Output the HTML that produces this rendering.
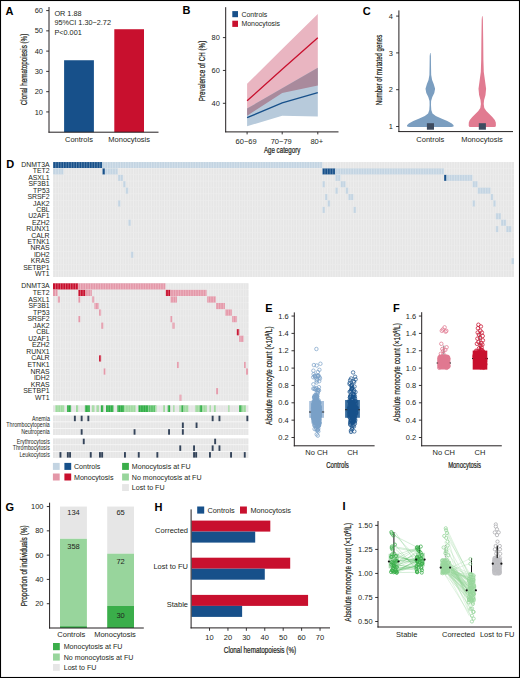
<!DOCTYPE html>
<html><head><meta charset="utf-8"><title>Figure</title>
<style>html,body{margin:0;padding:0;background:#fff;}body{width:520px;height:678px;overflow:hidden;font-family:"Liberation Sans",sans-serif;}svg{display:block;}</style>
</head><body>
<svg width="520" height="678" viewBox="0 0 520 678" font-family='"Liberation Sans", sans-serif'>
<rect x="0" y="0" width="520" height="678" fill="#fff"/>
<text x="5.6" y="14.6" font-size="11" text-anchor="start" fill="#000" font-weight="bold">A</text>
<rect x="64.1" y="60.24" width="29.8" height="71.96" fill="#17508a"/>
<rect x="114.3" y="29.23" width="29.7" height="102.97" fill="#c8102e"/>
<line x1="49" y1="7" x2="49" y2="132.65" stroke="#231f20" stroke-width="1"/>
<line x1="48.5" y1="132.2" x2="158.5" y2="132.2" stroke="#231f20" stroke-width="1"/>
<line x1="46.2" y1="111.93" x2="49" y2="111.93" stroke="#231f20" stroke-width="0.9"/>
<text x="0" y="0" font-size="8" text-anchor="end" fill="#231f20" transform="translate(43 114.53) scale(0.93 1)">10</text>
<line x1="46.2" y1="91.66" x2="49" y2="91.66" stroke="#231f20" stroke-width="0.9"/>
<text x="0" y="0" font-size="8" text-anchor="end" fill="#231f20" transform="translate(43 94.26) scale(0.93 1)">20</text>
<line x1="46.2" y1="71.39" x2="49" y2="71.39" stroke="#231f20" stroke-width="0.9"/>
<text x="0" y="0" font-size="8" text-anchor="end" fill="#231f20" transform="translate(43 73.99) scale(0.93 1)">30</text>
<line x1="46.2" y1="51.12" x2="49" y2="51.12" stroke="#231f20" stroke-width="0.9"/>
<text x="0" y="0" font-size="8" text-anchor="end" fill="#231f20" transform="translate(43 53.72) scale(0.93 1)">40</text>
<line x1="46.2" y1="30.85" x2="49" y2="30.85" stroke="#231f20" stroke-width="0.9"/>
<text x="0" y="0" font-size="8" text-anchor="end" fill="#231f20" transform="translate(43 33.45) scale(0.93 1)">50</text>
<line x1="46.2" y1="10.58" x2="49" y2="10.58" stroke="#231f20" stroke-width="0.9"/>
<text x="0" y="0" font-size="8" text-anchor="end" fill="#231f20" transform="translate(43 13.18) scale(0.93 1)">60</text>
<text x="54.4" y="15.5" font-size="7.3" text-anchor="start" fill="#231f20">OR 1.88</text>
<text x="54.4" y="25.4" font-size="7.3" text-anchor="start" fill="#231f20">95%CI 1.30&#8722;2.72</text>
<text x="54.4" y="35.2" font-size="7.3" text-anchor="start" fill="#231f20">P&lt;0.001</text>
<text x="79" y="141.7" font-size="7.5" text-anchor="middle" fill="#231f20">Controls</text>
<text x="129.2" y="141.7" font-size="7.5" text-anchor="middle" fill="#231f20">Monocytosis</text>
<text x="0" y="0" font-size="8.2" text-anchor="middle" fill="#231f20" stroke="#231f20" stroke-width="0.22" transform="translate(26.8 69.5) rotate(-90) scale(0.7675 1)">Clonal hematopoiesis (%)</text>
<text x="182.6" y="14.4" font-size="11" text-anchor="start" fill="#000" font-weight="bold">B</text>
<polygon points="247.1,83.8 282.2,48.9 317.8,13.9 317.8,85.4 282.2,93.1 247.1,115.7" fill="#e9b5c1"/>
<polygon points="247.1,108.5 282.2,88.3 317.8,67.7 317.8,116.6 282.2,115.7 247.1,126.2" fill="#b7cadb"/>
<polygon points="247.1,108.5 282.2,88.3 317.8,67.7 317.8,85.4 282.2,93.1 247.1,115.7" fill="#a98a9c"/>
<polyline points="247.1,117.7 282.2,102.8 317.8,92.6" fill="none" stroke="#17508a" stroke-width="1.3"/>
<polyline points="247.1,100.8 282.2,69.3 317.8,37.8" fill="none" stroke="#c8102e" stroke-width="1.3"/>
<line x1="225.7" y1="7.2" x2="225.7" y2="132.3" stroke="#231f20" stroke-width="1"/>
<line x1="225.2" y1="131.9" x2="338.5" y2="131.9" stroke="#231f20" stroke-width="1"/>
<line x1="222.9" y1="103.3" x2="225.7" y2="103.3" stroke="#231f20" stroke-width="0.9"/>
<text x="0" y="0" font-size="8" text-anchor="end" fill="#231f20" transform="translate(219.8 105.9) scale(0.93 1)">40</text>
<line x1="222.9" y1="70.45" x2="225.7" y2="70.45" stroke="#231f20" stroke-width="0.9"/>
<text x="0" y="0" font-size="8" text-anchor="end" fill="#231f20" transform="translate(219.8 73.05) scale(0.93 1)">60</text>
<line x1="222.9" y1="37.6" x2="225.7" y2="37.6" stroke="#231f20" stroke-width="0.9"/>
<text x="0" y="0" font-size="8" text-anchor="end" fill="#231f20" transform="translate(219.8 40.2) scale(0.93 1)">80</text>
<line x1="247.1" y1="131.9" x2="247.1" y2="134.4" stroke="#231f20" stroke-width="0.9"/>
<text x="246.1" y="143.6" font-size="7.5" text-anchor="middle" fill="#231f20">60&#8722;69</text>
<line x1="282.2" y1="131.9" x2="282.2" y2="134.4" stroke="#231f20" stroke-width="0.9"/>
<text x="281.2" y="143.6" font-size="7.5" text-anchor="middle" fill="#231f20">70&#8722;79</text>
<line x1="317.8" y1="131.9" x2="317.8" y2="134.4" stroke="#231f20" stroke-width="0.9"/>
<text x="316.8" y="143.6" font-size="7.5" text-anchor="middle" fill="#231f20">80+</text>
<text x="0" y="0" font-size="8.2" text-anchor="middle" fill="#231f20" stroke="#231f20" stroke-width="0.22" transform="translate(282.1 153.1) scale(0.7554 1)">Age category</text>
<text x="0" y="0" font-size="8.2" text-anchor="middle" fill="#231f20" stroke="#231f20" stroke-width="0.22" transform="translate(204.9 70.95) rotate(-90) scale(0.7630 1)">Prevalence of CH (%)</text>
<rect x="232.3" y="11.1" width="5.7" height="6.1" fill="#17508a"/>
<rect x="232.3" y="20.7" width="5.7" height="6.2" fill="#c8102e"/>
<text x="0" y="0" font-size="7.4" fill="#231f20" transform="translate(241.4 16.6) scale(0.94 1)">Controls</text>
<text x="0" y="0" font-size="7.4" fill="#231f20" transform="translate(241.4 26.2) scale(0.94 1)">Monocytosis</text>
<text x="362.7" y="14.5" font-size="11" text-anchor="start" fill="#000" font-weight="bold">C</text>
<polygon points="430.1,53.1 429.7,56 429.6,65 429.4,75 428.5,80 426.9,84 425.5,88.7 426.3,93 428.3,97 429.5,101 429.6,105 429.3,110 428.1,113.5 424.8,116 419.3,118.5 413.3,121 408.8,123.5 407,125.3 407.1,126.6 409.3,127 430.3,127 430.3,127 451.3,127 453.5,126.6 453.6,125.3 451.8,123.5 447.3,121 441.3,118.5 435.8,116 432.5,113.5 431.3,110 431,105 431.1,101 432.3,97 434.3,93 435.1,88.7 433.7,84 432.1,80 431.2,75 431,65 430.9,56 430.5,53.1" fill="#7b9ec0"/>
<polygon points="482,16.2 481.7,20 481.4,40 481.2,60 480.8,72 479.7,80 478.5,88.7 479.1,95 480.5,100 480.9,104 480.3,108 478.3,111 475.3,114 472.3,117 469.8,120 468.8,122.5 468.7,125.5 469.1,126.7 470.3,127 482.3,127 482.3,127 494.3,127 495.5,126.7 495.9,125.5 495.8,122.5 494.8,120 492.3,117 489.3,114 486.3,111 484.3,108 483.7,104 484.1,100 485.5,95 486.1,88.7 484.9,80 483.8,72 483.4,60 483.2,40 482.9,20 482.6,16.2" fill="#e17b91"/>
<rect x="426.9" y="123.2" width="7.1" height="6.5" fill="#3d4b5f"/>
<rect x="478.8" y="123.2" width="7.1" height="6.5" fill="#3d4b5f"/>
<line x1="398.9" y1="10.4" x2="398.9" y2="132" stroke="#231f20" stroke-width="1"/>
<line x1="398.4" y1="131.6" x2="513" y2="131.6" stroke="#231f20" stroke-width="1"/>
<line x1="396.1" y1="126.5" x2="398.9" y2="126.5" stroke="#231f20" stroke-width="0.9"/>
<text x="0" y="0" font-size="8" text-anchor="end" fill="#231f20" transform="translate(393 129.1) scale(0.93 1)">1</text>
<line x1="396.1" y1="89.7" x2="398.9" y2="89.7" stroke="#231f20" stroke-width="0.9"/>
<text x="0" y="0" font-size="8" text-anchor="end" fill="#231f20" transform="translate(393 92.3) scale(0.93 1)">2</text>
<line x1="396.1" y1="52.9" x2="398.9" y2="52.9" stroke="#231f20" stroke-width="0.9"/>
<text x="0" y="0" font-size="8" text-anchor="end" fill="#231f20" transform="translate(393 55.5) scale(0.93 1)">3</text>
<line x1="396.1" y1="16.1" x2="398.9" y2="16.1" stroke="#231f20" stroke-width="0.9"/>
<text x="0" y="0" font-size="8" text-anchor="end" fill="#231f20" transform="translate(393 18.7) scale(0.93 1)">4</text>
<text x="430.3" y="141.7" font-size="7.5" text-anchor="middle" fill="#231f20">Controls</text>
<text x="482" y="141.7" font-size="7.5" text-anchor="middle" fill="#231f20">Monocytosis</text>
<text x="0" y="0" font-size="8.2" text-anchor="middle" fill="#231f20" stroke="#231f20" stroke-width="0.22" transform="translate(382.4 70) rotate(-90) scale(0.7437 1)">Number of mutated genes</text>
<text x="6.2" y="167.6" font-size="11" text-anchor="start" fill="#000" font-weight="bold">D</text>
<rect x="53.2" y="162.05" width="460.7" height="114.93" fill="#efefef"/>
<rect x="53.2" y="162.05" width="460.7" height="5.96" fill="#e6e6e6"/>
<rect x="53.2" y="168.46" width="460.7" height="5.96" fill="#e6e6e6"/>
<rect x="53.2" y="174.87" width="460.7" height="5.96" fill="#e6e6e6"/>
<rect x="53.2" y="181.28" width="460.7" height="5.96" fill="#e6e6e6"/>
<rect x="53.2" y="187.69" width="460.7" height="5.96" fill="#e6e6e6"/>
<rect x="53.2" y="194.1" width="460.7" height="5.96" fill="#e6e6e6"/>
<rect x="53.2" y="200.51" width="460.7" height="5.96" fill="#e6e6e6"/>
<rect x="53.2" y="206.92" width="460.7" height="5.96" fill="#e6e6e6"/>
<rect x="53.2" y="213.33" width="460.7" height="5.96" fill="#e6e6e6"/>
<rect x="53.2" y="219.74" width="460.7" height="5.96" fill="#e6e6e6"/>
<rect x="53.2" y="226.15" width="460.7" height="5.96" fill="#e6e6e6"/>
<rect x="53.2" y="232.56" width="460.7" height="5.96" fill="#e6e6e6"/>
<rect x="53.2" y="238.97" width="460.7" height="5.96" fill="#e6e6e6"/>
<rect x="53.2" y="245.38" width="460.7" height="5.96" fill="#e6e6e6"/>
<rect x="53.2" y="251.79" width="460.7" height="5.96" fill="#e6e6e6"/>
<rect x="53.2" y="258.2" width="460.7" height="5.96" fill="#e6e6e6"/>
<rect x="53.2" y="264.61" width="460.7" height="5.96" fill="#e6e6e6"/>
<rect x="53.2" y="271.02" width="460.7" height="5.96" fill="#e6e6e6"/>
<rect x="53.2" y="162.05" width="49.18" height="5.96" fill="#17508a"/>
<rect x="102.38" y="162.05" width="220" height="5.96" fill="#c3d4e2"/>
<rect x="53.2" y="168.46" width="10.35" height="5.96" fill="#c3d4e2"/>
<rect x="102.38" y="168.46" width="2.59" height="5.96" fill="#17508a"/>
<rect x="104.96" y="168.46" width="12.94" height="5.96" fill="#c3d4e2"/>
<rect x="322.37" y="168.46" width="12.94" height="5.96" fill="#17508a"/>
<rect x="335.31" y="168.46" width="108.7" height="5.96" fill="#c3d4e2"/>
<rect x="117.91" y="174.87" width="5.18" height="5.96" fill="#c3d4e2"/>
<rect x="335.31" y="174.87" width="5.18" height="5.96" fill="#c3d4e2"/>
<rect x="444.02" y="174.87" width="2.59" height="5.96" fill="#17508a"/>
<rect x="446.61" y="174.87" width="25.88" height="5.96" fill="#c3d4e2"/>
<rect x="123.08" y="181.28" width="2.59" height="5.96" fill="#c3d4e2"/>
<rect x="322.37" y="181.28" width="2.59" height="5.96" fill="#c3d4e2"/>
<rect x="340.49" y="181.28" width="5.18" height="5.96" fill="#c3d4e2"/>
<rect x="472.49" y="181.28" width="5.18" height="5.96" fill="#c3d4e2"/>
<rect x="125.67" y="187.69" width="2.59" height="5.96" fill="#c3d4e2"/>
<rect x="335.31" y="187.69" width="2.59" height="5.96" fill="#c3d4e2"/>
<rect x="345.67" y="187.69" width="2.59" height="5.96" fill="#c3d4e2"/>
<rect x="477.67" y="187.69" width="12.94" height="5.96" fill="#c3d4e2"/>
<rect x="324.96" y="194.1" width="2.59" height="5.96" fill="#c3d4e2"/>
<rect x="348.26" y="194.1" width="5.18" height="5.96" fill="#c3d4e2"/>
<rect x="490.61" y="194.1" width="2.59" height="5.96" fill="#c3d4e2"/>
<rect x="117.91" y="200.51" width="2.59" height="5.96" fill="#c3d4e2"/>
<rect x="327.55" y="200.51" width="2.59" height="5.96" fill="#c3d4e2"/>
<rect x="472.49" y="200.51" width="2.59" height="5.96" fill="#c3d4e2"/>
<rect x="493.19" y="200.51" width="2.59" height="5.96" fill="#c3d4e2"/>
<rect x="322.37" y="206.92" width="2.59" height="5.96" fill="#c3d4e2"/>
<rect x="353.43" y="206.92" width="2.59" height="5.96" fill="#c3d4e2"/>
<rect x="495.78" y="213.33" width="5.18" height="5.96" fill="#c3d4e2"/>
<rect x="128.26" y="219.74" width="2.59" height="5.96" fill="#c3d4e2"/>
<rect x="500.96" y="219.74" width="5.18" height="5.96" fill="#c3d4e2"/>
<rect x="495.78" y="226.15" width="2.59" height="5.96" fill="#c3d4e2"/>
<rect x="506.14" y="226.15" width="5.18" height="5.96" fill="#c3d4e2"/>
<rect x="130.85" y="251.79" width="2.59" height="5.96" fill="#c3d4e2"/>
<rect x="511.31" y="258.2" width="2.59" height="5.96" fill="#c3d4e2"/>
<path d="M55.79 162.05v5.96M58.38 162.05v5.96M60.96 162.05v5.96M63.55 162.05v5.96M66.14 162.05v5.96M68.73 162.05v5.96M71.32 162.05v5.96M73.91 162.05v5.96M76.49 162.05v5.96M79.08 162.05v5.96M81.67 162.05v5.96M84.26 162.05v5.96M86.85 162.05v5.96M89.43 162.05v5.96M92.02 162.05v5.96M94.61 162.05v5.96M97.2 162.05v5.96M99.79 162.05v5.96M102.38 162.05v5.96M104.96 162.05v5.96M107.55 162.05v5.96M110.14 162.05v5.96M112.73 162.05v5.96M115.32 162.05v5.96M117.91 162.05v5.96M120.49 162.05v5.96M123.08 162.05v5.96M125.67 162.05v5.96M128.26 162.05v5.96M130.85 162.05v5.96M133.43 162.05v5.96M136.02 162.05v5.96M138.61 162.05v5.96M141.2 162.05v5.96M143.79 162.05v5.96M146.38 162.05v5.96M148.96 162.05v5.96M151.55 162.05v5.96M154.14 162.05v5.96M156.73 162.05v5.96M159.32 162.05v5.96M161.9 162.05v5.96M164.49 162.05v5.96M167.08 162.05v5.96M169.67 162.05v5.96M172.26 162.05v5.96M174.85 162.05v5.96M177.43 162.05v5.96M180.02 162.05v5.96M182.61 162.05v5.96M185.2 162.05v5.96M187.79 162.05v5.96M190.37 162.05v5.96M192.96 162.05v5.96M195.55 162.05v5.96M198.14 162.05v5.96M200.73 162.05v5.96M203.32 162.05v5.96M205.9 162.05v5.96M208.49 162.05v5.96M211.08 162.05v5.96M213.67 162.05v5.96M216.26 162.05v5.96M218.84 162.05v5.96M221.43 162.05v5.96M224.02 162.05v5.96M226.61 162.05v5.96M229.2 162.05v5.96M231.79 162.05v5.96M234.37 162.05v5.96M236.96 162.05v5.96M239.55 162.05v5.96M242.14 162.05v5.96M244.73 162.05v5.96M247.32 162.05v5.96M249.9 162.05v5.96M252.49 162.05v5.96M255.08 162.05v5.96M257.67 162.05v5.96M260.26 162.05v5.96M262.84 162.05v5.96M265.43 162.05v5.96M268.02 162.05v5.96M270.61 162.05v5.96M273.2 162.05v5.96M275.79 162.05v5.96M278.37 162.05v5.96M280.96 162.05v5.96M283.55 162.05v5.96M286.14 162.05v5.96M288.73 162.05v5.96M291.31 162.05v5.96M293.9 162.05v5.96M296.49 162.05v5.96M299.08 162.05v5.96M301.67 162.05v5.96M304.26 162.05v5.96M306.84 162.05v5.96M309.43 162.05v5.96M312.02 162.05v5.96M314.61 162.05v5.96M317.2 162.05v5.96M319.78 162.05v5.96M322.37 162.05v5.96M324.96 162.05v5.96M327.55 162.05v5.96M330.14 162.05v5.96M332.73 162.05v5.96M335.31 162.05v5.96M337.9 162.05v5.96M340.49 162.05v5.96M343.08 162.05v5.96M345.67 162.05v5.96M348.26 162.05v5.96M350.84 162.05v5.96M353.43 162.05v5.96M356.02 162.05v5.96M358.61 162.05v5.96M361.2 162.05v5.96M363.78 162.05v5.96M366.37 162.05v5.96M368.96 162.05v5.96M371.55 162.05v5.96M374.14 162.05v5.96M376.73 162.05v5.96M379.31 162.05v5.96M381.9 162.05v5.96M384.49 162.05v5.96M387.08 162.05v5.96M389.67 162.05v5.96M392.25 162.05v5.96M394.84 162.05v5.96M397.43 162.05v5.96M400.02 162.05v5.96M402.61 162.05v5.96M405.2 162.05v5.96M407.78 162.05v5.96M410.37 162.05v5.96M412.96 162.05v5.96M415.55 162.05v5.96M418.14 162.05v5.96M420.72 162.05v5.96M423.31 162.05v5.96M425.9 162.05v5.96M428.49 162.05v5.96M431.08 162.05v5.96M433.67 162.05v5.96M436.25 162.05v5.96M438.84 162.05v5.96M441.43 162.05v5.96M444.02 162.05v5.96M446.61 162.05v5.96M449.19 162.05v5.96M451.78 162.05v5.96M454.37 162.05v5.96M456.96 162.05v5.96M459.55 162.05v5.96M462.14 162.05v5.96M464.72 162.05v5.96M467.31 162.05v5.96M469.9 162.05v5.96M472.49 162.05v5.96M475.08 162.05v5.96M477.67 162.05v5.96M480.25 162.05v5.96M482.84 162.05v5.96M485.43 162.05v5.96M488.02 162.05v5.96M490.61 162.05v5.96M493.19 162.05v5.96M495.78 162.05v5.96M498.37 162.05v5.96M500.96 162.05v5.96M503.55 162.05v5.96M506.14 162.05v5.96M508.72 162.05v5.96M511.31 162.05v5.96M55.79 168.46v5.96M58.38 168.46v5.96M60.96 168.46v5.96M63.55 168.46v5.96M66.14 168.46v5.96M68.73 168.46v5.96M71.32 168.46v5.96M73.91 168.46v5.96M76.49 168.46v5.96M79.08 168.46v5.96M81.67 168.46v5.96M84.26 168.46v5.96M86.85 168.46v5.96M89.43 168.46v5.96M92.02 168.46v5.96M94.61 168.46v5.96M97.2 168.46v5.96M99.79 168.46v5.96M102.38 168.46v5.96M104.96 168.46v5.96M107.55 168.46v5.96M110.14 168.46v5.96M112.73 168.46v5.96M115.32 168.46v5.96M117.91 168.46v5.96M120.49 168.46v5.96M123.08 168.46v5.96M125.67 168.46v5.96M128.26 168.46v5.96M130.85 168.46v5.96M133.43 168.46v5.96M136.02 168.46v5.96M138.61 168.46v5.96M141.2 168.46v5.96M143.79 168.46v5.96M146.38 168.46v5.96M148.96 168.46v5.96M151.55 168.46v5.96M154.14 168.46v5.96M156.73 168.46v5.96M159.32 168.46v5.96M161.9 168.46v5.96M164.49 168.46v5.96M167.08 168.46v5.96M169.67 168.46v5.96M172.26 168.46v5.96M174.85 168.46v5.96M177.43 168.46v5.96M180.02 168.46v5.96M182.61 168.46v5.96M185.2 168.46v5.96M187.79 168.46v5.96M190.37 168.46v5.96M192.96 168.46v5.96M195.55 168.46v5.96M198.14 168.46v5.96M200.73 168.46v5.96M203.32 168.46v5.96M205.9 168.46v5.96M208.49 168.46v5.96M211.08 168.46v5.96M213.67 168.46v5.96M216.26 168.46v5.96M218.84 168.46v5.96M221.43 168.46v5.96M224.02 168.46v5.96M226.61 168.46v5.96M229.2 168.46v5.96M231.79 168.46v5.96M234.37 168.46v5.96M236.96 168.46v5.96M239.55 168.46v5.96M242.14 168.46v5.96M244.73 168.46v5.96M247.32 168.46v5.96M249.9 168.46v5.96M252.49 168.46v5.96M255.08 168.46v5.96M257.67 168.46v5.96M260.26 168.46v5.96M262.84 168.46v5.96M265.43 168.46v5.96M268.02 168.46v5.96M270.61 168.46v5.96M273.2 168.46v5.96M275.79 168.46v5.96M278.37 168.46v5.96M280.96 168.46v5.96M283.55 168.46v5.96M286.14 168.46v5.96M288.73 168.46v5.96M291.31 168.46v5.96M293.9 168.46v5.96M296.49 168.46v5.96M299.08 168.46v5.96M301.67 168.46v5.96M304.26 168.46v5.96M306.84 168.46v5.96M309.43 168.46v5.96M312.02 168.46v5.96M314.61 168.46v5.96M317.2 168.46v5.96M319.78 168.46v5.96M322.37 168.46v5.96M324.96 168.46v5.96M327.55 168.46v5.96M330.14 168.46v5.96M332.73 168.46v5.96M335.31 168.46v5.96M337.9 168.46v5.96M340.49 168.46v5.96M343.08 168.46v5.96M345.67 168.46v5.96M348.26 168.46v5.96M350.84 168.46v5.96M353.43 168.46v5.96M356.02 168.46v5.96M358.61 168.46v5.96M361.2 168.46v5.96M363.78 168.46v5.96M366.37 168.46v5.96M368.96 168.46v5.96M371.55 168.46v5.96M374.14 168.46v5.96M376.73 168.46v5.96M379.31 168.46v5.96M381.9 168.46v5.96M384.49 168.46v5.96M387.08 168.46v5.96M389.67 168.46v5.96M392.25 168.46v5.96M394.84 168.46v5.96M397.43 168.46v5.96M400.02 168.46v5.96M402.61 168.46v5.96M405.2 168.46v5.96M407.78 168.46v5.96M410.37 168.46v5.96M412.96 168.46v5.96M415.55 168.46v5.96M418.14 168.46v5.96M420.72 168.46v5.96M423.31 168.46v5.96M425.9 168.46v5.96M428.49 168.46v5.96M431.08 168.46v5.96M433.67 168.46v5.96M436.25 168.46v5.96M438.84 168.46v5.96M441.43 168.46v5.96M444.02 168.46v5.96M446.61 168.46v5.96M449.19 168.46v5.96M451.78 168.46v5.96M454.37 168.46v5.96M456.96 168.46v5.96M459.55 168.46v5.96M462.14 168.46v5.96M464.72 168.46v5.96M467.31 168.46v5.96M469.9 168.46v5.96M472.49 168.46v5.96M475.08 168.46v5.96M477.67 168.46v5.96M480.25 168.46v5.96M482.84 168.46v5.96M485.43 168.46v5.96M488.02 168.46v5.96M490.61 168.46v5.96M493.19 168.46v5.96M495.78 168.46v5.96M498.37 168.46v5.96M500.96 168.46v5.96M503.55 168.46v5.96M506.14 168.46v5.96M508.72 168.46v5.96M511.31 168.46v5.96M55.79 174.87v5.96M58.38 174.87v5.96M60.96 174.87v5.96M63.55 174.87v5.96M66.14 174.87v5.96M68.73 174.87v5.96M71.32 174.87v5.96M73.91 174.87v5.96M76.49 174.87v5.96M79.08 174.87v5.96M81.67 174.87v5.96M84.26 174.87v5.96M86.85 174.87v5.96M89.43 174.87v5.96M92.02 174.87v5.96M94.61 174.87v5.96M97.2 174.87v5.96M99.79 174.87v5.96M102.38 174.87v5.96M104.96 174.87v5.96M107.55 174.87v5.96M110.14 174.87v5.96M112.73 174.87v5.96M115.32 174.87v5.96M117.91 174.87v5.96M120.49 174.87v5.96M123.08 174.87v5.96M125.67 174.87v5.96M128.26 174.87v5.96M130.85 174.87v5.96M133.43 174.87v5.96M136.02 174.87v5.96M138.61 174.87v5.96M141.2 174.87v5.96M143.79 174.87v5.96M146.38 174.87v5.96M148.96 174.87v5.96M151.55 174.87v5.96M154.14 174.87v5.96M156.73 174.87v5.96M159.32 174.87v5.96M161.9 174.87v5.96M164.49 174.87v5.96M167.08 174.87v5.96M169.67 174.87v5.96M172.26 174.87v5.96M174.85 174.87v5.96M177.43 174.87v5.96M180.02 174.87v5.96M182.61 174.87v5.96M185.2 174.87v5.96M187.79 174.87v5.96M190.37 174.87v5.96M192.96 174.87v5.96M195.55 174.87v5.96M198.14 174.87v5.96M200.73 174.87v5.96M203.32 174.87v5.96M205.9 174.87v5.96M208.49 174.87v5.96M211.08 174.87v5.96M213.67 174.87v5.96M216.26 174.87v5.96M218.84 174.87v5.96M221.43 174.87v5.96M224.02 174.87v5.96M226.61 174.87v5.96M229.2 174.87v5.96M231.79 174.87v5.96M234.37 174.87v5.96M236.96 174.87v5.96M239.55 174.87v5.96M242.14 174.87v5.96M244.73 174.87v5.96M247.32 174.87v5.96M249.9 174.87v5.96M252.49 174.87v5.96M255.08 174.87v5.96M257.67 174.87v5.96M260.26 174.87v5.96M262.84 174.87v5.96M265.43 174.87v5.96M268.02 174.87v5.96M270.61 174.87v5.96M273.2 174.87v5.96M275.79 174.87v5.96M278.37 174.87v5.96M280.96 174.87v5.96M283.55 174.87v5.96M286.14 174.87v5.96M288.73 174.87v5.96M291.31 174.87v5.96M293.9 174.87v5.96M296.49 174.87v5.96M299.08 174.87v5.96M301.67 174.87v5.96M304.26 174.87v5.96M306.84 174.87v5.96M309.43 174.87v5.96M312.02 174.87v5.96M314.61 174.87v5.96M317.2 174.87v5.96M319.78 174.87v5.96M322.37 174.87v5.96M324.96 174.87v5.96M327.55 174.87v5.96M330.14 174.87v5.96M332.73 174.87v5.96M335.31 174.87v5.96M337.9 174.87v5.96M340.49 174.87v5.96M343.08 174.87v5.96M345.67 174.87v5.96M348.26 174.87v5.96M350.84 174.87v5.96M353.43 174.87v5.96M356.02 174.87v5.96M358.61 174.87v5.96M361.2 174.87v5.96M363.78 174.87v5.96M366.37 174.87v5.96M368.96 174.87v5.96M371.55 174.87v5.96M374.14 174.87v5.96M376.73 174.87v5.96M379.31 174.87v5.96M381.9 174.87v5.96M384.49 174.87v5.96M387.08 174.87v5.96M389.67 174.87v5.96M392.25 174.87v5.96M394.84 174.87v5.96M397.43 174.87v5.96M400.02 174.87v5.96M402.61 174.87v5.96M405.2 174.87v5.96M407.78 174.87v5.96M410.37 174.87v5.96M412.96 174.87v5.96M415.55 174.87v5.96M418.14 174.87v5.96M420.72 174.87v5.96M423.31 174.87v5.96M425.9 174.87v5.96M428.49 174.87v5.96M431.08 174.87v5.96M433.67 174.87v5.96M436.25 174.87v5.96M438.84 174.87v5.96M441.43 174.87v5.96M444.02 174.87v5.96M446.61 174.87v5.96M449.19 174.87v5.96M451.78 174.87v5.96M454.37 174.87v5.96M456.96 174.87v5.96M459.55 174.87v5.96M462.14 174.87v5.96M464.72 174.87v5.96M467.31 174.87v5.96M469.9 174.87v5.96M472.49 174.87v5.96M475.08 174.87v5.96M477.67 174.87v5.96M480.25 174.87v5.96M482.84 174.87v5.96M485.43 174.87v5.96M488.02 174.87v5.96M490.61 174.87v5.96M493.19 174.87v5.96M495.78 174.87v5.96M498.37 174.87v5.96M500.96 174.87v5.96M503.55 174.87v5.96M506.14 174.87v5.96M508.72 174.87v5.96M511.31 174.87v5.96M55.79 181.28v5.96M58.38 181.28v5.96M60.96 181.28v5.96M63.55 181.28v5.96M66.14 181.28v5.96M68.73 181.28v5.96M71.32 181.28v5.96M73.91 181.28v5.96M76.49 181.28v5.96M79.08 181.28v5.96M81.67 181.28v5.96M84.26 181.28v5.96M86.85 181.28v5.96M89.43 181.28v5.96M92.02 181.28v5.96M94.61 181.28v5.96M97.2 181.28v5.96M99.79 181.28v5.96M102.38 181.28v5.96M104.96 181.28v5.96M107.55 181.28v5.96M110.14 181.28v5.96M112.73 181.28v5.96M115.32 181.28v5.96M117.91 181.28v5.96M120.49 181.28v5.96M123.08 181.28v5.96M125.67 181.28v5.96M128.26 181.28v5.96M130.85 181.28v5.96M133.43 181.28v5.96M136.02 181.28v5.96M138.61 181.28v5.96M141.2 181.28v5.96M143.79 181.28v5.96M146.38 181.28v5.96M148.96 181.28v5.96M151.55 181.28v5.96M154.14 181.28v5.96M156.73 181.28v5.96M159.32 181.28v5.96M161.9 181.28v5.96M164.49 181.28v5.96M167.08 181.28v5.96M169.67 181.28v5.96M172.26 181.28v5.96M174.85 181.28v5.96M177.43 181.28v5.96M180.02 181.28v5.96M182.61 181.28v5.96M185.2 181.28v5.96M187.79 181.28v5.96M190.37 181.28v5.96M192.96 181.28v5.96M195.55 181.28v5.96M198.14 181.28v5.96M200.73 181.28v5.96M203.32 181.28v5.96M205.9 181.28v5.96M208.49 181.28v5.96M211.08 181.28v5.96M213.67 181.28v5.96M216.26 181.28v5.96M218.84 181.28v5.96M221.43 181.28v5.96M224.02 181.28v5.96M226.61 181.28v5.96M229.2 181.28v5.96M231.79 181.28v5.96M234.37 181.28v5.96M236.96 181.28v5.96M239.55 181.28v5.96M242.14 181.28v5.96M244.73 181.28v5.96M247.32 181.28v5.96M249.9 181.28v5.96M252.49 181.28v5.96M255.08 181.28v5.96M257.67 181.28v5.96M260.26 181.28v5.96M262.84 181.28v5.96M265.43 181.28v5.96M268.02 181.28v5.96M270.61 181.28v5.96M273.2 181.28v5.96M275.79 181.28v5.96M278.37 181.28v5.96M280.96 181.28v5.96M283.55 181.28v5.96M286.14 181.28v5.96M288.73 181.28v5.96M291.31 181.28v5.96M293.9 181.28v5.96M296.49 181.28v5.96M299.08 181.28v5.96M301.67 181.28v5.96M304.26 181.28v5.96M306.84 181.28v5.96M309.43 181.28v5.96M312.02 181.28v5.96M314.61 181.28v5.96M317.2 181.28v5.96M319.78 181.28v5.96M322.37 181.28v5.96M324.96 181.28v5.96M327.55 181.28v5.96M330.14 181.28v5.96M332.73 181.28v5.96M335.31 181.28v5.96M337.9 181.28v5.96M340.49 181.28v5.96M343.08 181.28v5.96M345.67 181.28v5.96M348.26 181.28v5.96M350.84 181.28v5.96M353.43 181.28v5.96M356.02 181.28v5.96M358.61 181.28v5.96M361.2 181.28v5.96M363.78 181.28v5.96M366.37 181.28v5.96M368.96 181.28v5.96M371.55 181.28v5.96M374.14 181.28v5.96M376.73 181.28v5.96M379.31 181.28v5.96M381.9 181.28v5.96M384.49 181.28v5.96M387.08 181.28v5.96M389.67 181.28v5.96M392.25 181.28v5.96M394.84 181.28v5.96M397.43 181.28v5.96M400.02 181.28v5.96M402.61 181.28v5.96M405.2 181.28v5.96M407.78 181.28v5.96M410.37 181.28v5.96M412.96 181.28v5.96M415.55 181.28v5.96M418.14 181.28v5.96M420.72 181.28v5.96M423.31 181.28v5.96M425.9 181.28v5.96M428.49 181.28v5.96M431.08 181.28v5.96M433.67 181.28v5.96M436.25 181.28v5.96M438.84 181.28v5.96M441.43 181.28v5.96M444.02 181.28v5.96M446.61 181.28v5.96M449.19 181.28v5.96M451.78 181.28v5.96M454.37 181.28v5.96M456.96 181.28v5.96M459.55 181.28v5.96M462.14 181.28v5.96M464.72 181.28v5.96M467.31 181.28v5.96M469.9 181.28v5.96M472.49 181.28v5.96M475.08 181.28v5.96M477.67 181.28v5.96M480.25 181.28v5.96M482.84 181.28v5.96M485.43 181.28v5.96M488.02 181.28v5.96M490.61 181.28v5.96M493.19 181.28v5.96M495.78 181.28v5.96M498.37 181.28v5.96M500.96 181.28v5.96M503.55 181.28v5.96M506.14 181.28v5.96M508.72 181.28v5.96M511.31 181.28v5.96M55.79 187.69v5.96M58.38 187.69v5.96M60.96 187.69v5.96M63.55 187.69v5.96M66.14 187.69v5.96M68.73 187.69v5.96M71.32 187.69v5.96M73.91 187.69v5.96M76.49 187.69v5.96M79.08 187.69v5.96M81.67 187.69v5.96M84.26 187.69v5.96M86.85 187.69v5.96M89.43 187.69v5.96M92.02 187.69v5.96M94.61 187.69v5.96M97.2 187.69v5.96M99.79 187.69v5.96M102.38 187.69v5.96M104.96 187.69v5.96M107.55 187.69v5.96M110.14 187.69v5.96M112.73 187.69v5.96M115.32 187.69v5.96M117.91 187.69v5.96M120.49 187.69v5.96M123.08 187.69v5.96M125.67 187.69v5.96M128.26 187.69v5.96M130.85 187.69v5.96M133.43 187.69v5.96M136.02 187.69v5.96M138.61 187.69v5.96M141.2 187.69v5.96M143.79 187.69v5.96M146.38 187.69v5.96M148.96 187.69v5.96M151.55 187.69v5.96M154.14 187.69v5.96M156.73 187.69v5.96M159.32 187.69v5.96M161.9 187.69v5.96M164.49 187.69v5.96M167.08 187.69v5.96M169.67 187.69v5.96M172.26 187.69v5.96M174.85 187.69v5.96M177.43 187.69v5.96M180.02 187.69v5.96M182.61 187.69v5.96M185.2 187.69v5.96M187.79 187.69v5.96M190.37 187.69v5.96M192.96 187.69v5.96M195.55 187.69v5.96M198.14 187.69v5.96M200.73 187.69v5.96M203.32 187.69v5.96M205.9 187.69v5.96M208.49 187.69v5.96M211.08 187.69v5.96M213.67 187.69v5.96M216.26 187.69v5.96M218.84 187.69v5.96M221.43 187.69v5.96M224.02 187.69v5.96M226.61 187.69v5.96M229.2 187.69v5.96M231.79 187.69v5.96M234.37 187.69v5.96M236.96 187.69v5.96M239.55 187.69v5.96M242.14 187.69v5.96M244.73 187.69v5.96M247.32 187.69v5.96M249.9 187.69v5.96M252.49 187.69v5.96M255.08 187.69v5.96M257.67 187.69v5.96M260.26 187.69v5.96M262.84 187.69v5.96M265.43 187.69v5.96M268.02 187.69v5.96M270.61 187.69v5.96M273.2 187.69v5.96M275.79 187.69v5.96M278.37 187.69v5.96M280.96 187.69v5.96M283.55 187.69v5.96M286.14 187.69v5.96M288.73 187.69v5.96M291.31 187.69v5.96M293.9 187.69v5.96M296.49 187.69v5.96M299.08 187.69v5.96M301.67 187.69v5.96M304.26 187.69v5.96M306.84 187.69v5.96M309.43 187.69v5.96M312.02 187.69v5.96M314.61 187.69v5.96M317.2 187.69v5.96M319.78 187.69v5.96M322.37 187.69v5.96M324.96 187.69v5.96M327.55 187.69v5.96M330.14 187.69v5.96M332.73 187.69v5.96M335.31 187.69v5.96M337.9 187.69v5.96M340.49 187.69v5.96M343.08 187.69v5.96M345.67 187.69v5.96M348.26 187.69v5.96M350.84 187.69v5.96M353.43 187.69v5.96M356.02 187.69v5.96M358.61 187.69v5.96M361.2 187.69v5.96M363.78 187.69v5.96M366.37 187.69v5.96M368.96 187.69v5.96M371.55 187.69v5.96M374.14 187.69v5.96M376.73 187.69v5.96M379.31 187.69v5.96M381.9 187.69v5.96M384.49 187.69v5.96M387.08 187.69v5.96M389.67 187.69v5.96M392.25 187.69v5.96M394.84 187.69v5.96M397.43 187.69v5.96M400.02 187.69v5.96M402.61 187.69v5.96M405.2 187.69v5.96M407.78 187.69v5.96M410.37 187.69v5.96M412.96 187.69v5.96M415.55 187.69v5.96M418.14 187.69v5.96M420.72 187.69v5.96M423.31 187.69v5.96M425.9 187.69v5.96M428.49 187.69v5.96M431.08 187.69v5.96M433.67 187.69v5.96M436.25 187.69v5.96M438.84 187.69v5.96M441.43 187.69v5.96M444.02 187.69v5.96M446.61 187.69v5.96M449.19 187.69v5.96M451.78 187.69v5.96M454.37 187.69v5.96M456.96 187.69v5.96M459.55 187.69v5.96M462.14 187.69v5.96M464.72 187.69v5.96M467.31 187.69v5.96M469.9 187.69v5.96M472.49 187.69v5.96M475.08 187.69v5.96M477.67 187.69v5.96M480.25 187.69v5.96M482.84 187.69v5.96M485.43 187.69v5.96M488.02 187.69v5.96M490.61 187.69v5.96M493.19 187.69v5.96M495.78 187.69v5.96M498.37 187.69v5.96M500.96 187.69v5.96M503.55 187.69v5.96M506.14 187.69v5.96M508.72 187.69v5.96M511.31 187.69v5.96M55.79 194.1v5.96M58.38 194.1v5.96M60.96 194.1v5.96M63.55 194.1v5.96M66.14 194.1v5.96M68.73 194.1v5.96M71.32 194.1v5.96M73.91 194.1v5.96M76.49 194.1v5.96M79.08 194.1v5.96M81.67 194.1v5.96M84.26 194.1v5.96M86.85 194.1v5.96M89.43 194.1v5.96M92.02 194.1v5.96M94.61 194.1v5.96M97.2 194.1v5.96M99.79 194.1v5.96M102.38 194.1v5.96M104.96 194.1v5.96M107.55 194.1v5.96M110.14 194.1v5.96M112.73 194.1v5.96M115.32 194.1v5.96M117.91 194.1v5.96M120.49 194.1v5.96M123.08 194.1v5.96M125.67 194.1v5.96M128.26 194.1v5.96M130.85 194.1v5.96M133.43 194.1v5.96M136.02 194.1v5.96M138.61 194.1v5.96M141.2 194.1v5.96M143.79 194.1v5.96M146.38 194.1v5.96M148.96 194.1v5.96M151.55 194.1v5.96M154.14 194.1v5.96M156.73 194.1v5.96M159.32 194.1v5.96M161.9 194.1v5.96M164.49 194.1v5.96M167.08 194.1v5.96M169.67 194.1v5.96M172.26 194.1v5.96M174.85 194.1v5.96M177.43 194.1v5.96M180.02 194.1v5.96M182.61 194.1v5.96M185.2 194.1v5.96M187.79 194.1v5.96M190.37 194.1v5.96M192.96 194.1v5.96M195.55 194.1v5.96M198.14 194.1v5.96M200.73 194.1v5.96M203.32 194.1v5.96M205.9 194.1v5.96M208.49 194.1v5.96M211.08 194.1v5.96M213.67 194.1v5.96M216.26 194.1v5.96M218.84 194.1v5.96M221.43 194.1v5.96M224.02 194.1v5.96M226.61 194.1v5.96M229.2 194.1v5.96M231.79 194.1v5.96M234.37 194.1v5.96M236.96 194.1v5.96M239.55 194.1v5.96M242.14 194.1v5.96M244.73 194.1v5.96M247.32 194.1v5.96M249.9 194.1v5.96M252.49 194.1v5.96M255.08 194.1v5.96M257.67 194.1v5.96M260.26 194.1v5.96M262.84 194.1v5.96M265.43 194.1v5.96M268.02 194.1v5.96M270.61 194.1v5.96M273.2 194.1v5.96M275.79 194.1v5.96M278.37 194.1v5.96M280.96 194.1v5.96M283.55 194.1v5.96M286.14 194.1v5.96M288.73 194.1v5.96M291.31 194.1v5.96M293.9 194.1v5.96M296.49 194.1v5.96M299.08 194.1v5.96M301.67 194.1v5.96M304.26 194.1v5.96M306.84 194.1v5.96M309.43 194.1v5.96M312.02 194.1v5.96M314.61 194.1v5.96M317.2 194.1v5.96M319.78 194.1v5.96M322.37 194.1v5.96M324.96 194.1v5.96M327.55 194.1v5.96M330.14 194.1v5.96M332.73 194.1v5.96M335.31 194.1v5.96M337.9 194.1v5.96M340.49 194.1v5.96M343.08 194.1v5.96M345.67 194.1v5.96M348.26 194.1v5.96M350.84 194.1v5.96M353.43 194.1v5.96M356.02 194.1v5.96M358.61 194.1v5.96M361.2 194.1v5.96M363.78 194.1v5.96M366.37 194.1v5.96M368.96 194.1v5.96M371.55 194.1v5.96M374.14 194.1v5.96M376.73 194.1v5.96M379.31 194.1v5.96M381.9 194.1v5.96M384.49 194.1v5.96M387.08 194.1v5.96M389.67 194.1v5.96M392.25 194.1v5.96M394.84 194.1v5.96M397.43 194.1v5.96M400.02 194.1v5.96M402.61 194.1v5.96M405.2 194.1v5.96M407.78 194.1v5.96M410.37 194.1v5.96M412.96 194.1v5.96M415.55 194.1v5.96M418.14 194.1v5.96M420.72 194.1v5.96M423.31 194.1v5.96M425.9 194.1v5.96M428.49 194.1v5.96M431.08 194.1v5.96M433.67 194.1v5.96M436.25 194.1v5.96M438.84 194.1v5.96M441.43 194.1v5.96M444.02 194.1v5.96M446.61 194.1v5.96M449.19 194.1v5.96M451.78 194.1v5.96M454.37 194.1v5.96M456.96 194.1v5.96M459.55 194.1v5.96M462.14 194.1v5.96M464.72 194.1v5.96M467.31 194.1v5.96M469.9 194.1v5.96M472.49 194.1v5.96M475.08 194.1v5.96M477.67 194.1v5.96M480.25 194.1v5.96M482.84 194.1v5.96M485.43 194.1v5.96M488.02 194.1v5.96M490.61 194.1v5.96M493.19 194.1v5.96M495.78 194.1v5.96M498.37 194.1v5.96M500.96 194.1v5.96M503.55 194.1v5.96M506.14 194.1v5.96M508.72 194.1v5.96M511.31 194.1v5.96M55.79 200.51v5.96M58.38 200.51v5.96M60.96 200.51v5.96M63.55 200.51v5.96M66.14 200.51v5.96M68.73 200.51v5.96M71.32 200.51v5.96M73.91 200.51v5.96M76.49 200.51v5.96M79.08 200.51v5.96M81.67 200.51v5.96M84.26 200.51v5.96M86.85 200.51v5.96M89.43 200.51v5.96M92.02 200.51v5.96M94.61 200.51v5.96M97.2 200.51v5.96M99.79 200.51v5.96M102.38 200.51v5.96M104.96 200.51v5.96M107.55 200.51v5.96M110.14 200.51v5.96M112.73 200.51v5.96M115.32 200.51v5.96M117.91 200.51v5.96M120.49 200.51v5.96M123.08 200.51v5.96M125.67 200.51v5.96M128.26 200.51v5.96M130.85 200.51v5.96M133.43 200.51v5.96M136.02 200.51v5.96M138.61 200.51v5.96M141.2 200.51v5.96M143.79 200.51v5.96M146.38 200.51v5.96M148.96 200.51v5.96M151.55 200.51v5.96M154.14 200.51v5.96M156.73 200.51v5.96M159.32 200.51v5.96M161.9 200.51v5.96M164.49 200.51v5.96M167.08 200.51v5.96M169.67 200.51v5.96M172.26 200.51v5.96M174.85 200.51v5.96M177.43 200.51v5.96M180.02 200.51v5.96M182.61 200.51v5.96M185.2 200.51v5.96M187.79 200.51v5.96M190.37 200.51v5.96M192.96 200.51v5.96M195.55 200.51v5.96M198.14 200.51v5.96M200.73 200.51v5.96M203.32 200.51v5.96M205.9 200.51v5.96M208.49 200.51v5.96M211.08 200.51v5.96M213.67 200.51v5.96M216.26 200.51v5.96M218.84 200.51v5.96M221.43 200.51v5.96M224.02 200.51v5.96M226.61 200.51v5.96M229.2 200.51v5.96M231.79 200.51v5.96M234.37 200.51v5.96M236.96 200.51v5.96M239.55 200.51v5.96M242.14 200.51v5.96M244.73 200.51v5.96M247.32 200.51v5.96M249.9 200.51v5.96M252.49 200.51v5.96M255.08 200.51v5.96M257.67 200.51v5.96M260.26 200.51v5.96M262.84 200.51v5.96M265.43 200.51v5.96M268.02 200.51v5.96M270.61 200.51v5.96M273.2 200.51v5.96M275.79 200.51v5.96M278.37 200.51v5.96M280.96 200.51v5.96M283.55 200.51v5.96M286.14 200.51v5.96M288.73 200.51v5.96M291.31 200.51v5.96M293.9 200.51v5.96M296.49 200.51v5.96M299.08 200.51v5.96M301.67 200.51v5.96M304.26 200.51v5.96M306.84 200.51v5.96M309.43 200.51v5.96M312.02 200.51v5.96M314.61 200.51v5.96M317.2 200.51v5.96M319.78 200.51v5.96M322.37 200.51v5.96M324.96 200.51v5.96M327.55 200.51v5.96M330.14 200.51v5.96M332.73 200.51v5.96M335.31 200.51v5.96M337.9 200.51v5.96M340.49 200.51v5.96M343.08 200.51v5.96M345.67 200.51v5.96M348.26 200.51v5.96M350.84 200.51v5.96M353.43 200.51v5.96M356.02 200.51v5.96M358.61 200.51v5.96M361.2 200.51v5.96M363.78 200.51v5.96M366.37 200.51v5.96M368.96 200.51v5.96M371.55 200.51v5.96M374.14 200.51v5.96M376.73 200.51v5.96M379.31 200.51v5.96M381.9 200.51v5.96M384.49 200.51v5.96M387.08 200.51v5.96M389.67 200.51v5.96M392.25 200.51v5.96M394.84 200.51v5.96M397.43 200.51v5.96M400.02 200.51v5.96M402.61 200.51v5.96M405.2 200.51v5.96M407.78 200.51v5.96M410.37 200.51v5.96M412.96 200.51v5.96M415.55 200.51v5.96M418.14 200.51v5.96M420.72 200.51v5.96M423.31 200.51v5.96M425.9 200.51v5.96M428.49 200.51v5.96M431.08 200.51v5.96M433.67 200.51v5.96M436.25 200.51v5.96M438.84 200.51v5.96M441.43 200.51v5.96M444.02 200.51v5.96M446.61 200.51v5.96M449.19 200.51v5.96M451.78 200.51v5.96M454.37 200.51v5.96M456.96 200.51v5.96M459.55 200.51v5.96M462.14 200.51v5.96M464.72 200.51v5.96M467.31 200.51v5.96M469.9 200.51v5.96M472.49 200.51v5.96M475.08 200.51v5.96M477.67 200.51v5.96M480.25 200.51v5.96M482.84 200.51v5.96M485.43 200.51v5.96M488.02 200.51v5.96M490.61 200.51v5.96M493.19 200.51v5.96M495.78 200.51v5.96M498.37 200.51v5.96M500.96 200.51v5.96M503.55 200.51v5.96M506.14 200.51v5.96M508.72 200.51v5.96M511.31 200.51v5.96M55.79 206.92v5.96M58.38 206.92v5.96M60.96 206.92v5.96M63.55 206.92v5.96M66.14 206.92v5.96M68.73 206.92v5.96M71.32 206.92v5.96M73.91 206.92v5.96M76.49 206.92v5.96M79.08 206.92v5.96M81.67 206.92v5.96M84.26 206.92v5.96M86.85 206.92v5.96M89.43 206.92v5.96M92.02 206.92v5.96M94.61 206.92v5.96M97.2 206.92v5.96M99.79 206.92v5.96M102.38 206.92v5.96M104.96 206.92v5.96M107.55 206.92v5.96M110.14 206.92v5.96M112.73 206.92v5.96M115.32 206.92v5.96M117.91 206.92v5.96M120.49 206.92v5.96M123.08 206.92v5.96M125.67 206.92v5.96M128.26 206.92v5.96M130.85 206.92v5.96M133.43 206.92v5.96M136.02 206.92v5.96M138.61 206.92v5.96M141.2 206.92v5.96M143.79 206.92v5.96M146.38 206.92v5.96M148.96 206.92v5.96M151.55 206.92v5.96M154.14 206.92v5.96M156.73 206.92v5.96M159.32 206.92v5.96M161.9 206.92v5.96M164.49 206.92v5.96M167.08 206.92v5.96M169.67 206.92v5.96M172.26 206.92v5.96M174.85 206.92v5.96M177.43 206.92v5.96M180.02 206.92v5.96M182.61 206.92v5.96M185.2 206.92v5.96M187.79 206.92v5.96M190.37 206.92v5.96M192.96 206.92v5.96M195.55 206.92v5.96M198.14 206.92v5.96M200.73 206.92v5.96M203.32 206.92v5.96M205.9 206.92v5.96M208.49 206.92v5.96M211.08 206.92v5.96M213.67 206.92v5.96M216.26 206.92v5.96M218.84 206.92v5.96M221.43 206.92v5.96M224.02 206.92v5.96M226.61 206.92v5.96M229.2 206.92v5.96M231.79 206.92v5.96M234.37 206.92v5.96M236.96 206.92v5.96M239.55 206.92v5.96M242.14 206.92v5.96M244.73 206.92v5.96M247.32 206.92v5.96M249.9 206.92v5.96M252.49 206.92v5.96M255.08 206.92v5.96M257.67 206.92v5.96M260.26 206.92v5.96M262.84 206.92v5.96M265.43 206.92v5.96M268.02 206.92v5.96M270.61 206.92v5.96M273.2 206.92v5.96M275.79 206.92v5.96M278.37 206.92v5.96M280.96 206.92v5.96M283.55 206.92v5.96M286.14 206.92v5.96M288.73 206.92v5.96M291.31 206.92v5.96M293.9 206.92v5.96M296.49 206.92v5.96M299.08 206.92v5.96M301.67 206.92v5.96M304.26 206.92v5.96M306.84 206.92v5.96M309.43 206.92v5.96M312.02 206.92v5.96M314.61 206.92v5.96M317.2 206.92v5.96M319.78 206.92v5.96M322.37 206.92v5.96M324.96 206.92v5.96M327.55 206.92v5.96M330.14 206.92v5.96M332.73 206.92v5.96M335.31 206.92v5.96M337.9 206.92v5.96M340.49 206.92v5.96M343.08 206.92v5.96M345.67 206.92v5.96M348.26 206.92v5.96M350.84 206.92v5.96M353.43 206.92v5.96M356.02 206.92v5.96M358.61 206.92v5.96M361.2 206.92v5.96M363.78 206.92v5.96M366.37 206.92v5.96M368.96 206.92v5.96M371.55 206.92v5.96M374.14 206.92v5.96M376.73 206.92v5.96M379.31 206.92v5.96M381.9 206.92v5.96M384.49 206.92v5.96M387.08 206.92v5.96M389.67 206.92v5.96M392.25 206.92v5.96M394.84 206.92v5.96M397.43 206.92v5.96M400.02 206.92v5.96M402.61 206.92v5.96M405.2 206.92v5.96M407.78 206.92v5.96M410.37 206.92v5.96M412.96 206.92v5.96M415.55 206.92v5.96M418.14 206.92v5.96M420.72 206.92v5.96M423.31 206.92v5.96M425.9 206.92v5.96M428.49 206.92v5.96M431.08 206.92v5.96M433.67 206.92v5.96M436.25 206.92v5.96M438.84 206.92v5.96M441.43 206.92v5.96M444.02 206.92v5.96M446.61 206.92v5.96M449.19 206.92v5.96M451.78 206.92v5.96M454.37 206.92v5.96M456.96 206.92v5.96M459.55 206.92v5.96M462.14 206.92v5.96M464.72 206.92v5.96M467.31 206.92v5.96M469.9 206.92v5.96M472.49 206.92v5.96M475.08 206.92v5.96M477.67 206.92v5.96M480.25 206.92v5.96M482.84 206.92v5.96M485.43 206.92v5.96M488.02 206.92v5.96M490.61 206.92v5.96M493.19 206.92v5.96M495.78 206.92v5.96M498.37 206.92v5.96M500.96 206.92v5.96M503.55 206.92v5.96M506.14 206.92v5.96M508.72 206.92v5.96M511.31 206.92v5.96M55.79 213.33v5.96M58.38 213.33v5.96M60.96 213.33v5.96M63.55 213.33v5.96M66.14 213.33v5.96M68.73 213.33v5.96M71.32 213.33v5.96M73.91 213.33v5.96M76.49 213.33v5.96M79.08 213.33v5.96M81.67 213.33v5.96M84.26 213.33v5.96M86.85 213.33v5.96M89.43 213.33v5.96M92.02 213.33v5.96M94.61 213.33v5.96M97.2 213.33v5.96M99.79 213.33v5.96M102.38 213.33v5.96M104.96 213.33v5.96M107.55 213.33v5.96M110.14 213.33v5.96M112.73 213.33v5.96M115.32 213.33v5.96M117.91 213.33v5.96M120.49 213.33v5.96M123.08 213.33v5.96M125.67 213.33v5.96M128.26 213.33v5.96M130.85 213.33v5.96M133.43 213.33v5.96M136.02 213.33v5.96M138.61 213.33v5.96M141.2 213.33v5.96M143.79 213.33v5.96M146.38 213.33v5.96M148.96 213.33v5.96M151.55 213.33v5.96M154.14 213.33v5.96M156.73 213.33v5.96M159.32 213.33v5.96M161.9 213.33v5.96M164.49 213.33v5.96M167.08 213.33v5.96M169.67 213.33v5.96M172.26 213.33v5.96M174.85 213.33v5.96M177.43 213.33v5.96M180.02 213.33v5.96M182.61 213.33v5.96M185.2 213.33v5.96M187.79 213.33v5.96M190.37 213.33v5.96M192.96 213.33v5.96M195.55 213.33v5.96M198.14 213.33v5.96M200.73 213.33v5.96M203.32 213.33v5.96M205.9 213.33v5.96M208.49 213.33v5.96M211.08 213.33v5.96M213.67 213.33v5.96M216.26 213.33v5.96M218.84 213.33v5.96M221.43 213.33v5.96M224.02 213.33v5.96M226.61 213.33v5.96M229.2 213.33v5.96M231.79 213.33v5.96M234.37 213.33v5.96M236.96 213.33v5.96M239.55 213.33v5.96M242.14 213.33v5.96M244.73 213.33v5.96M247.32 213.33v5.96M249.9 213.33v5.96M252.49 213.33v5.96M255.08 213.33v5.96M257.67 213.33v5.96M260.26 213.33v5.96M262.84 213.33v5.96M265.43 213.33v5.96M268.02 213.33v5.96M270.61 213.33v5.96M273.2 213.33v5.96M275.79 213.33v5.96M278.37 213.33v5.96M280.96 213.33v5.96M283.55 213.33v5.96M286.14 213.33v5.96M288.73 213.33v5.96M291.31 213.33v5.96M293.9 213.33v5.96M296.49 213.33v5.96M299.08 213.33v5.96M301.67 213.33v5.96M304.26 213.33v5.96M306.84 213.33v5.96M309.43 213.33v5.96M312.02 213.33v5.96M314.61 213.33v5.96M317.2 213.33v5.96M319.78 213.33v5.96M322.37 213.33v5.96M324.96 213.33v5.96M327.55 213.33v5.96M330.14 213.33v5.96M332.73 213.33v5.96M335.31 213.33v5.96M337.9 213.33v5.96M340.49 213.33v5.96M343.08 213.33v5.96M345.67 213.33v5.96M348.26 213.33v5.96M350.84 213.33v5.96M353.43 213.33v5.96M356.02 213.33v5.96M358.61 213.33v5.96M361.2 213.33v5.96M363.78 213.33v5.96M366.37 213.33v5.96M368.96 213.33v5.96M371.55 213.33v5.96M374.14 213.33v5.96M376.73 213.33v5.96M379.31 213.33v5.96M381.9 213.33v5.96M384.49 213.33v5.96M387.08 213.33v5.96M389.67 213.33v5.96M392.25 213.33v5.96M394.84 213.33v5.96M397.43 213.33v5.96M400.02 213.33v5.96M402.61 213.33v5.96M405.2 213.33v5.96M407.78 213.33v5.96M410.37 213.33v5.96M412.96 213.33v5.96M415.55 213.33v5.96M418.14 213.33v5.96M420.72 213.33v5.96M423.31 213.33v5.96M425.9 213.33v5.96M428.49 213.33v5.96M431.08 213.33v5.96M433.67 213.33v5.96M436.25 213.33v5.96M438.84 213.33v5.96M441.43 213.33v5.96M444.02 213.33v5.96M446.61 213.33v5.96M449.19 213.33v5.96M451.78 213.33v5.96M454.37 213.33v5.96M456.96 213.33v5.96M459.55 213.33v5.96M462.14 213.33v5.96M464.72 213.33v5.96M467.31 213.33v5.96M469.9 213.33v5.96M472.49 213.33v5.96M475.08 213.33v5.96M477.67 213.33v5.96M480.25 213.33v5.96M482.84 213.33v5.96M485.43 213.33v5.96M488.02 213.33v5.96M490.61 213.33v5.96M493.19 213.33v5.96M495.78 213.33v5.96M498.37 213.33v5.96M500.96 213.33v5.96M503.55 213.33v5.96M506.14 213.33v5.96M508.72 213.33v5.96M511.31 213.33v5.96M55.79 219.74v5.96M58.38 219.74v5.96M60.96 219.74v5.96M63.55 219.74v5.96M66.14 219.74v5.96M68.73 219.74v5.96M71.32 219.74v5.96M73.91 219.74v5.96M76.49 219.74v5.96M79.08 219.74v5.96M81.67 219.74v5.96M84.26 219.74v5.96M86.85 219.74v5.96M89.43 219.74v5.96M92.02 219.74v5.96M94.61 219.74v5.96M97.2 219.74v5.96M99.79 219.74v5.96M102.38 219.74v5.96M104.96 219.74v5.96M107.55 219.74v5.96M110.14 219.74v5.96M112.73 219.74v5.96M115.32 219.74v5.96M117.91 219.74v5.96M120.49 219.74v5.96M123.08 219.74v5.96M125.67 219.74v5.96M128.26 219.74v5.96M130.85 219.74v5.96M133.43 219.74v5.96M136.02 219.74v5.96M138.61 219.74v5.96M141.2 219.74v5.96M143.79 219.74v5.96M146.38 219.74v5.96M148.96 219.74v5.96M151.55 219.74v5.96M154.14 219.74v5.96M156.73 219.74v5.96M159.32 219.74v5.96M161.9 219.74v5.96M164.49 219.74v5.96M167.08 219.74v5.96M169.67 219.74v5.96M172.26 219.74v5.96M174.85 219.74v5.96M177.43 219.74v5.96M180.02 219.74v5.96M182.61 219.74v5.96M185.2 219.74v5.96M187.79 219.74v5.96M190.37 219.74v5.96M192.96 219.74v5.96M195.55 219.74v5.96M198.14 219.74v5.96M200.73 219.74v5.96M203.32 219.74v5.96M205.9 219.74v5.96M208.49 219.74v5.96M211.08 219.74v5.96M213.67 219.74v5.96M216.26 219.74v5.96M218.84 219.74v5.96M221.43 219.74v5.96M224.02 219.74v5.96M226.61 219.74v5.96M229.2 219.74v5.96M231.79 219.74v5.96M234.37 219.74v5.96M236.96 219.74v5.96M239.55 219.74v5.96M242.14 219.74v5.96M244.73 219.74v5.96M247.32 219.74v5.96M249.9 219.74v5.96M252.49 219.74v5.96M255.08 219.74v5.96M257.67 219.74v5.96M260.26 219.74v5.96M262.84 219.74v5.96M265.43 219.74v5.96M268.02 219.74v5.96M270.61 219.74v5.96M273.2 219.74v5.96M275.79 219.74v5.96M278.37 219.74v5.96M280.96 219.74v5.96M283.55 219.74v5.96M286.14 219.74v5.96M288.73 219.74v5.96M291.31 219.74v5.96M293.9 219.74v5.96M296.49 219.74v5.96M299.08 219.74v5.96M301.67 219.74v5.96M304.26 219.74v5.96M306.84 219.74v5.96M309.43 219.74v5.96M312.02 219.74v5.96M314.61 219.74v5.96M317.2 219.74v5.96M319.78 219.74v5.96M322.37 219.74v5.96M324.96 219.74v5.96M327.55 219.74v5.96M330.14 219.74v5.96M332.73 219.74v5.96M335.31 219.74v5.96M337.9 219.74v5.96M340.49 219.74v5.96M343.08 219.74v5.96M345.67 219.74v5.96M348.26 219.74v5.96M350.84 219.74v5.96M353.43 219.74v5.96M356.02 219.74v5.96M358.61 219.74v5.96M361.2 219.74v5.96M363.78 219.74v5.96M366.37 219.74v5.96M368.96 219.74v5.96M371.55 219.74v5.96M374.14 219.74v5.96M376.73 219.74v5.96M379.31 219.74v5.96M381.9 219.74v5.96M384.49 219.74v5.96M387.08 219.74v5.96M389.67 219.74v5.96M392.25 219.74v5.96M394.84 219.74v5.96M397.43 219.74v5.96M400.02 219.74v5.96M402.61 219.74v5.96M405.2 219.74v5.96M407.78 219.74v5.96M410.37 219.74v5.96M412.96 219.74v5.96M415.55 219.74v5.96M418.14 219.74v5.96M420.72 219.74v5.96M423.31 219.74v5.96M425.9 219.74v5.96M428.49 219.74v5.96M431.08 219.74v5.96M433.67 219.74v5.96M436.25 219.74v5.96M438.84 219.74v5.96M441.43 219.74v5.96M444.02 219.74v5.96M446.61 219.74v5.96M449.19 219.74v5.96M451.78 219.74v5.96M454.37 219.74v5.96M456.96 219.74v5.96M459.55 219.74v5.96M462.14 219.74v5.96M464.72 219.74v5.96M467.31 219.74v5.96M469.9 219.74v5.96M472.49 219.74v5.96M475.08 219.74v5.96M477.67 219.74v5.96M480.25 219.74v5.96M482.84 219.74v5.96M485.43 219.74v5.96M488.02 219.74v5.96M490.61 219.74v5.96M493.19 219.74v5.96M495.78 219.74v5.96M498.37 219.74v5.96M500.96 219.74v5.96M503.55 219.74v5.96M506.14 219.74v5.96M508.72 219.74v5.96M511.31 219.74v5.96M55.79 226.15v5.96M58.38 226.15v5.96M60.96 226.15v5.96M63.55 226.15v5.96M66.14 226.15v5.96M68.73 226.15v5.96M71.32 226.15v5.96M73.91 226.15v5.96M76.49 226.15v5.96M79.08 226.15v5.96M81.67 226.15v5.96M84.26 226.15v5.96M86.85 226.15v5.96M89.43 226.15v5.96M92.02 226.15v5.96M94.61 226.15v5.96M97.2 226.15v5.96M99.79 226.15v5.96M102.38 226.15v5.96M104.96 226.15v5.96M107.55 226.15v5.96M110.14 226.15v5.96M112.73 226.15v5.96M115.32 226.15v5.96M117.91 226.15v5.96M120.49 226.15v5.96M123.08 226.15v5.96M125.67 226.15v5.96M128.26 226.15v5.96M130.85 226.15v5.96M133.43 226.15v5.96M136.02 226.15v5.96M138.61 226.15v5.96M141.2 226.15v5.96M143.79 226.15v5.96M146.38 226.15v5.96M148.96 226.15v5.96M151.55 226.15v5.96M154.14 226.15v5.96M156.73 226.15v5.96M159.32 226.15v5.96M161.9 226.15v5.96M164.49 226.15v5.96M167.08 226.15v5.96M169.67 226.15v5.96M172.26 226.15v5.96M174.85 226.15v5.96M177.43 226.15v5.96M180.02 226.15v5.96M182.61 226.15v5.96M185.2 226.15v5.96M187.79 226.15v5.96M190.37 226.15v5.96M192.96 226.15v5.96M195.55 226.15v5.96M198.14 226.15v5.96M200.73 226.15v5.96M203.32 226.15v5.96M205.9 226.15v5.96M208.49 226.15v5.96M211.08 226.15v5.96M213.67 226.15v5.96M216.26 226.15v5.96M218.84 226.15v5.96M221.43 226.15v5.96M224.02 226.15v5.96M226.61 226.15v5.96M229.2 226.15v5.96M231.79 226.15v5.96M234.37 226.15v5.96M236.96 226.15v5.96M239.55 226.15v5.96M242.14 226.15v5.96M244.73 226.15v5.96M247.32 226.15v5.96M249.9 226.15v5.96M252.49 226.15v5.96M255.08 226.15v5.96M257.67 226.15v5.96M260.26 226.15v5.96M262.84 226.15v5.96M265.43 226.15v5.96M268.02 226.15v5.96M270.61 226.15v5.96M273.2 226.15v5.96M275.79 226.15v5.96M278.37 226.15v5.96M280.96 226.15v5.96M283.55 226.15v5.96M286.14 226.15v5.96M288.73 226.15v5.96M291.31 226.15v5.96M293.9 226.15v5.96M296.49 226.15v5.96M299.08 226.15v5.96M301.67 226.15v5.96M304.26 226.15v5.96M306.84 226.15v5.96M309.43 226.15v5.96M312.02 226.15v5.96M314.61 226.15v5.96M317.2 226.15v5.96M319.78 226.15v5.96M322.37 226.15v5.96M324.96 226.15v5.96M327.55 226.15v5.96M330.14 226.15v5.96M332.73 226.15v5.96M335.31 226.15v5.96M337.9 226.15v5.96M340.49 226.15v5.96M343.08 226.15v5.96M345.67 226.15v5.96M348.26 226.15v5.96M350.84 226.15v5.96M353.43 226.15v5.96M356.02 226.15v5.96M358.61 226.15v5.96M361.2 226.15v5.96M363.78 226.15v5.96M366.37 226.15v5.96M368.96 226.15v5.96M371.55 226.15v5.96M374.14 226.15v5.96M376.73 226.15v5.96M379.31 226.15v5.96M381.9 226.15v5.96M384.49 226.15v5.96M387.08 226.15v5.96M389.67 226.15v5.96M392.25 226.15v5.96M394.84 226.15v5.96M397.43 226.15v5.96M400.02 226.15v5.96M402.61 226.15v5.96M405.2 226.15v5.96M407.78 226.15v5.96M410.37 226.15v5.96M412.96 226.15v5.96M415.55 226.15v5.96M418.14 226.15v5.96M420.72 226.15v5.96M423.31 226.15v5.96M425.9 226.15v5.96M428.49 226.15v5.96M431.08 226.15v5.96M433.67 226.15v5.96M436.25 226.15v5.96M438.84 226.15v5.96M441.43 226.15v5.96M444.02 226.15v5.96M446.61 226.15v5.96M449.19 226.15v5.96M451.78 226.15v5.96M454.37 226.15v5.96M456.96 226.15v5.96M459.55 226.15v5.96M462.14 226.15v5.96M464.72 226.15v5.96M467.31 226.15v5.96M469.9 226.15v5.96M472.49 226.15v5.96M475.08 226.15v5.96M477.67 226.15v5.96M480.25 226.15v5.96M482.84 226.15v5.96M485.43 226.15v5.96M488.02 226.15v5.96M490.61 226.15v5.96M493.19 226.15v5.96M495.78 226.15v5.96M498.37 226.15v5.96M500.96 226.15v5.96M503.55 226.15v5.96M506.14 226.15v5.96M508.72 226.15v5.96M511.31 226.15v5.96M55.79 232.56v5.96M58.38 232.56v5.96M60.96 232.56v5.96M63.55 232.56v5.96M66.14 232.56v5.96M68.73 232.56v5.96M71.32 232.56v5.96M73.91 232.56v5.96M76.49 232.56v5.96M79.08 232.56v5.96M81.67 232.56v5.96M84.26 232.56v5.96M86.85 232.56v5.96M89.43 232.56v5.96M92.02 232.56v5.96M94.61 232.56v5.96M97.2 232.56v5.96M99.79 232.56v5.96M102.38 232.56v5.96M104.96 232.56v5.96M107.55 232.56v5.96M110.14 232.56v5.96M112.73 232.56v5.96M115.32 232.56v5.96M117.91 232.56v5.96M120.49 232.56v5.96M123.08 232.56v5.96M125.67 232.56v5.96M128.26 232.56v5.96M130.85 232.56v5.96M133.43 232.56v5.96M136.02 232.56v5.96M138.61 232.56v5.96M141.2 232.56v5.96M143.79 232.56v5.96M146.38 232.56v5.96M148.96 232.56v5.96M151.55 232.56v5.96M154.14 232.56v5.96M156.73 232.56v5.96M159.32 232.56v5.96M161.9 232.56v5.96M164.49 232.56v5.96M167.08 232.56v5.96M169.67 232.56v5.96M172.26 232.56v5.96M174.85 232.56v5.96M177.43 232.56v5.96M180.02 232.56v5.96M182.61 232.56v5.96M185.2 232.56v5.96M187.79 232.56v5.96M190.37 232.56v5.96M192.96 232.56v5.96M195.55 232.56v5.96M198.14 232.56v5.96M200.73 232.56v5.96M203.32 232.56v5.96M205.9 232.56v5.96M208.49 232.56v5.96M211.08 232.56v5.96M213.67 232.56v5.96M216.26 232.56v5.96M218.84 232.56v5.96M221.43 232.56v5.96M224.02 232.56v5.96M226.61 232.56v5.96M229.2 232.56v5.96M231.79 232.56v5.96M234.37 232.56v5.96M236.96 232.56v5.96M239.55 232.56v5.96M242.14 232.56v5.96M244.73 232.56v5.96M247.32 232.56v5.96M249.9 232.56v5.96M252.49 232.56v5.96M255.08 232.56v5.96M257.67 232.56v5.96M260.26 232.56v5.96M262.84 232.56v5.96M265.43 232.56v5.96M268.02 232.56v5.96M270.61 232.56v5.96M273.2 232.56v5.96M275.79 232.56v5.96M278.37 232.56v5.96M280.96 232.56v5.96M283.55 232.56v5.96M286.14 232.56v5.96M288.73 232.56v5.96M291.31 232.56v5.96M293.9 232.56v5.96M296.49 232.56v5.96M299.08 232.56v5.96M301.67 232.56v5.96M304.26 232.56v5.96M306.84 232.56v5.96M309.43 232.56v5.96M312.02 232.56v5.96M314.61 232.56v5.96M317.2 232.56v5.96M319.78 232.56v5.96M322.37 232.56v5.96M324.96 232.56v5.96M327.55 232.56v5.96M330.14 232.56v5.96M332.73 232.56v5.96M335.31 232.56v5.96M337.9 232.56v5.96M340.49 232.56v5.96M343.08 232.56v5.96M345.67 232.56v5.96M348.26 232.56v5.96M350.84 232.56v5.96M353.43 232.56v5.96M356.02 232.56v5.96M358.61 232.56v5.96M361.2 232.56v5.96M363.78 232.56v5.96M366.37 232.56v5.96M368.96 232.56v5.96M371.55 232.56v5.96M374.14 232.56v5.96M376.73 232.56v5.96M379.31 232.56v5.96M381.9 232.56v5.96M384.49 232.56v5.96M387.08 232.56v5.96M389.67 232.56v5.96M392.25 232.56v5.96M394.84 232.56v5.96M397.43 232.56v5.96M400.02 232.56v5.96M402.61 232.56v5.96M405.2 232.56v5.96M407.78 232.56v5.96M410.37 232.56v5.96M412.96 232.56v5.96M415.55 232.56v5.96M418.14 232.56v5.96M420.72 232.56v5.96M423.31 232.56v5.96M425.9 232.56v5.96M428.49 232.56v5.96M431.08 232.56v5.96M433.67 232.56v5.96M436.25 232.56v5.96M438.84 232.56v5.96M441.43 232.56v5.96M444.02 232.56v5.96M446.61 232.56v5.96M449.19 232.56v5.96M451.78 232.56v5.96M454.37 232.56v5.96M456.96 232.56v5.96M459.55 232.56v5.96M462.14 232.56v5.96M464.72 232.56v5.96M467.31 232.56v5.96M469.9 232.56v5.96M472.49 232.56v5.96M475.08 232.56v5.96M477.67 232.56v5.96M480.25 232.56v5.96M482.84 232.56v5.96M485.43 232.56v5.96M488.02 232.56v5.96M490.61 232.56v5.96M493.19 232.56v5.96M495.78 232.56v5.96M498.37 232.56v5.96M500.96 232.56v5.96M503.55 232.56v5.96M506.14 232.56v5.96M508.72 232.56v5.96M511.31 232.56v5.96M55.79 238.97v5.96M58.38 238.97v5.96M60.96 238.97v5.96M63.55 238.97v5.96M66.14 238.97v5.96M68.73 238.97v5.96M71.32 238.97v5.96M73.91 238.97v5.96M76.49 238.97v5.96M79.08 238.97v5.96M81.67 238.97v5.96M84.26 238.97v5.96M86.85 238.97v5.96M89.43 238.97v5.96M92.02 238.97v5.96M94.61 238.97v5.96M97.2 238.97v5.96M99.79 238.97v5.96M102.38 238.97v5.96M104.96 238.97v5.96M107.55 238.97v5.96M110.14 238.97v5.96M112.73 238.97v5.96M115.32 238.97v5.96M117.91 238.97v5.96M120.49 238.97v5.96M123.08 238.97v5.96M125.67 238.97v5.96M128.26 238.97v5.96M130.85 238.97v5.96M133.43 238.97v5.96M136.02 238.97v5.96M138.61 238.97v5.96M141.2 238.97v5.96M143.79 238.97v5.96M146.38 238.97v5.96M148.96 238.97v5.96M151.55 238.97v5.96M154.14 238.97v5.96M156.73 238.97v5.96M159.32 238.97v5.96M161.9 238.97v5.96M164.49 238.97v5.96M167.08 238.97v5.96M169.67 238.97v5.96M172.26 238.97v5.96M174.85 238.97v5.96M177.43 238.97v5.96M180.02 238.97v5.96M182.61 238.97v5.96M185.2 238.97v5.96M187.79 238.97v5.96M190.37 238.97v5.96M192.96 238.97v5.96M195.55 238.97v5.96M198.14 238.97v5.96M200.73 238.97v5.96M203.32 238.97v5.96M205.9 238.97v5.96M208.49 238.97v5.96M211.08 238.97v5.96M213.67 238.97v5.96M216.26 238.97v5.96M218.84 238.97v5.96M221.43 238.97v5.96M224.02 238.97v5.96M226.61 238.97v5.96M229.2 238.97v5.96M231.79 238.97v5.96M234.37 238.97v5.96M236.96 238.97v5.96M239.55 238.97v5.96M242.14 238.97v5.96M244.73 238.97v5.96M247.32 238.97v5.96M249.9 238.97v5.96M252.49 238.97v5.96M255.08 238.97v5.96M257.67 238.97v5.96M260.26 238.97v5.96M262.84 238.97v5.96M265.43 238.97v5.96M268.02 238.97v5.96M270.61 238.97v5.96M273.2 238.97v5.96M275.79 238.97v5.96M278.37 238.97v5.96M280.96 238.97v5.96M283.55 238.97v5.96M286.14 238.97v5.96M288.73 238.97v5.96M291.31 238.97v5.96M293.9 238.97v5.96M296.49 238.97v5.96M299.08 238.97v5.96M301.67 238.97v5.96M304.26 238.97v5.96M306.84 238.97v5.96M309.43 238.97v5.96M312.02 238.97v5.96M314.61 238.97v5.96M317.2 238.97v5.96M319.78 238.97v5.96M322.37 238.97v5.96M324.96 238.97v5.96M327.55 238.97v5.96M330.14 238.97v5.96M332.73 238.97v5.96M335.31 238.97v5.96M337.9 238.97v5.96M340.49 238.97v5.96M343.08 238.97v5.96M345.67 238.97v5.96M348.26 238.97v5.96M350.84 238.97v5.96M353.43 238.97v5.96M356.02 238.97v5.96M358.61 238.97v5.96M361.2 238.97v5.96M363.78 238.97v5.96M366.37 238.97v5.96M368.96 238.97v5.96M371.55 238.97v5.96M374.14 238.97v5.96M376.73 238.97v5.96M379.31 238.97v5.96M381.9 238.97v5.96M384.49 238.97v5.96M387.08 238.97v5.96M389.67 238.97v5.96M392.25 238.97v5.96M394.84 238.97v5.96M397.43 238.97v5.96M400.02 238.97v5.96M402.61 238.97v5.96M405.2 238.97v5.96M407.78 238.97v5.96M410.37 238.97v5.96M412.96 238.97v5.96M415.55 238.97v5.96M418.14 238.97v5.96M420.72 238.97v5.96M423.31 238.97v5.96M425.9 238.97v5.96M428.49 238.97v5.96M431.08 238.97v5.96M433.67 238.97v5.96M436.25 238.97v5.96M438.84 238.97v5.96M441.43 238.97v5.96M444.02 238.97v5.96M446.61 238.97v5.96M449.19 238.97v5.96M451.78 238.97v5.96M454.37 238.97v5.96M456.96 238.97v5.96M459.55 238.97v5.96M462.14 238.97v5.96M464.72 238.97v5.96M467.31 238.97v5.96M469.9 238.97v5.96M472.49 238.97v5.96M475.08 238.97v5.96M477.67 238.97v5.96M480.25 238.97v5.96M482.84 238.97v5.96M485.43 238.97v5.96M488.02 238.97v5.96M490.61 238.97v5.96M493.19 238.97v5.96M495.78 238.97v5.96M498.37 238.97v5.96M500.96 238.97v5.96M503.55 238.97v5.96M506.14 238.97v5.96M508.72 238.97v5.96M511.31 238.97v5.96M55.79 245.38v5.96M58.38 245.38v5.96M60.96 245.38v5.96M63.55 245.38v5.96M66.14 245.38v5.96M68.73 245.38v5.96M71.32 245.38v5.96M73.91 245.38v5.96M76.49 245.38v5.96M79.08 245.38v5.96M81.67 245.38v5.96M84.26 245.38v5.96M86.85 245.38v5.96M89.43 245.38v5.96M92.02 245.38v5.96M94.61 245.38v5.96M97.2 245.38v5.96M99.79 245.38v5.96M102.38 245.38v5.96M104.96 245.38v5.96M107.55 245.38v5.96M110.14 245.38v5.96M112.73 245.38v5.96M115.32 245.38v5.96M117.91 245.38v5.96M120.49 245.38v5.96M123.08 245.38v5.96M125.67 245.38v5.96M128.26 245.38v5.96M130.85 245.38v5.96M133.43 245.38v5.96M136.02 245.38v5.96M138.61 245.38v5.96M141.2 245.38v5.96M143.79 245.38v5.96M146.38 245.38v5.96M148.96 245.38v5.96M151.55 245.38v5.96M154.14 245.38v5.96M156.73 245.38v5.96M159.32 245.38v5.96M161.9 245.38v5.96M164.49 245.38v5.96M167.08 245.38v5.96M169.67 245.38v5.96M172.26 245.38v5.96M174.85 245.38v5.96M177.43 245.38v5.96M180.02 245.38v5.96M182.61 245.38v5.96M185.2 245.38v5.96M187.79 245.38v5.96M190.37 245.38v5.96M192.96 245.38v5.96M195.55 245.38v5.96M198.14 245.38v5.96M200.73 245.38v5.96M203.32 245.38v5.96M205.9 245.38v5.96M208.49 245.38v5.96M211.08 245.38v5.96M213.67 245.38v5.96M216.26 245.38v5.96M218.84 245.38v5.96M221.43 245.38v5.96M224.02 245.38v5.96M226.61 245.38v5.96M229.2 245.38v5.96M231.79 245.38v5.96M234.37 245.38v5.96M236.96 245.38v5.96M239.55 245.38v5.96M242.14 245.38v5.96M244.73 245.38v5.96M247.32 245.38v5.96M249.9 245.38v5.96M252.49 245.38v5.96M255.08 245.38v5.96M257.67 245.38v5.96M260.26 245.38v5.96M262.84 245.38v5.96M265.43 245.38v5.96M268.02 245.38v5.96M270.61 245.38v5.96M273.2 245.38v5.96M275.79 245.38v5.96M278.37 245.38v5.96M280.96 245.38v5.96M283.55 245.38v5.96M286.14 245.38v5.96M288.73 245.38v5.96M291.31 245.38v5.96M293.9 245.38v5.96M296.49 245.38v5.96M299.08 245.38v5.96M301.67 245.38v5.96M304.26 245.38v5.96M306.84 245.38v5.96M309.43 245.38v5.96M312.02 245.38v5.96M314.61 245.38v5.96M317.2 245.38v5.96M319.78 245.38v5.96M322.37 245.38v5.96M324.96 245.38v5.96M327.55 245.38v5.96M330.14 245.38v5.96M332.73 245.38v5.96M335.31 245.38v5.96M337.9 245.38v5.96M340.49 245.38v5.96M343.08 245.38v5.96M345.67 245.38v5.96M348.26 245.38v5.96M350.84 245.38v5.96M353.43 245.38v5.96M356.02 245.38v5.96M358.61 245.38v5.96M361.2 245.38v5.96M363.78 245.38v5.96M366.37 245.38v5.96M368.96 245.38v5.96M371.55 245.38v5.96M374.14 245.38v5.96M376.73 245.38v5.96M379.31 245.38v5.96M381.9 245.38v5.96M384.49 245.38v5.96M387.08 245.38v5.96M389.67 245.38v5.96M392.25 245.38v5.96M394.84 245.38v5.96M397.43 245.38v5.96M400.02 245.38v5.96M402.61 245.38v5.96M405.2 245.38v5.96M407.78 245.38v5.96M410.37 245.38v5.96M412.96 245.38v5.96M415.55 245.38v5.96M418.14 245.38v5.96M420.72 245.38v5.96M423.31 245.38v5.96M425.9 245.38v5.96M428.49 245.38v5.96M431.08 245.38v5.96M433.67 245.38v5.96M436.25 245.38v5.96M438.84 245.38v5.96M441.43 245.38v5.96M444.02 245.38v5.96M446.61 245.38v5.96M449.19 245.38v5.96M451.78 245.38v5.96M454.37 245.38v5.96M456.96 245.38v5.96M459.55 245.38v5.96M462.14 245.38v5.96M464.72 245.38v5.96M467.31 245.38v5.96M469.9 245.38v5.96M472.49 245.38v5.96M475.08 245.38v5.96M477.67 245.38v5.96M480.25 245.38v5.96M482.84 245.38v5.96M485.43 245.38v5.96M488.02 245.38v5.96M490.61 245.38v5.96M493.19 245.38v5.96M495.78 245.38v5.96M498.37 245.38v5.96M500.96 245.38v5.96M503.55 245.38v5.96M506.14 245.38v5.96M508.72 245.38v5.96M511.31 245.38v5.96M55.79 251.79v5.96M58.38 251.79v5.96M60.96 251.79v5.96M63.55 251.79v5.96M66.14 251.79v5.96M68.73 251.79v5.96M71.32 251.79v5.96M73.91 251.79v5.96M76.49 251.79v5.96M79.08 251.79v5.96M81.67 251.79v5.96M84.26 251.79v5.96M86.85 251.79v5.96M89.43 251.79v5.96M92.02 251.79v5.96M94.61 251.79v5.96M97.2 251.79v5.96M99.79 251.79v5.96M102.38 251.79v5.96M104.96 251.79v5.96M107.55 251.79v5.96M110.14 251.79v5.96M112.73 251.79v5.96M115.32 251.79v5.96M117.91 251.79v5.96M120.49 251.79v5.96M123.08 251.79v5.96M125.67 251.79v5.96M128.26 251.79v5.96M130.85 251.79v5.96M133.43 251.79v5.96M136.02 251.79v5.96M138.61 251.79v5.96M141.2 251.79v5.96M143.79 251.79v5.96M146.38 251.79v5.96M148.96 251.79v5.96M151.55 251.79v5.96M154.14 251.79v5.96M156.73 251.79v5.96M159.32 251.79v5.96M161.9 251.79v5.96M164.49 251.79v5.96M167.08 251.79v5.96M169.67 251.79v5.96M172.26 251.79v5.96M174.85 251.79v5.96M177.43 251.79v5.96M180.02 251.79v5.96M182.61 251.79v5.96M185.2 251.79v5.96M187.79 251.79v5.96M190.37 251.79v5.96M192.96 251.79v5.96M195.55 251.79v5.96M198.14 251.79v5.96M200.73 251.79v5.96M203.32 251.79v5.96M205.9 251.79v5.96M208.49 251.79v5.96M211.08 251.79v5.96M213.67 251.79v5.96M216.26 251.79v5.96M218.84 251.79v5.96M221.43 251.79v5.96M224.02 251.79v5.96M226.61 251.79v5.96M229.2 251.79v5.96M231.79 251.79v5.96M234.37 251.79v5.96M236.96 251.79v5.96M239.55 251.79v5.96M242.14 251.79v5.96M244.73 251.79v5.96M247.32 251.79v5.96M249.9 251.79v5.96M252.49 251.79v5.96M255.08 251.79v5.96M257.67 251.79v5.96M260.26 251.79v5.96M262.84 251.79v5.96M265.43 251.79v5.96M268.02 251.79v5.96M270.61 251.79v5.96M273.2 251.79v5.96M275.79 251.79v5.96M278.37 251.79v5.96M280.96 251.79v5.96M283.55 251.79v5.96M286.14 251.79v5.96M288.73 251.79v5.96M291.31 251.79v5.96M293.9 251.79v5.96M296.49 251.79v5.96M299.08 251.79v5.96M301.67 251.79v5.96M304.26 251.79v5.96M306.84 251.79v5.96M309.43 251.79v5.96M312.02 251.79v5.96M314.61 251.79v5.96M317.2 251.79v5.96M319.78 251.79v5.96M322.37 251.79v5.96M324.96 251.79v5.96M327.55 251.79v5.96M330.14 251.79v5.96M332.73 251.79v5.96M335.31 251.79v5.96M337.9 251.79v5.96M340.49 251.79v5.96M343.08 251.79v5.96M345.67 251.79v5.96M348.26 251.79v5.96M350.84 251.79v5.96M353.43 251.79v5.96M356.02 251.79v5.96M358.61 251.79v5.96M361.2 251.79v5.96M363.78 251.79v5.96M366.37 251.79v5.96M368.96 251.79v5.96M371.55 251.79v5.96M374.14 251.79v5.96M376.73 251.79v5.96M379.31 251.79v5.96M381.9 251.79v5.96M384.49 251.79v5.96M387.08 251.79v5.96M389.67 251.79v5.96M392.25 251.79v5.96M394.84 251.79v5.96M397.43 251.79v5.96M400.02 251.79v5.96M402.61 251.79v5.96M405.2 251.79v5.96M407.78 251.79v5.96M410.37 251.79v5.96M412.96 251.79v5.96M415.55 251.79v5.96M418.14 251.79v5.96M420.72 251.79v5.96M423.31 251.79v5.96M425.9 251.79v5.96M428.49 251.79v5.96M431.08 251.79v5.96M433.67 251.79v5.96M436.25 251.79v5.96M438.84 251.79v5.96M441.43 251.79v5.96M444.02 251.79v5.96M446.61 251.79v5.96M449.19 251.79v5.96M451.78 251.79v5.96M454.37 251.79v5.96M456.96 251.79v5.96M459.55 251.79v5.96M462.14 251.79v5.96M464.72 251.79v5.96M467.31 251.79v5.96M469.9 251.79v5.96M472.49 251.79v5.96M475.08 251.79v5.96M477.67 251.79v5.96M480.25 251.79v5.96M482.84 251.79v5.96M485.43 251.79v5.96M488.02 251.79v5.96M490.61 251.79v5.96M493.19 251.79v5.96M495.78 251.79v5.96M498.37 251.79v5.96M500.96 251.79v5.96M503.55 251.79v5.96M506.14 251.79v5.96M508.72 251.79v5.96M511.31 251.79v5.96M55.79 258.2v5.96M58.38 258.2v5.96M60.96 258.2v5.96M63.55 258.2v5.96M66.14 258.2v5.96M68.73 258.2v5.96M71.32 258.2v5.96M73.91 258.2v5.96M76.49 258.2v5.96M79.08 258.2v5.96M81.67 258.2v5.96M84.26 258.2v5.96M86.85 258.2v5.96M89.43 258.2v5.96M92.02 258.2v5.96M94.61 258.2v5.96M97.2 258.2v5.96M99.79 258.2v5.96M102.38 258.2v5.96M104.96 258.2v5.96M107.55 258.2v5.96M110.14 258.2v5.96M112.73 258.2v5.96M115.32 258.2v5.96M117.91 258.2v5.96M120.49 258.2v5.96M123.08 258.2v5.96M125.67 258.2v5.96M128.26 258.2v5.96M130.85 258.2v5.96M133.43 258.2v5.96M136.02 258.2v5.96M138.61 258.2v5.96M141.2 258.2v5.96M143.79 258.2v5.96M146.38 258.2v5.96M148.96 258.2v5.96M151.55 258.2v5.96M154.14 258.2v5.96M156.73 258.2v5.96M159.32 258.2v5.96M161.9 258.2v5.96M164.49 258.2v5.96M167.08 258.2v5.96M169.67 258.2v5.96M172.26 258.2v5.96M174.85 258.2v5.96M177.43 258.2v5.96M180.02 258.2v5.96M182.61 258.2v5.96M185.2 258.2v5.96M187.79 258.2v5.96M190.37 258.2v5.96M192.96 258.2v5.96M195.55 258.2v5.96M198.14 258.2v5.96M200.73 258.2v5.96M203.32 258.2v5.96M205.9 258.2v5.96M208.49 258.2v5.96M211.08 258.2v5.96M213.67 258.2v5.96M216.26 258.2v5.96M218.84 258.2v5.96M221.43 258.2v5.96M224.02 258.2v5.96M226.61 258.2v5.96M229.2 258.2v5.96M231.79 258.2v5.96M234.37 258.2v5.96M236.96 258.2v5.96M239.55 258.2v5.96M242.14 258.2v5.96M244.73 258.2v5.96M247.32 258.2v5.96M249.9 258.2v5.96M252.49 258.2v5.96M255.08 258.2v5.96M257.67 258.2v5.96M260.26 258.2v5.96M262.84 258.2v5.96M265.43 258.2v5.96M268.02 258.2v5.96M270.61 258.2v5.96M273.2 258.2v5.96M275.79 258.2v5.96M278.37 258.2v5.96M280.96 258.2v5.96M283.55 258.2v5.96M286.14 258.2v5.96M288.73 258.2v5.96M291.31 258.2v5.96M293.9 258.2v5.96M296.49 258.2v5.96M299.08 258.2v5.96M301.67 258.2v5.96M304.26 258.2v5.96M306.84 258.2v5.96M309.43 258.2v5.96M312.02 258.2v5.96M314.61 258.2v5.96M317.2 258.2v5.96M319.78 258.2v5.96M322.37 258.2v5.96M324.96 258.2v5.96M327.55 258.2v5.96M330.14 258.2v5.96M332.73 258.2v5.96M335.31 258.2v5.96M337.9 258.2v5.96M340.49 258.2v5.96M343.08 258.2v5.96M345.67 258.2v5.96M348.26 258.2v5.96M350.84 258.2v5.96M353.43 258.2v5.96M356.02 258.2v5.96M358.61 258.2v5.96M361.2 258.2v5.96M363.78 258.2v5.96M366.37 258.2v5.96M368.96 258.2v5.96M371.55 258.2v5.96M374.14 258.2v5.96M376.73 258.2v5.96M379.31 258.2v5.96M381.9 258.2v5.96M384.49 258.2v5.96M387.08 258.2v5.96M389.67 258.2v5.96M392.25 258.2v5.96M394.84 258.2v5.96M397.43 258.2v5.96M400.02 258.2v5.96M402.61 258.2v5.96M405.2 258.2v5.96M407.78 258.2v5.96M410.37 258.2v5.96M412.96 258.2v5.96M415.55 258.2v5.96M418.14 258.2v5.96M420.72 258.2v5.96M423.31 258.2v5.96M425.9 258.2v5.96M428.49 258.2v5.96M431.08 258.2v5.96M433.67 258.2v5.96M436.25 258.2v5.96M438.84 258.2v5.96M441.43 258.2v5.96M444.02 258.2v5.96M446.61 258.2v5.96M449.19 258.2v5.96M451.78 258.2v5.96M454.37 258.2v5.96M456.96 258.2v5.96M459.55 258.2v5.96M462.14 258.2v5.96M464.72 258.2v5.96M467.31 258.2v5.96M469.9 258.2v5.96M472.49 258.2v5.96M475.08 258.2v5.96M477.67 258.2v5.96M480.25 258.2v5.96M482.84 258.2v5.96M485.43 258.2v5.96M488.02 258.2v5.96M490.61 258.2v5.96M493.19 258.2v5.96M495.78 258.2v5.96M498.37 258.2v5.96M500.96 258.2v5.96M503.55 258.2v5.96M506.14 258.2v5.96M508.72 258.2v5.96M511.31 258.2v5.96M55.79 264.61v5.96M58.38 264.61v5.96M60.96 264.61v5.96M63.55 264.61v5.96M66.14 264.61v5.96M68.73 264.61v5.96M71.32 264.61v5.96M73.91 264.61v5.96M76.49 264.61v5.96M79.08 264.61v5.96M81.67 264.61v5.96M84.26 264.61v5.96M86.85 264.61v5.96M89.43 264.61v5.96M92.02 264.61v5.96M94.61 264.61v5.96M97.2 264.61v5.96M99.79 264.61v5.96M102.38 264.61v5.96M104.96 264.61v5.96M107.55 264.61v5.96M110.14 264.61v5.96M112.73 264.61v5.96M115.32 264.61v5.96M117.91 264.61v5.96M120.49 264.61v5.96M123.08 264.61v5.96M125.67 264.61v5.96M128.26 264.61v5.96M130.85 264.61v5.96M133.43 264.61v5.96M136.02 264.61v5.96M138.61 264.61v5.96M141.2 264.61v5.96M143.79 264.61v5.96M146.38 264.61v5.96M148.96 264.61v5.96M151.55 264.61v5.96M154.14 264.61v5.96M156.73 264.61v5.96M159.32 264.61v5.96M161.9 264.61v5.96M164.49 264.61v5.96M167.08 264.61v5.96M169.67 264.61v5.96M172.26 264.61v5.96M174.85 264.61v5.96M177.43 264.61v5.96M180.02 264.61v5.96M182.61 264.61v5.96M185.2 264.61v5.96M187.79 264.61v5.96M190.37 264.61v5.96M192.96 264.61v5.96M195.55 264.61v5.96M198.14 264.61v5.96M200.73 264.61v5.96M203.32 264.61v5.96M205.9 264.61v5.96M208.49 264.61v5.96M211.08 264.61v5.96M213.67 264.61v5.96M216.26 264.61v5.96M218.84 264.61v5.96M221.43 264.61v5.96M224.02 264.61v5.96M226.61 264.61v5.96M229.2 264.61v5.96M231.79 264.61v5.96M234.37 264.61v5.96M236.96 264.61v5.96M239.55 264.61v5.96M242.14 264.61v5.96M244.73 264.61v5.96M247.32 264.61v5.96M249.9 264.61v5.96M252.49 264.61v5.96M255.08 264.61v5.96M257.67 264.61v5.96M260.26 264.61v5.96M262.84 264.61v5.96M265.43 264.61v5.96M268.02 264.61v5.96M270.61 264.61v5.96M273.2 264.61v5.96M275.79 264.61v5.96M278.37 264.61v5.96M280.96 264.61v5.96M283.55 264.61v5.96M286.14 264.61v5.96M288.73 264.61v5.96M291.31 264.61v5.96M293.9 264.61v5.96M296.49 264.61v5.96M299.08 264.61v5.96M301.67 264.61v5.96M304.26 264.61v5.96M306.84 264.61v5.96M309.43 264.61v5.96M312.02 264.61v5.96M314.61 264.61v5.96M317.2 264.61v5.96M319.78 264.61v5.96M322.37 264.61v5.96M324.96 264.61v5.96M327.55 264.61v5.96M330.14 264.61v5.96M332.73 264.61v5.96M335.31 264.61v5.96M337.9 264.61v5.96M340.49 264.61v5.96M343.08 264.61v5.96M345.67 264.61v5.96M348.26 264.61v5.96M350.84 264.61v5.96M353.43 264.61v5.96M356.02 264.61v5.96M358.61 264.61v5.96M361.2 264.61v5.96M363.78 264.61v5.96M366.37 264.61v5.96M368.96 264.61v5.96M371.55 264.61v5.96M374.14 264.61v5.96M376.73 264.61v5.96M379.31 264.61v5.96M381.9 264.61v5.96M384.49 264.61v5.96M387.08 264.61v5.96M389.67 264.61v5.96M392.25 264.61v5.96M394.84 264.61v5.96M397.43 264.61v5.96M400.02 264.61v5.96M402.61 264.61v5.96M405.2 264.61v5.96M407.78 264.61v5.96M410.37 264.61v5.96M412.96 264.61v5.96M415.55 264.61v5.96M418.14 264.61v5.96M420.72 264.61v5.96M423.31 264.61v5.96M425.9 264.61v5.96M428.49 264.61v5.96M431.08 264.61v5.96M433.67 264.61v5.96M436.25 264.61v5.96M438.84 264.61v5.96M441.43 264.61v5.96M444.02 264.61v5.96M446.61 264.61v5.96M449.19 264.61v5.96M451.78 264.61v5.96M454.37 264.61v5.96M456.96 264.61v5.96M459.55 264.61v5.96M462.14 264.61v5.96M464.72 264.61v5.96M467.31 264.61v5.96M469.9 264.61v5.96M472.49 264.61v5.96M475.08 264.61v5.96M477.67 264.61v5.96M480.25 264.61v5.96M482.84 264.61v5.96M485.43 264.61v5.96M488.02 264.61v5.96M490.61 264.61v5.96M493.19 264.61v5.96M495.78 264.61v5.96M498.37 264.61v5.96M500.96 264.61v5.96M503.55 264.61v5.96M506.14 264.61v5.96M508.72 264.61v5.96M511.31 264.61v5.96M55.79 271.02v5.96M58.38 271.02v5.96M60.96 271.02v5.96M63.55 271.02v5.96M66.14 271.02v5.96M68.73 271.02v5.96M71.32 271.02v5.96M73.91 271.02v5.96M76.49 271.02v5.96M79.08 271.02v5.96M81.67 271.02v5.96M84.26 271.02v5.96M86.85 271.02v5.96M89.43 271.02v5.96M92.02 271.02v5.96M94.61 271.02v5.96M97.2 271.02v5.96M99.79 271.02v5.96M102.38 271.02v5.96M104.96 271.02v5.96M107.55 271.02v5.96M110.14 271.02v5.96M112.73 271.02v5.96M115.32 271.02v5.96M117.91 271.02v5.96M120.49 271.02v5.96M123.08 271.02v5.96M125.67 271.02v5.96M128.26 271.02v5.96M130.85 271.02v5.96M133.43 271.02v5.96M136.02 271.02v5.96M138.61 271.02v5.96M141.2 271.02v5.96M143.79 271.02v5.96M146.38 271.02v5.96M148.96 271.02v5.96M151.55 271.02v5.96M154.14 271.02v5.96M156.73 271.02v5.96M159.32 271.02v5.96M161.9 271.02v5.96M164.49 271.02v5.96M167.08 271.02v5.96M169.67 271.02v5.96M172.26 271.02v5.96M174.85 271.02v5.96M177.43 271.02v5.96M180.02 271.02v5.96M182.61 271.02v5.96M185.2 271.02v5.96M187.79 271.02v5.96M190.37 271.02v5.96M192.96 271.02v5.96M195.55 271.02v5.96M198.14 271.02v5.96M200.73 271.02v5.96M203.32 271.02v5.96M205.9 271.02v5.96M208.49 271.02v5.96M211.08 271.02v5.96M213.67 271.02v5.96M216.26 271.02v5.96M218.84 271.02v5.96M221.43 271.02v5.96M224.02 271.02v5.96M226.61 271.02v5.96M229.2 271.02v5.96M231.79 271.02v5.96M234.37 271.02v5.96M236.96 271.02v5.96M239.55 271.02v5.96M242.14 271.02v5.96M244.73 271.02v5.96M247.32 271.02v5.96M249.9 271.02v5.96M252.49 271.02v5.96M255.08 271.02v5.96M257.67 271.02v5.96M260.26 271.02v5.96M262.84 271.02v5.96M265.43 271.02v5.96M268.02 271.02v5.96M270.61 271.02v5.96M273.2 271.02v5.96M275.79 271.02v5.96M278.37 271.02v5.96M280.96 271.02v5.96M283.55 271.02v5.96M286.14 271.02v5.96M288.73 271.02v5.96M291.31 271.02v5.96M293.9 271.02v5.96M296.49 271.02v5.96M299.08 271.02v5.96M301.67 271.02v5.96M304.26 271.02v5.96M306.84 271.02v5.96M309.43 271.02v5.96M312.02 271.02v5.96M314.61 271.02v5.96M317.2 271.02v5.96M319.78 271.02v5.96M322.37 271.02v5.96M324.96 271.02v5.96M327.55 271.02v5.96M330.14 271.02v5.96M332.73 271.02v5.96M335.31 271.02v5.96M337.9 271.02v5.96M340.49 271.02v5.96M343.08 271.02v5.96M345.67 271.02v5.96M348.26 271.02v5.96M350.84 271.02v5.96M353.43 271.02v5.96M356.02 271.02v5.96M358.61 271.02v5.96M361.2 271.02v5.96M363.78 271.02v5.96M366.37 271.02v5.96M368.96 271.02v5.96M371.55 271.02v5.96M374.14 271.02v5.96M376.73 271.02v5.96M379.31 271.02v5.96M381.9 271.02v5.96M384.49 271.02v5.96M387.08 271.02v5.96M389.67 271.02v5.96M392.25 271.02v5.96M394.84 271.02v5.96M397.43 271.02v5.96M400.02 271.02v5.96M402.61 271.02v5.96M405.2 271.02v5.96M407.78 271.02v5.96M410.37 271.02v5.96M412.96 271.02v5.96M415.55 271.02v5.96M418.14 271.02v5.96M420.72 271.02v5.96M423.31 271.02v5.96M425.9 271.02v5.96M428.49 271.02v5.96M431.08 271.02v5.96M433.67 271.02v5.96M436.25 271.02v5.96M438.84 271.02v5.96M441.43 271.02v5.96M444.02 271.02v5.96M446.61 271.02v5.96M449.19 271.02v5.96M451.78 271.02v5.96M454.37 271.02v5.96M456.96 271.02v5.96M459.55 271.02v5.96M462.14 271.02v5.96M464.72 271.02v5.96M467.31 271.02v5.96M469.9 271.02v5.96M472.49 271.02v5.96M475.08 271.02v5.96M477.67 271.02v5.96M480.25 271.02v5.96M482.84 271.02v5.96M485.43 271.02v5.96M488.02 271.02v5.96M490.61 271.02v5.96M493.19 271.02v5.96M495.78 271.02v5.96M498.37 271.02v5.96M500.96 271.02v5.96M503.55 271.02v5.96M506.14 271.02v5.96M508.72 271.02v5.96M511.31 271.02v5.96" stroke="#ffffff" stroke-opacity="0.55" stroke-width="0.55" fill="none"/>
<text x="49.6" y="167.05" font-size="6.9" text-anchor="end" fill="#231f20">DNMT3A</text>
<text x="49.6" y="173.46" font-size="6.9" text-anchor="end" fill="#231f20">TET2</text>
<text x="49.6" y="179.87" font-size="6.9" text-anchor="end" fill="#231f20">ASXL1</text>
<text x="49.6" y="186.28" font-size="6.9" text-anchor="end" fill="#231f20">SF3B1</text>
<text x="49.6" y="192.69" font-size="6.9" text-anchor="end" fill="#231f20">TP53</text>
<text x="49.6" y="199.1" font-size="6.9" text-anchor="end" fill="#231f20">SRSF2</text>
<text x="49.6" y="205.51" font-size="6.9" text-anchor="end" fill="#231f20">JAK2</text>
<text x="49.6" y="211.92" font-size="6.9" text-anchor="end" fill="#231f20">CBL</text>
<text x="49.6" y="218.33" font-size="6.9" text-anchor="end" fill="#231f20">U2AF1</text>
<text x="49.6" y="224.74" font-size="6.9" text-anchor="end" fill="#231f20">EZH2</text>
<text x="49.6" y="231.15" font-size="6.9" text-anchor="end" fill="#231f20">RUNX1</text>
<text x="49.6" y="237.56" font-size="6.9" text-anchor="end" fill="#231f20">CALR</text>
<text x="49.6" y="243.97" font-size="6.9" text-anchor="end" fill="#231f20">ETNK1</text>
<text x="49.6" y="250.38" font-size="6.9" text-anchor="end" fill="#231f20">NRAS</text>
<text x="49.6" y="256.79" font-size="6.9" text-anchor="end" fill="#231f20">IDH2</text>
<text x="49.6" y="263.2" font-size="6.9" text-anchor="end" fill="#231f20">KRAS</text>
<text x="49.6" y="269.61" font-size="6.9" text-anchor="end" fill="#231f20">SETBP1</text>
<text x="49.6" y="276.02" font-size="6.9" text-anchor="end" fill="#231f20">WT1</text>
<rect x="53" y="283.3" width="195.4" height="117.52" fill="#efefef"/>
<rect x="53" y="283.3" width="195.4" height="6.17" fill="#e6e6e6"/>
<rect x="53" y="289.85" width="195.4" height="6.17" fill="#e6e6e6"/>
<rect x="53" y="296.4" width="195.4" height="6.17" fill="#e6e6e6"/>
<rect x="53" y="302.95" width="195.4" height="6.17" fill="#e6e6e6"/>
<rect x="53" y="309.5" width="195.4" height="6.17" fill="#e6e6e6"/>
<rect x="53" y="316.05" width="195.4" height="6.17" fill="#e6e6e6"/>
<rect x="53" y="322.6" width="195.4" height="6.17" fill="#e6e6e6"/>
<rect x="53" y="329.15" width="195.4" height="6.17" fill="#e6e6e6"/>
<rect x="53" y="335.7" width="195.4" height="6.17" fill="#e6e6e6"/>
<rect x="53" y="342.25" width="195.4" height="6.17" fill="#e6e6e6"/>
<rect x="53" y="348.8" width="195.4" height="6.17" fill="#e6e6e6"/>
<rect x="53" y="355.35" width="195.4" height="6.17" fill="#e6e6e6"/>
<rect x="53" y="361.9" width="195.4" height="6.17" fill="#e6e6e6"/>
<rect x="53" y="368.45" width="195.4" height="6.17" fill="#e6e6e6"/>
<rect x="53" y="375" width="195.4" height="6.17" fill="#e6e6e6"/>
<rect x="53" y="381.55" width="195.4" height="6.17" fill="#e6e6e6"/>
<rect x="53" y="388.1" width="195.4" height="6.17" fill="#e6e6e6"/>
<rect x="53" y="394.65" width="195.4" height="6.17" fill="#e6e6e6"/>
<rect x="53" y="283.3" width="25" height="6.17" fill="#c8102e"/>
<rect x="78" y="283.3" width="87.5" height="6.17" fill="#e497a8"/>
<rect x="53" y="289.85" width="4.6" height="6.17" fill="#e497a8"/>
<rect x="78.3" y="289.85" width="7.3" height="6.17" fill="#c8102e"/>
<rect x="85.6" y="289.85" width="6.2" height="6.17" fill="#e497a8"/>
<rect x="165.8" y="289.85" width="4.7" height="6.17" fill="#c8102e"/>
<rect x="170.5" y="289.85" width="36.1" height="6.17" fill="#e497a8"/>
<rect x="57.8" y="296.4" width="2" height="6.17" fill="#e497a8"/>
<rect x="78.3" y="296.4" width="2" height="6.17" fill="#e497a8"/>
<rect x="92.2" y="296.4" width="2" height="6.17" fill="#e497a8"/>
<rect x="170.5" y="296.4" width="6.5" height="6.17" fill="#e497a8"/>
<rect x="207.2" y="296.4" width="8.6" height="6.17" fill="#e497a8"/>
<rect x="94.5" y="302.95" width="4.2" height="6.17" fill="#e497a8"/>
<rect x="216.1" y="302.95" width="8.8" height="6.17" fill="#e497a8"/>
<rect x="99.1" y="309.5" width="2" height="6.17" fill="#e497a8"/>
<rect x="225.3" y="309.5" width="6.6" height="6.17" fill="#e497a8"/>
<rect x="78.3" y="316.05" width="2" height="6.17" fill="#e497a8"/>
<rect x="170.3" y="316.05" width="1.9" height="6.17" fill="#e497a8"/>
<rect x="232.2" y="316.05" width="4.6" height="6.17" fill="#e497a8"/>
<rect x="101.3" y="322.6" width="2" height="6.17" fill="#e497a8"/>
<rect x="172.4" y="322.6" width="2.2" height="6.17" fill="#e497a8"/>
<rect x="236.8" y="329.15" width="2.4" height="6.17" fill="#c8102e"/>
<rect x="239.2" y="335.7" width="4.4" height="6.17" fill="#e497a8"/>
<rect x="99.1" y="355.35" width="2" height="6.17" fill="#c8102e"/>
<rect x="177" y="361.9" width="1.9" height="6.17" fill="#e497a8"/>
<rect x="244.1" y="361.9" width="1.7" height="6.17" fill="#e497a8"/>
<rect x="103.6" y="368.45" width="1.9" height="6.17" fill="#e497a8"/>
<rect x="246" y="368.45" width="1.9" height="6.17" fill="#e497a8"/>
<rect x="216.1" y="388.1" width="2" height="6.17" fill="#e497a8"/>
<rect x="179.5" y="394.65" width="2" height="6.17" fill="#e497a8"/>
<path d="M55.51 283.3v6.17M58.01 283.3v6.17M60.52 283.3v6.17M63.02 283.3v6.17M65.53 283.3v6.17M68.03 283.3v6.17M70.54 283.3v6.17M73.04 283.3v6.17M75.55 283.3v6.17M78.05 283.3v6.17M80.56 283.3v6.17M83.06 283.3v6.17M85.57 283.3v6.17M88.07 283.3v6.17M90.58 283.3v6.17M93.08 283.3v6.17M95.59 283.3v6.17M98.09 283.3v6.17M100.6 283.3v6.17M103.1 283.3v6.17M105.61 283.3v6.17M108.11 283.3v6.17M110.62 283.3v6.17M113.12 283.3v6.17M115.63 283.3v6.17M118.13 283.3v6.17M120.64 283.3v6.17M123.14 283.3v6.17M125.65 283.3v6.17M128.15 283.3v6.17M130.66 283.3v6.17M133.16 283.3v6.17M135.67 283.3v6.17M138.17 283.3v6.17M140.68 283.3v6.17M143.18 283.3v6.17M145.69 283.3v6.17M148.19 283.3v6.17M150.7 283.3v6.17M153.21 283.3v6.17M155.71 283.3v6.17M158.22 283.3v6.17M160.72 283.3v6.17M163.23 283.3v6.17M165.73 283.3v6.17M168.24 283.3v6.17M170.74 283.3v6.17M173.25 283.3v6.17M175.75 283.3v6.17M178.26 283.3v6.17M180.76 283.3v6.17M183.27 283.3v6.17M185.77 283.3v6.17M188.28 283.3v6.17M190.78 283.3v6.17M193.29 283.3v6.17M195.79 283.3v6.17M198.3 283.3v6.17M200.8 283.3v6.17M203.31 283.3v6.17M205.81 283.3v6.17M208.32 283.3v6.17M210.82 283.3v6.17M213.33 283.3v6.17M215.83 283.3v6.17M218.34 283.3v6.17M220.84 283.3v6.17M223.35 283.3v6.17M225.85 283.3v6.17M228.36 283.3v6.17M230.86 283.3v6.17M233.37 283.3v6.17M235.87 283.3v6.17M238.38 283.3v6.17M240.88 283.3v6.17M243.39 283.3v6.17M245.89 283.3v6.17M55.51 289.85v6.17M58.01 289.85v6.17M60.52 289.85v6.17M63.02 289.85v6.17M65.53 289.85v6.17M68.03 289.85v6.17M70.54 289.85v6.17M73.04 289.85v6.17M75.55 289.85v6.17M78.05 289.85v6.17M80.56 289.85v6.17M83.06 289.85v6.17M85.57 289.85v6.17M88.07 289.85v6.17M90.58 289.85v6.17M93.08 289.85v6.17M95.59 289.85v6.17M98.09 289.85v6.17M100.6 289.85v6.17M103.1 289.85v6.17M105.61 289.85v6.17M108.11 289.85v6.17M110.62 289.85v6.17M113.12 289.85v6.17M115.63 289.85v6.17M118.13 289.85v6.17M120.64 289.85v6.17M123.14 289.85v6.17M125.65 289.85v6.17M128.15 289.85v6.17M130.66 289.85v6.17M133.16 289.85v6.17M135.67 289.85v6.17M138.17 289.85v6.17M140.68 289.85v6.17M143.18 289.85v6.17M145.69 289.85v6.17M148.19 289.85v6.17M150.7 289.85v6.17M153.21 289.85v6.17M155.71 289.85v6.17M158.22 289.85v6.17M160.72 289.85v6.17M163.23 289.85v6.17M165.73 289.85v6.17M168.24 289.85v6.17M170.74 289.85v6.17M173.25 289.85v6.17M175.75 289.85v6.17M178.26 289.85v6.17M180.76 289.85v6.17M183.27 289.85v6.17M185.77 289.85v6.17M188.28 289.85v6.17M190.78 289.85v6.17M193.29 289.85v6.17M195.79 289.85v6.17M198.3 289.85v6.17M200.8 289.85v6.17M203.31 289.85v6.17M205.81 289.85v6.17M208.32 289.85v6.17M210.82 289.85v6.17M213.33 289.85v6.17M215.83 289.85v6.17M218.34 289.85v6.17M220.84 289.85v6.17M223.35 289.85v6.17M225.85 289.85v6.17M228.36 289.85v6.17M230.86 289.85v6.17M233.37 289.85v6.17M235.87 289.85v6.17M238.38 289.85v6.17M240.88 289.85v6.17M243.39 289.85v6.17M245.89 289.85v6.17M55.51 296.4v6.17M58.01 296.4v6.17M60.52 296.4v6.17M63.02 296.4v6.17M65.53 296.4v6.17M68.03 296.4v6.17M70.54 296.4v6.17M73.04 296.4v6.17M75.55 296.4v6.17M78.05 296.4v6.17M80.56 296.4v6.17M83.06 296.4v6.17M85.57 296.4v6.17M88.07 296.4v6.17M90.58 296.4v6.17M93.08 296.4v6.17M95.59 296.4v6.17M98.09 296.4v6.17M100.6 296.4v6.17M103.1 296.4v6.17M105.61 296.4v6.17M108.11 296.4v6.17M110.62 296.4v6.17M113.12 296.4v6.17M115.63 296.4v6.17M118.13 296.4v6.17M120.64 296.4v6.17M123.14 296.4v6.17M125.65 296.4v6.17M128.15 296.4v6.17M130.66 296.4v6.17M133.16 296.4v6.17M135.67 296.4v6.17M138.17 296.4v6.17M140.68 296.4v6.17M143.18 296.4v6.17M145.69 296.4v6.17M148.19 296.4v6.17M150.7 296.4v6.17M153.21 296.4v6.17M155.71 296.4v6.17M158.22 296.4v6.17M160.72 296.4v6.17M163.23 296.4v6.17M165.73 296.4v6.17M168.24 296.4v6.17M170.74 296.4v6.17M173.25 296.4v6.17M175.75 296.4v6.17M178.26 296.4v6.17M180.76 296.4v6.17M183.27 296.4v6.17M185.77 296.4v6.17M188.28 296.4v6.17M190.78 296.4v6.17M193.29 296.4v6.17M195.79 296.4v6.17M198.3 296.4v6.17M200.8 296.4v6.17M203.31 296.4v6.17M205.81 296.4v6.17M208.32 296.4v6.17M210.82 296.4v6.17M213.33 296.4v6.17M215.83 296.4v6.17M218.34 296.4v6.17M220.84 296.4v6.17M223.35 296.4v6.17M225.85 296.4v6.17M228.36 296.4v6.17M230.86 296.4v6.17M233.37 296.4v6.17M235.87 296.4v6.17M238.38 296.4v6.17M240.88 296.4v6.17M243.39 296.4v6.17M245.89 296.4v6.17M55.51 302.95v6.17M58.01 302.95v6.17M60.52 302.95v6.17M63.02 302.95v6.17M65.53 302.95v6.17M68.03 302.95v6.17M70.54 302.95v6.17M73.04 302.95v6.17M75.55 302.95v6.17M78.05 302.95v6.17M80.56 302.95v6.17M83.06 302.95v6.17M85.57 302.95v6.17M88.07 302.95v6.17M90.58 302.95v6.17M93.08 302.95v6.17M95.59 302.95v6.17M98.09 302.95v6.17M100.6 302.95v6.17M103.1 302.95v6.17M105.61 302.95v6.17M108.11 302.95v6.17M110.62 302.95v6.17M113.12 302.95v6.17M115.63 302.95v6.17M118.13 302.95v6.17M120.64 302.95v6.17M123.14 302.95v6.17M125.65 302.95v6.17M128.15 302.95v6.17M130.66 302.95v6.17M133.16 302.95v6.17M135.67 302.95v6.17M138.17 302.95v6.17M140.68 302.95v6.17M143.18 302.95v6.17M145.69 302.95v6.17M148.19 302.95v6.17M150.7 302.95v6.17M153.21 302.95v6.17M155.71 302.95v6.17M158.22 302.95v6.17M160.72 302.95v6.17M163.23 302.95v6.17M165.73 302.95v6.17M168.24 302.95v6.17M170.74 302.95v6.17M173.25 302.95v6.17M175.75 302.95v6.17M178.26 302.95v6.17M180.76 302.95v6.17M183.27 302.95v6.17M185.77 302.95v6.17M188.28 302.95v6.17M190.78 302.95v6.17M193.29 302.95v6.17M195.79 302.95v6.17M198.3 302.95v6.17M200.8 302.95v6.17M203.31 302.95v6.17M205.81 302.95v6.17M208.32 302.95v6.17M210.82 302.95v6.17M213.33 302.95v6.17M215.83 302.95v6.17M218.34 302.95v6.17M220.84 302.95v6.17M223.35 302.95v6.17M225.85 302.95v6.17M228.36 302.95v6.17M230.86 302.95v6.17M233.37 302.95v6.17M235.87 302.95v6.17M238.38 302.95v6.17M240.88 302.95v6.17M243.39 302.95v6.17M245.89 302.95v6.17M55.51 309.5v6.17M58.01 309.5v6.17M60.52 309.5v6.17M63.02 309.5v6.17M65.53 309.5v6.17M68.03 309.5v6.17M70.54 309.5v6.17M73.04 309.5v6.17M75.55 309.5v6.17M78.05 309.5v6.17M80.56 309.5v6.17M83.06 309.5v6.17M85.57 309.5v6.17M88.07 309.5v6.17M90.58 309.5v6.17M93.08 309.5v6.17M95.59 309.5v6.17M98.09 309.5v6.17M100.6 309.5v6.17M103.1 309.5v6.17M105.61 309.5v6.17M108.11 309.5v6.17M110.62 309.5v6.17M113.12 309.5v6.17M115.63 309.5v6.17M118.13 309.5v6.17M120.64 309.5v6.17M123.14 309.5v6.17M125.65 309.5v6.17M128.15 309.5v6.17M130.66 309.5v6.17M133.16 309.5v6.17M135.67 309.5v6.17M138.17 309.5v6.17M140.68 309.5v6.17M143.18 309.5v6.17M145.69 309.5v6.17M148.19 309.5v6.17M150.7 309.5v6.17M153.21 309.5v6.17M155.71 309.5v6.17M158.22 309.5v6.17M160.72 309.5v6.17M163.23 309.5v6.17M165.73 309.5v6.17M168.24 309.5v6.17M170.74 309.5v6.17M173.25 309.5v6.17M175.75 309.5v6.17M178.26 309.5v6.17M180.76 309.5v6.17M183.27 309.5v6.17M185.77 309.5v6.17M188.28 309.5v6.17M190.78 309.5v6.17M193.29 309.5v6.17M195.79 309.5v6.17M198.3 309.5v6.17M200.8 309.5v6.17M203.31 309.5v6.17M205.81 309.5v6.17M208.32 309.5v6.17M210.82 309.5v6.17M213.33 309.5v6.17M215.83 309.5v6.17M218.34 309.5v6.17M220.84 309.5v6.17M223.35 309.5v6.17M225.85 309.5v6.17M228.36 309.5v6.17M230.86 309.5v6.17M233.37 309.5v6.17M235.87 309.5v6.17M238.38 309.5v6.17M240.88 309.5v6.17M243.39 309.5v6.17M245.89 309.5v6.17M55.51 316.05v6.17M58.01 316.05v6.17M60.52 316.05v6.17M63.02 316.05v6.17M65.53 316.05v6.17M68.03 316.05v6.17M70.54 316.05v6.17M73.04 316.05v6.17M75.55 316.05v6.17M78.05 316.05v6.17M80.56 316.05v6.17M83.06 316.05v6.17M85.57 316.05v6.17M88.07 316.05v6.17M90.58 316.05v6.17M93.08 316.05v6.17M95.59 316.05v6.17M98.09 316.05v6.17M100.6 316.05v6.17M103.1 316.05v6.17M105.61 316.05v6.17M108.11 316.05v6.17M110.62 316.05v6.17M113.12 316.05v6.17M115.63 316.05v6.17M118.13 316.05v6.17M120.64 316.05v6.17M123.14 316.05v6.17M125.65 316.05v6.17M128.15 316.05v6.17M130.66 316.05v6.17M133.16 316.05v6.17M135.67 316.05v6.17M138.17 316.05v6.17M140.68 316.05v6.17M143.18 316.05v6.17M145.69 316.05v6.17M148.19 316.05v6.17M150.7 316.05v6.17M153.21 316.05v6.17M155.71 316.05v6.17M158.22 316.05v6.17M160.72 316.05v6.17M163.23 316.05v6.17M165.73 316.05v6.17M168.24 316.05v6.17M170.74 316.05v6.17M173.25 316.05v6.17M175.75 316.05v6.17M178.26 316.05v6.17M180.76 316.05v6.17M183.27 316.05v6.17M185.77 316.05v6.17M188.28 316.05v6.17M190.78 316.05v6.17M193.29 316.05v6.17M195.79 316.05v6.17M198.3 316.05v6.17M200.8 316.05v6.17M203.31 316.05v6.17M205.81 316.05v6.17M208.32 316.05v6.17M210.82 316.05v6.17M213.33 316.05v6.17M215.83 316.05v6.17M218.34 316.05v6.17M220.84 316.05v6.17M223.35 316.05v6.17M225.85 316.05v6.17M228.36 316.05v6.17M230.86 316.05v6.17M233.37 316.05v6.17M235.87 316.05v6.17M238.38 316.05v6.17M240.88 316.05v6.17M243.39 316.05v6.17M245.89 316.05v6.17M55.51 322.6v6.17M58.01 322.6v6.17M60.52 322.6v6.17M63.02 322.6v6.17M65.53 322.6v6.17M68.03 322.6v6.17M70.54 322.6v6.17M73.04 322.6v6.17M75.55 322.6v6.17M78.05 322.6v6.17M80.56 322.6v6.17M83.06 322.6v6.17M85.57 322.6v6.17M88.07 322.6v6.17M90.58 322.6v6.17M93.08 322.6v6.17M95.59 322.6v6.17M98.09 322.6v6.17M100.6 322.6v6.17M103.1 322.6v6.17M105.61 322.6v6.17M108.11 322.6v6.17M110.62 322.6v6.17M113.12 322.6v6.17M115.63 322.6v6.17M118.13 322.6v6.17M120.64 322.6v6.17M123.14 322.6v6.17M125.65 322.6v6.17M128.15 322.6v6.17M130.66 322.6v6.17M133.16 322.6v6.17M135.67 322.6v6.17M138.17 322.6v6.17M140.68 322.6v6.17M143.18 322.6v6.17M145.69 322.6v6.17M148.19 322.6v6.17M150.7 322.6v6.17M153.21 322.6v6.17M155.71 322.6v6.17M158.22 322.6v6.17M160.72 322.6v6.17M163.23 322.6v6.17M165.73 322.6v6.17M168.24 322.6v6.17M170.74 322.6v6.17M173.25 322.6v6.17M175.75 322.6v6.17M178.26 322.6v6.17M180.76 322.6v6.17M183.27 322.6v6.17M185.77 322.6v6.17M188.28 322.6v6.17M190.78 322.6v6.17M193.29 322.6v6.17M195.79 322.6v6.17M198.3 322.6v6.17M200.8 322.6v6.17M203.31 322.6v6.17M205.81 322.6v6.17M208.32 322.6v6.17M210.82 322.6v6.17M213.33 322.6v6.17M215.83 322.6v6.17M218.34 322.6v6.17M220.84 322.6v6.17M223.35 322.6v6.17M225.85 322.6v6.17M228.36 322.6v6.17M230.86 322.6v6.17M233.37 322.6v6.17M235.87 322.6v6.17M238.38 322.6v6.17M240.88 322.6v6.17M243.39 322.6v6.17M245.89 322.6v6.17M55.51 329.15v6.17M58.01 329.15v6.17M60.52 329.15v6.17M63.02 329.15v6.17M65.53 329.15v6.17M68.03 329.15v6.17M70.54 329.15v6.17M73.04 329.15v6.17M75.55 329.15v6.17M78.05 329.15v6.17M80.56 329.15v6.17M83.06 329.15v6.17M85.57 329.15v6.17M88.07 329.15v6.17M90.58 329.15v6.17M93.08 329.15v6.17M95.59 329.15v6.17M98.09 329.15v6.17M100.6 329.15v6.17M103.1 329.15v6.17M105.61 329.15v6.17M108.11 329.15v6.17M110.62 329.15v6.17M113.12 329.15v6.17M115.63 329.15v6.17M118.13 329.15v6.17M120.64 329.15v6.17M123.14 329.15v6.17M125.65 329.15v6.17M128.15 329.15v6.17M130.66 329.15v6.17M133.16 329.15v6.17M135.67 329.15v6.17M138.17 329.15v6.17M140.68 329.15v6.17M143.18 329.15v6.17M145.69 329.15v6.17M148.19 329.15v6.17M150.7 329.15v6.17M153.21 329.15v6.17M155.71 329.15v6.17M158.22 329.15v6.17M160.72 329.15v6.17M163.23 329.15v6.17M165.73 329.15v6.17M168.24 329.15v6.17M170.74 329.15v6.17M173.25 329.15v6.17M175.75 329.15v6.17M178.26 329.15v6.17M180.76 329.15v6.17M183.27 329.15v6.17M185.77 329.15v6.17M188.28 329.15v6.17M190.78 329.15v6.17M193.29 329.15v6.17M195.79 329.15v6.17M198.3 329.15v6.17M200.8 329.15v6.17M203.31 329.15v6.17M205.81 329.15v6.17M208.32 329.15v6.17M210.82 329.15v6.17M213.33 329.15v6.17M215.83 329.15v6.17M218.34 329.15v6.17M220.84 329.15v6.17M223.35 329.15v6.17M225.85 329.15v6.17M228.36 329.15v6.17M230.86 329.15v6.17M233.37 329.15v6.17M235.87 329.15v6.17M238.38 329.15v6.17M240.88 329.15v6.17M243.39 329.15v6.17M245.89 329.15v6.17M55.51 335.7v6.17M58.01 335.7v6.17M60.52 335.7v6.17M63.02 335.7v6.17M65.53 335.7v6.17M68.03 335.7v6.17M70.54 335.7v6.17M73.04 335.7v6.17M75.55 335.7v6.17M78.05 335.7v6.17M80.56 335.7v6.17M83.06 335.7v6.17M85.57 335.7v6.17M88.07 335.7v6.17M90.58 335.7v6.17M93.08 335.7v6.17M95.59 335.7v6.17M98.09 335.7v6.17M100.6 335.7v6.17M103.1 335.7v6.17M105.61 335.7v6.17M108.11 335.7v6.17M110.62 335.7v6.17M113.12 335.7v6.17M115.63 335.7v6.17M118.13 335.7v6.17M120.64 335.7v6.17M123.14 335.7v6.17M125.65 335.7v6.17M128.15 335.7v6.17M130.66 335.7v6.17M133.16 335.7v6.17M135.67 335.7v6.17M138.17 335.7v6.17M140.68 335.7v6.17M143.18 335.7v6.17M145.69 335.7v6.17M148.19 335.7v6.17M150.7 335.7v6.17M153.21 335.7v6.17M155.71 335.7v6.17M158.22 335.7v6.17M160.72 335.7v6.17M163.23 335.7v6.17M165.73 335.7v6.17M168.24 335.7v6.17M170.74 335.7v6.17M173.25 335.7v6.17M175.75 335.7v6.17M178.26 335.7v6.17M180.76 335.7v6.17M183.27 335.7v6.17M185.77 335.7v6.17M188.28 335.7v6.17M190.78 335.7v6.17M193.29 335.7v6.17M195.79 335.7v6.17M198.3 335.7v6.17M200.8 335.7v6.17M203.31 335.7v6.17M205.81 335.7v6.17M208.32 335.7v6.17M210.82 335.7v6.17M213.33 335.7v6.17M215.83 335.7v6.17M218.34 335.7v6.17M220.84 335.7v6.17M223.35 335.7v6.17M225.85 335.7v6.17M228.36 335.7v6.17M230.86 335.7v6.17M233.37 335.7v6.17M235.87 335.7v6.17M238.38 335.7v6.17M240.88 335.7v6.17M243.39 335.7v6.17M245.89 335.7v6.17M55.51 342.25v6.17M58.01 342.25v6.17M60.52 342.25v6.17M63.02 342.25v6.17M65.53 342.25v6.17M68.03 342.25v6.17M70.54 342.25v6.17M73.04 342.25v6.17M75.55 342.25v6.17M78.05 342.25v6.17M80.56 342.25v6.17M83.06 342.25v6.17M85.57 342.25v6.17M88.07 342.25v6.17M90.58 342.25v6.17M93.08 342.25v6.17M95.59 342.25v6.17M98.09 342.25v6.17M100.6 342.25v6.17M103.1 342.25v6.17M105.61 342.25v6.17M108.11 342.25v6.17M110.62 342.25v6.17M113.12 342.25v6.17M115.63 342.25v6.17M118.13 342.25v6.17M120.64 342.25v6.17M123.14 342.25v6.17M125.65 342.25v6.17M128.15 342.25v6.17M130.66 342.25v6.17M133.16 342.25v6.17M135.67 342.25v6.17M138.17 342.25v6.17M140.68 342.25v6.17M143.18 342.25v6.17M145.69 342.25v6.17M148.19 342.25v6.17M150.7 342.25v6.17M153.21 342.25v6.17M155.71 342.25v6.17M158.22 342.25v6.17M160.72 342.25v6.17M163.23 342.25v6.17M165.73 342.25v6.17M168.24 342.25v6.17M170.74 342.25v6.17M173.25 342.25v6.17M175.75 342.25v6.17M178.26 342.25v6.17M180.76 342.25v6.17M183.27 342.25v6.17M185.77 342.25v6.17M188.28 342.25v6.17M190.78 342.25v6.17M193.29 342.25v6.17M195.79 342.25v6.17M198.3 342.25v6.17M200.8 342.25v6.17M203.31 342.25v6.17M205.81 342.25v6.17M208.32 342.25v6.17M210.82 342.25v6.17M213.33 342.25v6.17M215.83 342.25v6.17M218.34 342.25v6.17M220.84 342.25v6.17M223.35 342.25v6.17M225.85 342.25v6.17M228.36 342.25v6.17M230.86 342.25v6.17M233.37 342.25v6.17M235.87 342.25v6.17M238.38 342.25v6.17M240.88 342.25v6.17M243.39 342.25v6.17M245.89 342.25v6.17M55.51 348.8v6.17M58.01 348.8v6.17M60.52 348.8v6.17M63.02 348.8v6.17M65.53 348.8v6.17M68.03 348.8v6.17M70.54 348.8v6.17M73.04 348.8v6.17M75.55 348.8v6.17M78.05 348.8v6.17M80.56 348.8v6.17M83.06 348.8v6.17M85.57 348.8v6.17M88.07 348.8v6.17M90.58 348.8v6.17M93.08 348.8v6.17M95.59 348.8v6.17M98.09 348.8v6.17M100.6 348.8v6.17M103.1 348.8v6.17M105.61 348.8v6.17M108.11 348.8v6.17M110.62 348.8v6.17M113.12 348.8v6.17M115.63 348.8v6.17M118.13 348.8v6.17M120.64 348.8v6.17M123.14 348.8v6.17M125.65 348.8v6.17M128.15 348.8v6.17M130.66 348.8v6.17M133.16 348.8v6.17M135.67 348.8v6.17M138.17 348.8v6.17M140.68 348.8v6.17M143.18 348.8v6.17M145.69 348.8v6.17M148.19 348.8v6.17M150.7 348.8v6.17M153.21 348.8v6.17M155.71 348.8v6.17M158.22 348.8v6.17M160.72 348.8v6.17M163.23 348.8v6.17M165.73 348.8v6.17M168.24 348.8v6.17M170.74 348.8v6.17M173.25 348.8v6.17M175.75 348.8v6.17M178.26 348.8v6.17M180.76 348.8v6.17M183.27 348.8v6.17M185.77 348.8v6.17M188.28 348.8v6.17M190.78 348.8v6.17M193.29 348.8v6.17M195.79 348.8v6.17M198.3 348.8v6.17M200.8 348.8v6.17M203.31 348.8v6.17M205.81 348.8v6.17M208.32 348.8v6.17M210.82 348.8v6.17M213.33 348.8v6.17M215.83 348.8v6.17M218.34 348.8v6.17M220.84 348.8v6.17M223.35 348.8v6.17M225.85 348.8v6.17M228.36 348.8v6.17M230.86 348.8v6.17M233.37 348.8v6.17M235.87 348.8v6.17M238.38 348.8v6.17M240.88 348.8v6.17M243.39 348.8v6.17M245.89 348.8v6.17M55.51 355.35v6.17M58.01 355.35v6.17M60.52 355.35v6.17M63.02 355.35v6.17M65.53 355.35v6.17M68.03 355.35v6.17M70.54 355.35v6.17M73.04 355.35v6.17M75.55 355.35v6.17M78.05 355.35v6.17M80.56 355.35v6.17M83.06 355.35v6.17M85.57 355.35v6.17M88.07 355.35v6.17M90.58 355.35v6.17M93.08 355.35v6.17M95.59 355.35v6.17M98.09 355.35v6.17M100.6 355.35v6.17M103.1 355.35v6.17M105.61 355.35v6.17M108.11 355.35v6.17M110.62 355.35v6.17M113.12 355.35v6.17M115.63 355.35v6.17M118.13 355.35v6.17M120.64 355.35v6.17M123.14 355.35v6.17M125.65 355.35v6.17M128.15 355.35v6.17M130.66 355.35v6.17M133.16 355.35v6.17M135.67 355.35v6.17M138.17 355.35v6.17M140.68 355.35v6.17M143.18 355.35v6.17M145.69 355.35v6.17M148.19 355.35v6.17M150.7 355.35v6.17M153.21 355.35v6.17M155.71 355.35v6.17M158.22 355.35v6.17M160.72 355.35v6.17M163.23 355.35v6.17M165.73 355.35v6.17M168.24 355.35v6.17M170.74 355.35v6.17M173.25 355.35v6.17M175.75 355.35v6.17M178.26 355.35v6.17M180.76 355.35v6.17M183.27 355.35v6.17M185.77 355.35v6.17M188.28 355.35v6.17M190.78 355.35v6.17M193.29 355.35v6.17M195.79 355.35v6.17M198.3 355.35v6.17M200.8 355.35v6.17M203.31 355.35v6.17M205.81 355.35v6.17M208.32 355.35v6.17M210.82 355.35v6.17M213.33 355.35v6.17M215.83 355.35v6.17M218.34 355.35v6.17M220.84 355.35v6.17M223.35 355.35v6.17M225.85 355.35v6.17M228.36 355.35v6.17M230.86 355.35v6.17M233.37 355.35v6.17M235.87 355.35v6.17M238.38 355.35v6.17M240.88 355.35v6.17M243.39 355.35v6.17M245.89 355.35v6.17M55.51 361.9v6.17M58.01 361.9v6.17M60.52 361.9v6.17M63.02 361.9v6.17M65.53 361.9v6.17M68.03 361.9v6.17M70.54 361.9v6.17M73.04 361.9v6.17M75.55 361.9v6.17M78.05 361.9v6.17M80.56 361.9v6.17M83.06 361.9v6.17M85.57 361.9v6.17M88.07 361.9v6.17M90.58 361.9v6.17M93.08 361.9v6.17M95.59 361.9v6.17M98.09 361.9v6.17M100.6 361.9v6.17M103.1 361.9v6.17M105.61 361.9v6.17M108.11 361.9v6.17M110.62 361.9v6.17M113.12 361.9v6.17M115.63 361.9v6.17M118.13 361.9v6.17M120.64 361.9v6.17M123.14 361.9v6.17M125.65 361.9v6.17M128.15 361.9v6.17M130.66 361.9v6.17M133.16 361.9v6.17M135.67 361.9v6.17M138.17 361.9v6.17M140.68 361.9v6.17M143.18 361.9v6.17M145.69 361.9v6.17M148.19 361.9v6.17M150.7 361.9v6.17M153.21 361.9v6.17M155.71 361.9v6.17M158.22 361.9v6.17M160.72 361.9v6.17M163.23 361.9v6.17M165.73 361.9v6.17M168.24 361.9v6.17M170.74 361.9v6.17M173.25 361.9v6.17M175.75 361.9v6.17M178.26 361.9v6.17M180.76 361.9v6.17M183.27 361.9v6.17M185.77 361.9v6.17M188.28 361.9v6.17M190.78 361.9v6.17M193.29 361.9v6.17M195.79 361.9v6.17M198.3 361.9v6.17M200.8 361.9v6.17M203.31 361.9v6.17M205.81 361.9v6.17M208.32 361.9v6.17M210.82 361.9v6.17M213.33 361.9v6.17M215.83 361.9v6.17M218.34 361.9v6.17M220.84 361.9v6.17M223.35 361.9v6.17M225.85 361.9v6.17M228.36 361.9v6.17M230.86 361.9v6.17M233.37 361.9v6.17M235.87 361.9v6.17M238.38 361.9v6.17M240.88 361.9v6.17M243.39 361.9v6.17M245.89 361.9v6.17M55.51 368.45v6.17M58.01 368.45v6.17M60.52 368.45v6.17M63.02 368.45v6.17M65.53 368.45v6.17M68.03 368.45v6.17M70.54 368.45v6.17M73.04 368.45v6.17M75.55 368.45v6.17M78.05 368.45v6.17M80.56 368.45v6.17M83.06 368.45v6.17M85.57 368.45v6.17M88.07 368.45v6.17M90.58 368.45v6.17M93.08 368.45v6.17M95.59 368.45v6.17M98.09 368.45v6.17M100.6 368.45v6.17M103.1 368.45v6.17M105.61 368.45v6.17M108.11 368.45v6.17M110.62 368.45v6.17M113.12 368.45v6.17M115.63 368.45v6.17M118.13 368.45v6.17M120.64 368.45v6.17M123.14 368.45v6.17M125.65 368.45v6.17M128.15 368.45v6.17M130.66 368.45v6.17M133.16 368.45v6.17M135.67 368.45v6.17M138.17 368.45v6.17M140.68 368.45v6.17M143.18 368.45v6.17M145.69 368.45v6.17M148.19 368.45v6.17M150.7 368.45v6.17M153.21 368.45v6.17M155.71 368.45v6.17M158.22 368.45v6.17M160.72 368.45v6.17M163.23 368.45v6.17M165.73 368.45v6.17M168.24 368.45v6.17M170.74 368.45v6.17M173.25 368.45v6.17M175.75 368.45v6.17M178.26 368.45v6.17M180.76 368.45v6.17M183.27 368.45v6.17M185.77 368.45v6.17M188.28 368.45v6.17M190.78 368.45v6.17M193.29 368.45v6.17M195.79 368.45v6.17M198.3 368.45v6.17M200.8 368.45v6.17M203.31 368.45v6.17M205.81 368.45v6.17M208.32 368.45v6.17M210.82 368.45v6.17M213.33 368.45v6.17M215.83 368.45v6.17M218.34 368.45v6.17M220.84 368.45v6.17M223.35 368.45v6.17M225.85 368.45v6.17M228.36 368.45v6.17M230.86 368.45v6.17M233.37 368.45v6.17M235.87 368.45v6.17M238.38 368.45v6.17M240.88 368.45v6.17M243.39 368.45v6.17M245.89 368.45v6.17M55.51 375v6.17M58.01 375v6.17M60.52 375v6.17M63.02 375v6.17M65.53 375v6.17M68.03 375v6.17M70.54 375v6.17M73.04 375v6.17M75.55 375v6.17M78.05 375v6.17M80.56 375v6.17M83.06 375v6.17M85.57 375v6.17M88.07 375v6.17M90.58 375v6.17M93.08 375v6.17M95.59 375v6.17M98.09 375v6.17M100.6 375v6.17M103.1 375v6.17M105.61 375v6.17M108.11 375v6.17M110.62 375v6.17M113.12 375v6.17M115.63 375v6.17M118.13 375v6.17M120.64 375v6.17M123.14 375v6.17M125.65 375v6.17M128.15 375v6.17M130.66 375v6.17M133.16 375v6.17M135.67 375v6.17M138.17 375v6.17M140.68 375v6.17M143.18 375v6.17M145.69 375v6.17M148.19 375v6.17M150.7 375v6.17M153.21 375v6.17M155.71 375v6.17M158.22 375v6.17M160.72 375v6.17M163.23 375v6.17M165.73 375v6.17M168.24 375v6.17M170.74 375v6.17M173.25 375v6.17M175.75 375v6.17M178.26 375v6.17M180.76 375v6.17M183.27 375v6.17M185.77 375v6.17M188.28 375v6.17M190.78 375v6.17M193.29 375v6.17M195.79 375v6.17M198.3 375v6.17M200.8 375v6.17M203.31 375v6.17M205.81 375v6.17M208.32 375v6.17M210.82 375v6.17M213.33 375v6.17M215.83 375v6.17M218.34 375v6.17M220.84 375v6.17M223.35 375v6.17M225.85 375v6.17M228.36 375v6.17M230.86 375v6.17M233.37 375v6.17M235.87 375v6.17M238.38 375v6.17M240.88 375v6.17M243.39 375v6.17M245.89 375v6.17M55.51 381.55v6.17M58.01 381.55v6.17M60.52 381.55v6.17M63.02 381.55v6.17M65.53 381.55v6.17M68.03 381.55v6.17M70.54 381.55v6.17M73.04 381.55v6.17M75.55 381.55v6.17M78.05 381.55v6.17M80.56 381.55v6.17M83.06 381.55v6.17M85.57 381.55v6.17M88.07 381.55v6.17M90.58 381.55v6.17M93.08 381.55v6.17M95.59 381.55v6.17M98.09 381.55v6.17M100.6 381.55v6.17M103.1 381.55v6.17M105.61 381.55v6.17M108.11 381.55v6.17M110.62 381.55v6.17M113.12 381.55v6.17M115.63 381.55v6.17M118.13 381.55v6.17M120.64 381.55v6.17M123.14 381.55v6.17M125.65 381.55v6.17M128.15 381.55v6.17M130.66 381.55v6.17M133.16 381.55v6.17M135.67 381.55v6.17M138.17 381.55v6.17M140.68 381.55v6.17M143.18 381.55v6.17M145.69 381.55v6.17M148.19 381.55v6.17M150.7 381.55v6.17M153.21 381.55v6.17M155.71 381.55v6.17M158.22 381.55v6.17M160.72 381.55v6.17M163.23 381.55v6.17M165.73 381.55v6.17M168.24 381.55v6.17M170.74 381.55v6.17M173.25 381.55v6.17M175.75 381.55v6.17M178.26 381.55v6.17M180.76 381.55v6.17M183.27 381.55v6.17M185.77 381.55v6.17M188.28 381.55v6.17M190.78 381.55v6.17M193.29 381.55v6.17M195.79 381.55v6.17M198.3 381.55v6.17M200.8 381.55v6.17M203.31 381.55v6.17M205.81 381.55v6.17M208.32 381.55v6.17M210.82 381.55v6.17M213.33 381.55v6.17M215.83 381.55v6.17M218.34 381.55v6.17M220.84 381.55v6.17M223.35 381.55v6.17M225.85 381.55v6.17M228.36 381.55v6.17M230.86 381.55v6.17M233.37 381.55v6.17M235.87 381.55v6.17M238.38 381.55v6.17M240.88 381.55v6.17M243.39 381.55v6.17M245.89 381.55v6.17M55.51 388.1v6.17M58.01 388.1v6.17M60.52 388.1v6.17M63.02 388.1v6.17M65.53 388.1v6.17M68.03 388.1v6.17M70.54 388.1v6.17M73.04 388.1v6.17M75.55 388.1v6.17M78.05 388.1v6.17M80.56 388.1v6.17M83.06 388.1v6.17M85.57 388.1v6.17M88.07 388.1v6.17M90.58 388.1v6.17M93.08 388.1v6.17M95.59 388.1v6.17M98.09 388.1v6.17M100.6 388.1v6.17M103.1 388.1v6.17M105.61 388.1v6.17M108.11 388.1v6.17M110.62 388.1v6.17M113.12 388.1v6.17M115.63 388.1v6.17M118.13 388.1v6.17M120.64 388.1v6.17M123.14 388.1v6.17M125.65 388.1v6.17M128.15 388.1v6.17M130.66 388.1v6.17M133.16 388.1v6.17M135.67 388.1v6.17M138.17 388.1v6.17M140.68 388.1v6.17M143.18 388.1v6.17M145.69 388.1v6.17M148.19 388.1v6.17M150.7 388.1v6.17M153.21 388.1v6.17M155.71 388.1v6.17M158.22 388.1v6.17M160.72 388.1v6.17M163.23 388.1v6.17M165.73 388.1v6.17M168.24 388.1v6.17M170.74 388.1v6.17M173.25 388.1v6.17M175.75 388.1v6.17M178.26 388.1v6.17M180.76 388.1v6.17M183.27 388.1v6.17M185.77 388.1v6.17M188.28 388.1v6.17M190.78 388.1v6.17M193.29 388.1v6.17M195.79 388.1v6.17M198.3 388.1v6.17M200.8 388.1v6.17M203.31 388.1v6.17M205.81 388.1v6.17M208.32 388.1v6.17M210.82 388.1v6.17M213.33 388.1v6.17M215.83 388.1v6.17M218.34 388.1v6.17M220.84 388.1v6.17M223.35 388.1v6.17M225.85 388.1v6.17M228.36 388.1v6.17M230.86 388.1v6.17M233.37 388.1v6.17M235.87 388.1v6.17M238.38 388.1v6.17M240.88 388.1v6.17M243.39 388.1v6.17M245.89 388.1v6.17M55.51 394.65v6.17M58.01 394.65v6.17M60.52 394.65v6.17M63.02 394.65v6.17M65.53 394.65v6.17M68.03 394.65v6.17M70.54 394.65v6.17M73.04 394.65v6.17M75.55 394.65v6.17M78.05 394.65v6.17M80.56 394.65v6.17M83.06 394.65v6.17M85.57 394.65v6.17M88.07 394.65v6.17M90.58 394.65v6.17M93.08 394.65v6.17M95.59 394.65v6.17M98.09 394.65v6.17M100.6 394.65v6.17M103.1 394.65v6.17M105.61 394.65v6.17M108.11 394.65v6.17M110.62 394.65v6.17M113.12 394.65v6.17M115.63 394.65v6.17M118.13 394.65v6.17M120.64 394.65v6.17M123.14 394.65v6.17M125.65 394.65v6.17M128.15 394.65v6.17M130.66 394.65v6.17M133.16 394.65v6.17M135.67 394.65v6.17M138.17 394.65v6.17M140.68 394.65v6.17M143.18 394.65v6.17M145.69 394.65v6.17M148.19 394.65v6.17M150.7 394.65v6.17M153.21 394.65v6.17M155.71 394.65v6.17M158.22 394.65v6.17M160.72 394.65v6.17M163.23 394.65v6.17M165.73 394.65v6.17M168.24 394.65v6.17M170.74 394.65v6.17M173.25 394.65v6.17M175.75 394.65v6.17M178.26 394.65v6.17M180.76 394.65v6.17M183.27 394.65v6.17M185.77 394.65v6.17M188.28 394.65v6.17M190.78 394.65v6.17M193.29 394.65v6.17M195.79 394.65v6.17M198.3 394.65v6.17M200.8 394.65v6.17M203.31 394.65v6.17M205.81 394.65v6.17M208.32 394.65v6.17M210.82 394.65v6.17M213.33 394.65v6.17M215.83 394.65v6.17M218.34 394.65v6.17M220.84 394.65v6.17M223.35 394.65v6.17M225.85 394.65v6.17M228.36 394.65v6.17M230.86 394.65v6.17M233.37 394.65v6.17M235.87 394.65v6.17M238.38 394.65v6.17M240.88 394.65v6.17M243.39 394.65v6.17M245.89 394.65v6.17" stroke="#ffffff" stroke-opacity="0.55" stroke-width="0.55" fill="none"/>
<text x="49.6" y="288.4" font-size="6.9" text-anchor="end" fill="#231f20">DNMT3A</text>
<text x="49.6" y="294.95" font-size="6.9" text-anchor="end" fill="#231f20">TET2</text>
<text x="49.6" y="301.5" font-size="6.9" text-anchor="end" fill="#231f20">ASXL1</text>
<text x="49.6" y="308.05" font-size="6.9" text-anchor="end" fill="#231f20">SF3B1</text>
<text x="49.6" y="314.6" font-size="6.9" text-anchor="end" fill="#231f20">TP53</text>
<text x="49.6" y="321.15" font-size="6.9" text-anchor="end" fill="#231f20">SRSF2</text>
<text x="49.6" y="327.7" font-size="6.9" text-anchor="end" fill="#231f20">JAK2</text>
<text x="49.6" y="334.25" font-size="6.9" text-anchor="end" fill="#231f20">CBL</text>
<text x="49.6" y="340.8" font-size="6.9" text-anchor="end" fill="#231f20">U2AF1</text>
<text x="49.6" y="347.35" font-size="6.9" text-anchor="end" fill="#231f20">EZH2</text>
<text x="49.6" y="353.9" font-size="6.9" text-anchor="end" fill="#231f20">RUNX1</text>
<text x="49.6" y="360.45" font-size="6.9" text-anchor="end" fill="#231f20">CALR</text>
<text x="49.6" y="367" font-size="6.9" text-anchor="end" fill="#231f20">ETNK1</text>
<text x="49.6" y="373.55" font-size="6.9" text-anchor="end" fill="#231f20">NRAS</text>
<text x="49.6" y="380.1" font-size="6.9" text-anchor="end" fill="#231f20">IDH2</text>
<text x="49.6" y="386.65" font-size="6.9" text-anchor="end" fill="#231f20">KRAS</text>
<text x="49.6" y="393.2" font-size="6.9" text-anchor="end" fill="#231f20">SETBP1</text>
<text x="49.6" y="399.75" font-size="6.9" text-anchor="end" fill="#231f20">WT1</text>
<rect x="53" y="405.3" width="195.4" height="6.7" fill="#e6e6e6"/>
<rect x="55.2" y="405.3" width="9" height="6.7" fill="#9fda9f"/>
<rect x="67" y="405.3" width="4.1" height="6.7" fill="#2fae45"/>
<rect x="76" y="405.3" width="2.2" height="6.7" fill="#9fda9f"/>
<rect x="84.9" y="405.3" width="4.9" height="6.7" fill="#2fae45"/>
<rect x="91.9" y="405.3" width="2.5" height="6.7" fill="#9fda9f"/>
<rect x="96.5" y="405.3" width="2.5" height="6.7" fill="#9fda9f"/>
<rect x="100.8" y="405.3" width="2.5" height="6.7" fill="#2fae45"/>
<rect x="106" y="405.3" width="7.5" height="6.7" fill="#2fae45"/>
<rect x="117.3" y="405.3" width="6.7" height="6.7" fill="#2fae45"/>
<rect x="124" y="405.3" width="11.7" height="6.7" fill="#9fda9f"/>
<rect x="138.4" y="405.3" width="10" height="6.7" fill="#2fae45"/>
<rect x="148.4" y="405.3" width="7.4" height="6.7" fill="#5cc26a"/>
<rect x="155" y="405.3" width="1.5" height="6.7" fill="#9fda9f"/>
<rect x="163" y="405.3" width="2" height="6.7" fill="#9fda9f"/>
<rect x="167.7" y="405.3" width="2.5" height="6.7" fill="#2fae45"/>
<rect x="173" y="405.3" width="1.5" height="6.7" fill="#9fda9f"/>
<rect x="179.3" y="405.3" width="2.1" height="6.7" fill="#9fda9f"/>
<rect x="181.4" y="405.3" width="2.2" height="6.7" fill="#2fae45"/>
<rect x="183.6" y="405.3" width="4.8" height="6.7" fill="#9fda9f"/>
<rect x="195.2" y="405.3" width="4.6" height="6.7" fill="#9fda9f"/>
<rect x="199.8" y="405.3" width="2.2" height="6.7" fill="#2fae45"/>
<rect x="202" y="405.3" width="4.8" height="6.7" fill="#9fda9f"/>
<rect x="209.6" y="405.3" width="1.4" height="6.7" fill="#9fda9f"/>
<rect x="213.8" y="405.3" width="2.1" height="6.7" fill="#9fda9f"/>
<rect x="228" y="405.3" width="1.5" height="6.7" fill="#9fda9f"/>
<rect x="239.2" y="405.3" width="2.5" height="6.7" fill="#2fae45"/>
<rect x="241.7" y="405.3" width="4.3" height="6.7" fill="#9fda9f"/>
<path d="M55.51 405.3v6.7M58.01 405.3v6.7M60.52 405.3v6.7M63.02 405.3v6.7M65.53 405.3v6.7M68.03 405.3v6.7M70.54 405.3v6.7M73.04 405.3v6.7M75.55 405.3v6.7M78.05 405.3v6.7M80.56 405.3v6.7M83.06 405.3v6.7M85.57 405.3v6.7M88.07 405.3v6.7M90.58 405.3v6.7M93.08 405.3v6.7M95.59 405.3v6.7M98.09 405.3v6.7M100.6 405.3v6.7M103.1 405.3v6.7M105.61 405.3v6.7M108.11 405.3v6.7M110.62 405.3v6.7M113.12 405.3v6.7M115.63 405.3v6.7M118.13 405.3v6.7M120.64 405.3v6.7M123.14 405.3v6.7M125.65 405.3v6.7M128.15 405.3v6.7M130.66 405.3v6.7M133.16 405.3v6.7M135.67 405.3v6.7M138.17 405.3v6.7M140.68 405.3v6.7M143.18 405.3v6.7M145.69 405.3v6.7M148.19 405.3v6.7M150.7 405.3v6.7M153.21 405.3v6.7M155.71 405.3v6.7M158.22 405.3v6.7M160.72 405.3v6.7M163.23 405.3v6.7M165.73 405.3v6.7M168.24 405.3v6.7M170.74 405.3v6.7M173.25 405.3v6.7M175.75 405.3v6.7M178.26 405.3v6.7M180.76 405.3v6.7M183.27 405.3v6.7M185.77 405.3v6.7M188.28 405.3v6.7M190.78 405.3v6.7M193.29 405.3v6.7M195.79 405.3v6.7M198.3 405.3v6.7M200.8 405.3v6.7M203.31 405.3v6.7M205.81 405.3v6.7M208.32 405.3v6.7M210.82 405.3v6.7M213.33 405.3v6.7M215.83 405.3v6.7M218.34 405.3v6.7M220.84 405.3v6.7M223.35 405.3v6.7M225.85 405.3v6.7M228.36 405.3v6.7M230.86 405.3v6.7M233.37 405.3v6.7M235.87 405.3v6.7M238.38 405.3v6.7M240.88 405.3v6.7M243.39 405.3v6.7M245.89 405.3v6.7" stroke="#ffffff" stroke-opacity="0.45" stroke-width="0.5" fill="none"/>
<rect x="53" y="415.4" width="195.4" height="6.1" fill="#e6e6e6"/>
<rect x="53" y="422.2" width="195.4" height="6.1" fill="#e6e6e6"/>
<rect x="53" y="428.9" width="195.4" height="6.1" fill="#e6e6e6"/>
<rect x="53" y="438.4" width="195.4" height="6.1" fill="#e6e6e6"/>
<rect x="53" y="445.1" width="195.4" height="6.1" fill="#e6e6e6"/>
<rect x="53" y="451.8" width="195.4" height="6.1" fill="#e6e6e6"/>
<path d="M55.51 415.4v6.1M58.01 415.4v6.1M60.52 415.4v6.1M63.02 415.4v6.1M65.53 415.4v6.1M68.03 415.4v6.1M70.54 415.4v6.1M73.04 415.4v6.1M75.55 415.4v6.1M78.05 415.4v6.1M80.56 415.4v6.1M83.06 415.4v6.1M85.57 415.4v6.1M88.07 415.4v6.1M90.58 415.4v6.1M93.08 415.4v6.1M95.59 415.4v6.1M98.09 415.4v6.1M100.6 415.4v6.1M103.1 415.4v6.1M105.61 415.4v6.1M108.11 415.4v6.1M110.62 415.4v6.1M113.12 415.4v6.1M115.63 415.4v6.1M118.13 415.4v6.1M120.64 415.4v6.1M123.14 415.4v6.1M125.65 415.4v6.1M128.15 415.4v6.1M130.66 415.4v6.1M133.16 415.4v6.1M135.67 415.4v6.1M138.17 415.4v6.1M140.68 415.4v6.1M143.18 415.4v6.1M145.69 415.4v6.1M148.19 415.4v6.1M150.7 415.4v6.1M153.21 415.4v6.1M155.71 415.4v6.1M158.22 415.4v6.1M160.72 415.4v6.1M163.23 415.4v6.1M165.73 415.4v6.1M168.24 415.4v6.1M170.74 415.4v6.1M173.25 415.4v6.1M175.75 415.4v6.1M178.26 415.4v6.1M180.76 415.4v6.1M183.27 415.4v6.1M185.77 415.4v6.1M188.28 415.4v6.1M190.78 415.4v6.1M193.29 415.4v6.1M195.79 415.4v6.1M198.3 415.4v6.1M200.8 415.4v6.1M203.31 415.4v6.1M205.81 415.4v6.1M208.32 415.4v6.1M210.82 415.4v6.1M213.33 415.4v6.1M215.83 415.4v6.1M218.34 415.4v6.1M220.84 415.4v6.1M223.35 415.4v6.1M225.85 415.4v6.1M228.36 415.4v6.1M230.86 415.4v6.1M233.37 415.4v6.1M235.87 415.4v6.1M238.38 415.4v6.1M240.88 415.4v6.1M243.39 415.4v6.1M245.89 415.4v6.1M55.51 422.2v6.1M58.01 422.2v6.1M60.52 422.2v6.1M63.02 422.2v6.1M65.53 422.2v6.1M68.03 422.2v6.1M70.54 422.2v6.1M73.04 422.2v6.1M75.55 422.2v6.1M78.05 422.2v6.1M80.56 422.2v6.1M83.06 422.2v6.1M85.57 422.2v6.1M88.07 422.2v6.1M90.58 422.2v6.1M93.08 422.2v6.1M95.59 422.2v6.1M98.09 422.2v6.1M100.6 422.2v6.1M103.1 422.2v6.1M105.61 422.2v6.1M108.11 422.2v6.1M110.62 422.2v6.1M113.12 422.2v6.1M115.63 422.2v6.1M118.13 422.2v6.1M120.64 422.2v6.1M123.14 422.2v6.1M125.65 422.2v6.1M128.15 422.2v6.1M130.66 422.2v6.1M133.16 422.2v6.1M135.67 422.2v6.1M138.17 422.2v6.1M140.68 422.2v6.1M143.18 422.2v6.1M145.69 422.2v6.1M148.19 422.2v6.1M150.7 422.2v6.1M153.21 422.2v6.1M155.71 422.2v6.1M158.22 422.2v6.1M160.72 422.2v6.1M163.23 422.2v6.1M165.73 422.2v6.1M168.24 422.2v6.1M170.74 422.2v6.1M173.25 422.2v6.1M175.75 422.2v6.1M178.26 422.2v6.1M180.76 422.2v6.1M183.27 422.2v6.1M185.77 422.2v6.1M188.28 422.2v6.1M190.78 422.2v6.1M193.29 422.2v6.1M195.79 422.2v6.1M198.3 422.2v6.1M200.8 422.2v6.1M203.31 422.2v6.1M205.81 422.2v6.1M208.32 422.2v6.1M210.82 422.2v6.1M213.33 422.2v6.1M215.83 422.2v6.1M218.34 422.2v6.1M220.84 422.2v6.1M223.35 422.2v6.1M225.85 422.2v6.1M228.36 422.2v6.1M230.86 422.2v6.1M233.37 422.2v6.1M235.87 422.2v6.1M238.38 422.2v6.1M240.88 422.2v6.1M243.39 422.2v6.1M245.89 422.2v6.1M55.51 428.9v6.1M58.01 428.9v6.1M60.52 428.9v6.1M63.02 428.9v6.1M65.53 428.9v6.1M68.03 428.9v6.1M70.54 428.9v6.1M73.04 428.9v6.1M75.55 428.9v6.1M78.05 428.9v6.1M80.56 428.9v6.1M83.06 428.9v6.1M85.57 428.9v6.1M88.07 428.9v6.1M90.58 428.9v6.1M93.08 428.9v6.1M95.59 428.9v6.1M98.09 428.9v6.1M100.6 428.9v6.1M103.1 428.9v6.1M105.61 428.9v6.1M108.11 428.9v6.1M110.62 428.9v6.1M113.12 428.9v6.1M115.63 428.9v6.1M118.13 428.9v6.1M120.64 428.9v6.1M123.14 428.9v6.1M125.65 428.9v6.1M128.15 428.9v6.1M130.66 428.9v6.1M133.16 428.9v6.1M135.67 428.9v6.1M138.17 428.9v6.1M140.68 428.9v6.1M143.18 428.9v6.1M145.69 428.9v6.1M148.19 428.9v6.1M150.7 428.9v6.1M153.21 428.9v6.1M155.71 428.9v6.1M158.22 428.9v6.1M160.72 428.9v6.1M163.23 428.9v6.1M165.73 428.9v6.1M168.24 428.9v6.1M170.74 428.9v6.1M173.25 428.9v6.1M175.75 428.9v6.1M178.26 428.9v6.1M180.76 428.9v6.1M183.27 428.9v6.1M185.77 428.9v6.1M188.28 428.9v6.1M190.78 428.9v6.1M193.29 428.9v6.1M195.79 428.9v6.1M198.3 428.9v6.1M200.8 428.9v6.1M203.31 428.9v6.1M205.81 428.9v6.1M208.32 428.9v6.1M210.82 428.9v6.1M213.33 428.9v6.1M215.83 428.9v6.1M218.34 428.9v6.1M220.84 428.9v6.1M223.35 428.9v6.1M225.85 428.9v6.1M228.36 428.9v6.1M230.86 428.9v6.1M233.37 428.9v6.1M235.87 428.9v6.1M238.38 428.9v6.1M240.88 428.9v6.1M243.39 428.9v6.1M245.89 428.9v6.1M55.51 438.4v6.1M58.01 438.4v6.1M60.52 438.4v6.1M63.02 438.4v6.1M65.53 438.4v6.1M68.03 438.4v6.1M70.54 438.4v6.1M73.04 438.4v6.1M75.55 438.4v6.1M78.05 438.4v6.1M80.56 438.4v6.1M83.06 438.4v6.1M85.57 438.4v6.1M88.07 438.4v6.1M90.58 438.4v6.1M93.08 438.4v6.1M95.59 438.4v6.1M98.09 438.4v6.1M100.6 438.4v6.1M103.1 438.4v6.1M105.61 438.4v6.1M108.11 438.4v6.1M110.62 438.4v6.1M113.12 438.4v6.1M115.63 438.4v6.1M118.13 438.4v6.1M120.64 438.4v6.1M123.14 438.4v6.1M125.65 438.4v6.1M128.15 438.4v6.1M130.66 438.4v6.1M133.16 438.4v6.1M135.67 438.4v6.1M138.17 438.4v6.1M140.68 438.4v6.1M143.18 438.4v6.1M145.69 438.4v6.1M148.19 438.4v6.1M150.7 438.4v6.1M153.21 438.4v6.1M155.71 438.4v6.1M158.22 438.4v6.1M160.72 438.4v6.1M163.23 438.4v6.1M165.73 438.4v6.1M168.24 438.4v6.1M170.74 438.4v6.1M173.25 438.4v6.1M175.75 438.4v6.1M178.26 438.4v6.1M180.76 438.4v6.1M183.27 438.4v6.1M185.77 438.4v6.1M188.28 438.4v6.1M190.78 438.4v6.1M193.29 438.4v6.1M195.79 438.4v6.1M198.3 438.4v6.1M200.8 438.4v6.1M203.31 438.4v6.1M205.81 438.4v6.1M208.32 438.4v6.1M210.82 438.4v6.1M213.33 438.4v6.1M215.83 438.4v6.1M218.34 438.4v6.1M220.84 438.4v6.1M223.35 438.4v6.1M225.85 438.4v6.1M228.36 438.4v6.1M230.86 438.4v6.1M233.37 438.4v6.1M235.87 438.4v6.1M238.38 438.4v6.1M240.88 438.4v6.1M243.39 438.4v6.1M245.89 438.4v6.1M55.51 445.1v6.1M58.01 445.1v6.1M60.52 445.1v6.1M63.02 445.1v6.1M65.53 445.1v6.1M68.03 445.1v6.1M70.54 445.1v6.1M73.04 445.1v6.1M75.55 445.1v6.1M78.05 445.1v6.1M80.56 445.1v6.1M83.06 445.1v6.1M85.57 445.1v6.1M88.07 445.1v6.1M90.58 445.1v6.1M93.08 445.1v6.1M95.59 445.1v6.1M98.09 445.1v6.1M100.6 445.1v6.1M103.1 445.1v6.1M105.61 445.1v6.1M108.11 445.1v6.1M110.62 445.1v6.1M113.12 445.1v6.1M115.63 445.1v6.1M118.13 445.1v6.1M120.64 445.1v6.1M123.14 445.1v6.1M125.65 445.1v6.1M128.15 445.1v6.1M130.66 445.1v6.1M133.16 445.1v6.1M135.67 445.1v6.1M138.17 445.1v6.1M140.68 445.1v6.1M143.18 445.1v6.1M145.69 445.1v6.1M148.19 445.1v6.1M150.7 445.1v6.1M153.21 445.1v6.1M155.71 445.1v6.1M158.22 445.1v6.1M160.72 445.1v6.1M163.23 445.1v6.1M165.73 445.1v6.1M168.24 445.1v6.1M170.74 445.1v6.1M173.25 445.1v6.1M175.75 445.1v6.1M178.26 445.1v6.1M180.76 445.1v6.1M183.27 445.1v6.1M185.77 445.1v6.1M188.28 445.1v6.1M190.78 445.1v6.1M193.29 445.1v6.1M195.79 445.1v6.1M198.3 445.1v6.1M200.8 445.1v6.1M203.31 445.1v6.1M205.81 445.1v6.1M208.32 445.1v6.1M210.82 445.1v6.1M213.33 445.1v6.1M215.83 445.1v6.1M218.34 445.1v6.1M220.84 445.1v6.1M223.35 445.1v6.1M225.85 445.1v6.1M228.36 445.1v6.1M230.86 445.1v6.1M233.37 445.1v6.1M235.87 445.1v6.1M238.38 445.1v6.1M240.88 445.1v6.1M243.39 445.1v6.1M245.89 445.1v6.1M55.51 451.8v6.1M58.01 451.8v6.1M60.52 451.8v6.1M63.02 451.8v6.1M65.53 451.8v6.1M68.03 451.8v6.1M70.54 451.8v6.1M73.04 451.8v6.1M75.55 451.8v6.1M78.05 451.8v6.1M80.56 451.8v6.1M83.06 451.8v6.1M85.57 451.8v6.1M88.07 451.8v6.1M90.58 451.8v6.1M93.08 451.8v6.1M95.59 451.8v6.1M98.09 451.8v6.1M100.6 451.8v6.1M103.1 451.8v6.1M105.61 451.8v6.1M108.11 451.8v6.1M110.62 451.8v6.1M113.12 451.8v6.1M115.63 451.8v6.1M118.13 451.8v6.1M120.64 451.8v6.1M123.14 451.8v6.1M125.65 451.8v6.1M128.15 451.8v6.1M130.66 451.8v6.1M133.16 451.8v6.1M135.67 451.8v6.1M138.17 451.8v6.1M140.68 451.8v6.1M143.18 451.8v6.1M145.69 451.8v6.1M148.19 451.8v6.1M150.7 451.8v6.1M153.21 451.8v6.1M155.71 451.8v6.1M158.22 451.8v6.1M160.72 451.8v6.1M163.23 451.8v6.1M165.73 451.8v6.1M168.24 451.8v6.1M170.74 451.8v6.1M173.25 451.8v6.1M175.75 451.8v6.1M178.26 451.8v6.1M180.76 451.8v6.1M183.27 451.8v6.1M185.77 451.8v6.1M188.28 451.8v6.1M190.78 451.8v6.1M193.29 451.8v6.1M195.79 451.8v6.1M198.3 451.8v6.1M200.8 451.8v6.1M203.31 451.8v6.1M205.81 451.8v6.1M208.32 451.8v6.1M210.82 451.8v6.1M213.33 451.8v6.1M215.83 451.8v6.1M218.34 451.8v6.1M220.84 451.8v6.1M223.35 451.8v6.1M225.85 451.8v6.1M228.36 451.8v6.1M230.86 451.8v6.1M233.37 451.8v6.1M235.87 451.8v6.1M238.38 451.8v6.1M240.88 451.8v6.1M243.39 451.8v6.1M245.89 451.8v6.1" stroke="#ffffff" stroke-opacity="0.45" stroke-width="0.5" fill="none"/>
<rect x="73.9" y="415.7" width="1.9" height="5.5" fill="#34445a"/>
<rect x="80.7" y="415.7" width="1.9" height="5.5" fill="#34445a"/>
<rect x="87.4" y="415.7" width="1.9" height="5.5" fill="#34445a"/>
<rect x="211.7" y="415.7" width="1.9" height="5.5" fill="#34445a"/>
<rect x="218.5" y="415.7" width="1.9" height="5.5" fill="#34445a"/>
<rect x="246.4" y="415.7" width="1.9" height="5.5" fill="#34445a"/>
<rect x="181.9" y="422.5" width="1.9" height="5.5" fill="#34445a"/>
<rect x="195.6" y="422.5" width="1.9" height="5.5" fill="#34445a"/>
<rect x="80.7" y="429.2" width="1.9" height="5.5" fill="#34445a"/>
<rect x="133.6" y="429.2" width="1.9" height="5.5" fill="#34445a"/>
<rect x="168.1" y="429.2" width="1.9" height="5.5" fill="#34445a"/>
<rect x="181.9" y="429.2" width="1.9" height="5.5" fill="#34445a"/>
<rect x="82.8" y="438.7" width="1.9" height="5.5" fill="#34445a"/>
<rect x="214.2" y="438.7" width="1.9" height="5.5" fill="#34445a"/>
<rect x="179.3" y="445.4" width="1.9" height="5.5" fill="#34445a"/>
<rect x="193.1" y="445.4" width="1.9" height="5.5" fill="#34445a"/>
<rect x="211.7" y="445.4" width="1.9" height="5.5" fill="#34445a"/>
<rect x="218.5" y="445.4" width="1.9" height="5.5" fill="#34445a"/>
<rect x="59.5" y="452.1" width="1.9" height="5.5" fill="#34445a"/>
<rect x="66.9" y="452.1" width="1.9" height="5.5" fill="#34445a"/>
<rect x="69.1" y="452.1" width="1.9" height="5.5" fill="#34445a"/>
<rect x="89.8" y="452.1" width="1.9" height="5.5" fill="#34445a"/>
<rect x="99" y="452.1" width="1.9" height="5.5" fill="#34445a"/>
<rect x="101.2" y="452.1" width="1.9" height="5.5" fill="#34445a"/>
<rect x="124" y="452.1" width="1.9" height="5.5" fill="#34445a"/>
<rect x="137.8" y="452.1" width="1.9" height="5.5" fill="#34445a"/>
<rect x="156.4" y="452.1" width="1.9" height="5.5" fill="#34445a"/>
<rect x="193.1" y="452.1" width="1.9" height="5.5" fill="#34445a"/>
<rect x="195.2" y="452.1" width="1.9" height="5.5" fill="#34445a"/>
<rect x="209" y="452.1" width="1.9" height="5.5" fill="#34445a"/>
<rect x="230.1" y="452.1" width="1.9" height="5.5" fill="#34445a"/>
<rect x="243.8" y="452.1" width="1.9" height="5.5" fill="#34445a"/>
<text x="0" y="0" font-size="6.3" text-anchor="end" fill="#231f20" transform="translate(49.8 420.8) scale(0.835 1)">Anemia</text>
<text x="0" y="0" font-size="6.3" text-anchor="end" fill="#231f20" transform="translate(49.8 427.3) scale(0.835 1)">Thrombocytopenia</text>
<text x="0" y="0" font-size="6.3" text-anchor="end" fill="#231f20" transform="translate(49.8 433.8) scale(0.835 1)">Neutropenia</text>
<text x="0" y="0" font-size="6.3" text-anchor="end" fill="#231f20" transform="translate(49.8 443.7) scale(0.835 1)">Erythrocytosis</text>
<text x="0" y="0" font-size="6.3" text-anchor="end" fill="#231f20" transform="translate(49.8 450.2) scale(0.835 1)">Thrombocytosis</text>
<text x="0" y="0" font-size="6.3" text-anchor="end" fill="#231f20" transform="translate(49.8 456.6) scale(0.835 1)">Leukocytosis</text>
<rect x="52.9" y="462.9" width="6.8" height="7" fill="#c3d4e2"/>
<rect x="64.4" y="462.9" width="6.8" height="7" fill="#17508a"/>
<text x="74" y="468.9" font-size="7.1" text-anchor="start" fill="#231f20">Controls</text>
<rect x="52.9" y="473.5" width="6.8" height="7" fill="#e497a8"/>
<rect x="64.4" y="473.5" width="6.8" height="7" fill="#c8102e"/>
<text x="74" y="479.5" font-size="7.1" text-anchor="start" fill="#231f20">Monocytosis</text>
<rect x="122.1" y="462.9" width="6.8" height="7" fill="#3aae4a"/>
<text x="131.8" y="468.9" font-size="7.1" text-anchor="start" fill="#231f20">Monocytosis at FU</text>
<rect x="122.1" y="473.5" width="6.8" height="7" fill="#98d59c"/>
<text x="131.8" y="479.5" font-size="7.1" text-anchor="start" fill="#231f20">No monocytosis at FU</text>
<rect x="122.1" y="484.1" width="6.8" height="6.9" fill="#e6e6e6"/>
<text x="131.8" y="490.1" font-size="7.1" text-anchor="start" fill="#231f20">Lost to FU</text>
<text x="265.3" y="311.6" font-size="11" text-anchor="start" fill="#000" font-weight="bold">E</text>
<rect x="309.2" y="401" width="14.8" height="16.8" fill="#a7c0db"/>
<rect x="345.1" y="400" width="14.8" height="17.8" fill="#3c6f9f"/>
<line x1="309" y1="412" x2="324.2" y2="412" stroke="#222" stroke-width="1"/>
<line x1="345" y1="409.74" x2="360" y2="409.74" stroke="#222" stroke-width="1"/>
<g fill="none" stroke="#7aa1c7" stroke-width="0.7" stroke-opacity="1">
<circle cx="316.13" cy="401.48" r="1.75"/>
<circle cx="316.71" cy="400.01" r="1.75"/>
<circle cx="319.54" cy="412.61" r="1.75"/>
<circle cx="316.17" cy="420.17" r="1.75"/>
<circle cx="316.45" cy="423.16" r="1.75"/>
<circle cx="317.05" cy="412.92" r="1.75"/>
<circle cx="314.43" cy="422.52" r="1.75"/>
<circle cx="316.46" cy="426.3" r="1.75"/>
<circle cx="317.35" cy="411.39" r="1.75"/>
<circle cx="318.56" cy="412" r="1.75"/>
<circle cx="313.54" cy="408.23" r="1.75"/>
<circle cx="315.13" cy="421.54" r="1.75"/>
<circle cx="313.37" cy="413.16" r="1.75"/>
<circle cx="318.69" cy="413.8" r="1.75"/>
<circle cx="317.39" cy="426.93" r="1.75"/>
<circle cx="313.17" cy="408.31" r="1.75"/>
<circle cx="319.91" cy="410.29" r="1.75"/>
<circle cx="318.07" cy="391.45" r="1.75"/>
<circle cx="317.53" cy="411.36" r="1.75"/>
<circle cx="317.25" cy="414.53" r="1.75"/>
<circle cx="314.42" cy="401.98" r="1.75"/>
<circle cx="312.83" cy="411.4" r="1.75"/>
<circle cx="316.58" cy="404.93" r="1.75"/>
<circle cx="313.21" cy="416.54" r="1.75"/>
<circle cx="314.13" cy="411.22" r="1.75"/>
<circle cx="314.79" cy="403.88" r="1.75"/>
<circle cx="313.19" cy="406.87" r="1.75"/>
<circle cx="316.13" cy="412.04" r="1.75"/>
<circle cx="316.04" cy="423.07" r="1.75"/>
<circle cx="318.85" cy="409.15" r="1.75"/>
<circle cx="316.54" cy="412.51" r="1.75"/>
<circle cx="317.35" cy="406.65" r="1.75"/>
<circle cx="316.4" cy="411.24" r="1.75"/>
<circle cx="317.39" cy="403.3" r="1.75"/>
<circle cx="316.08" cy="413.68" r="1.75"/>
<circle cx="314.77" cy="411.37" r="1.75"/>
<circle cx="319.83" cy="407.14" r="1.75"/>
<circle cx="319.43" cy="423.11" r="1.75"/>
<circle cx="318.85" cy="416.87" r="1.75"/>
<circle cx="317.88" cy="417.76" r="1.75"/>
<circle cx="315.68" cy="395.17" r="1.75"/>
<circle cx="314.4" cy="414.06" r="1.75"/>
<circle cx="314.94" cy="407.27" r="1.75"/>
<circle cx="313.41" cy="407.57" r="1.75"/>
<circle cx="318.35" cy="415.77" r="1.75"/>
<circle cx="315.9" cy="427.34" r="1.75"/>
<circle cx="318.6" cy="404.42" r="1.75"/>
<circle cx="315.58" cy="416.92" r="1.75"/>
<circle cx="319.52" cy="406.67" r="1.75"/>
<circle cx="318.35" cy="425.1" r="1.75"/>
<circle cx="312.82" cy="417.2" r="1.75"/>
<circle cx="314.74" cy="401.76" r="1.75"/>
<circle cx="318.57" cy="400.18" r="1.75"/>
<circle cx="316.23" cy="425.07" r="1.75"/>
<circle cx="319.06" cy="425.35" r="1.75"/>
<circle cx="315.64" cy="413.61" r="1.75"/>
<circle cx="313.5" cy="406.58" r="1.75"/>
<circle cx="317.35" cy="411.75" r="1.75"/>
<circle cx="318.43" cy="410.44" r="1.75"/>
<circle cx="314.95" cy="422.22" r="1.75"/>
<circle cx="313.51" cy="407.87" r="1.75"/>
<circle cx="315.39" cy="403.04" r="1.75"/>
<circle cx="319.73" cy="417.18" r="1.75"/>
<circle cx="317.77" cy="426.27" r="1.75"/>
<circle cx="313.83" cy="420.12" r="1.75"/>
<circle cx="314.69" cy="406.27" r="1.75"/>
<circle cx="314.59" cy="429" r="1.75"/>
<circle cx="313.15" cy="414.05" r="1.75"/>
<circle cx="318.27" cy="422.24" r="1.75"/>
<circle cx="314.02" cy="414.4" r="1.75"/>
<circle cx="316.83" cy="415.44" r="1.75"/>
<circle cx="316.01" cy="413.07" r="1.75"/>
<circle cx="314.82" cy="399.54" r="1.75"/>
<circle cx="318.07" cy="409.38" r="1.75"/>
<circle cx="314.36" cy="401.06" r="1.75"/>
<circle cx="317.46" cy="414.5" r="1.75"/>
<circle cx="313.67" cy="417.58" r="1.75"/>
<circle cx="315.83" cy="409.76" r="1.75"/>
<circle cx="314.28" cy="413.57" r="1.75"/>
<circle cx="314.7" cy="411.75" r="1.75"/>
<circle cx="319.12" cy="424.46" r="1.75"/>
<circle cx="318.57" cy="408.98" r="1.75"/>
<circle cx="315.02" cy="418.3" r="1.75"/>
<circle cx="317.79" cy="435.61" r="1.75"/>
<circle cx="314.28" cy="415.15" r="1.75"/>
<circle cx="315.73" cy="422.13" r="1.75"/>
<circle cx="318.91" cy="417.95" r="1.75"/>
<circle cx="317.45" cy="414.6" r="1.75"/>
<circle cx="314.11" cy="401.82" r="1.75"/>
<circle cx="320.01" cy="412.27" r="1.75"/>
<circle cx="314.28" cy="413.47" r="1.75"/>
<circle cx="314.65" cy="409.67" r="1.75"/>
<circle cx="317.58" cy="429.72" r="1.75"/>
<circle cx="315.42" cy="401.91" r="1.75"/>
<circle cx="315.15" cy="423.02" r="1.75"/>
<circle cx="313.34" cy="409.21" r="1.75"/>
<circle cx="313.93" cy="423.47" r="1.75"/>
<circle cx="316.92" cy="422.1" r="1.75"/>
<circle cx="314.55" cy="416.82" r="1.75"/>
<circle cx="316.82" cy="395.94" r="1.75"/>
<circle cx="315.52" cy="406.86" r="1.75"/>
<circle cx="316.07" cy="418.71" r="1.75"/>
<circle cx="319.75" cy="415.8" r="1.75"/>
<circle cx="316.3" cy="423.7" r="1.75"/>
<circle cx="316.95" cy="413.52" r="1.75"/>
<circle cx="318.97" cy="418.43" r="1.75"/>
<circle cx="314.24" cy="406.63" r="1.75"/>
<circle cx="314.5" cy="425.57" r="1.75"/>
<circle cx="319.37" cy="416.26" r="1.75"/>
<circle cx="318.49" cy="420.88" r="1.75"/>
<circle cx="314.7" cy="419.76" r="1.75"/>
<circle cx="314.29" cy="406.73" r="1.75"/>
<circle cx="318.17" cy="412.06" r="1.75"/>
<circle cx="319.48" cy="407.88" r="1.75"/>
<circle cx="314.62" cy="402.38" r="1.75"/>
<circle cx="319.09" cy="402.74" r="1.75"/>
<circle cx="318.48" cy="425.71" r="1.75"/>
<circle cx="317.13" cy="408.32" r="1.75"/>
<circle cx="316.05" cy="429.25" r="1.75"/>
<circle cx="313.47" cy="413.79" r="1.75"/>
<circle cx="314.53" cy="395.73" r="1.75"/>
<circle cx="319.8" cy="414.97" r="1.75"/>
<circle cx="314.51" cy="416.57" r="1.75"/>
<circle cx="317.91" cy="411.66" r="1.75"/>
<circle cx="314.6" cy="413.05" r="1.75"/>
<circle cx="318.8" cy="412.97" r="1.75"/>
<circle cx="317.05" cy="420.11" r="1.75"/>
<circle cx="315.14" cy="403.36" r="1.75"/>
<circle cx="314.29" cy="405.11" r="1.75"/>
<circle cx="318.02" cy="415.14" r="1.75"/>
<circle cx="313.26" cy="410.34" r="1.75"/>
<circle cx="314.53" cy="407.21" r="1.75"/>
<circle cx="316.77" cy="403.81" r="1.75"/>
<circle cx="318.94" cy="409.63" r="1.75"/>
<circle cx="317.18" cy="406.88" r="1.75"/>
<circle cx="314.79" cy="415.61" r="1.75"/>
<circle cx="318.96" cy="422.95" r="1.75"/>
<circle cx="314.3" cy="417.72" r="1.75"/>
<circle cx="313.38" cy="403.93" r="1.75"/>
<circle cx="314.94" cy="404.3" r="1.75"/>
<circle cx="316" cy="411.88" r="1.75"/>
<circle cx="313.31" cy="418.38" r="1.75"/>
<circle cx="314.04" cy="410.41" r="1.75"/>
<circle cx="315.78" cy="398.06" r="1.75"/>
<circle cx="316.8" cy="400.87" r="1.75"/>
<circle cx="313.87" cy="419.44" r="1.75"/>
<circle cx="315.38" cy="413.61" r="1.75"/>
<circle cx="318.45" cy="426.43" r="1.75"/>
<circle cx="319.28" cy="423.55" r="1.75"/>
<circle cx="317.55" cy="411.5" r="1.75"/>
<circle cx="317.81" cy="412.98" r="1.75"/>
<circle cx="316.94" cy="404.42" r="1.75"/>
<circle cx="314.35" cy="401.66" r="1.75"/>
<circle cx="313.33" cy="405.61" r="1.75"/>
<circle cx="313.71" cy="401.19" r="1.75"/>
<circle cx="319.29" cy="418.19" r="1.75"/>
<circle cx="317.61" cy="423.49" r="1.75"/>
<circle cx="319.69" cy="408.65" r="1.75"/>
<circle cx="314.68" cy="388.81" r="1.75"/>
<circle cx="317.39" cy="409.96" r="1.75"/>
<circle cx="316.29" cy="423.7" r="1.75"/>
<circle cx="318.09" cy="411" r="1.75"/>
<circle cx="315.44" cy="400.22" r="1.75"/>
<circle cx="319.5" cy="422.63" r="1.75"/>
<circle cx="313.57" cy="405.89" r="1.75"/>
<circle cx="316.72" cy="418.78" r="1.75"/>
<circle cx="317.75" cy="401.62" r="1.75"/>
<circle cx="319.08" cy="406.06" r="1.75"/>
<circle cx="318.13" cy="410.44" r="1.75"/>
<circle cx="317.18" cy="394.99" r="1.75"/>
<circle cx="318.51" cy="416.93" r="1.75"/>
<circle cx="319.24" cy="419.46" r="1.75"/>
<circle cx="315.77" cy="396.31" r="1.75"/>
<circle cx="317.61" cy="421.19" r="1.75"/>
<circle cx="317.84" cy="393.18" r="1.75"/>
<circle cx="319.15" cy="413.58" r="1.75"/>
<circle cx="315.89" cy="422.65" r="1.75"/>
<circle cx="318.55" cy="413.23" r="1.75"/>
<circle cx="319.08" cy="412.02" r="1.75"/>
<circle cx="316.94" cy="411.38" r="1.75"/>
<circle cx="317.32" cy="414.96" r="1.75"/>
<circle cx="315.68" cy="403.36" r="1.75"/>
<circle cx="316.7" cy="434.34" r="1.75"/>
<circle cx="317.17" cy="418.26" r="1.75"/>
<circle cx="313.33" cy="415.6" r="1.75"/>
<circle cx="317" cy="396.64" r="1.75"/>
<circle cx="318.31" cy="431.36" r="1.75"/>
<circle cx="319.16" cy="416.3" r="1.75"/>
<circle cx="317.76" cy="423.62" r="1.75"/>
<circle cx="315.63" cy="419.27" r="1.75"/>
<circle cx="318.03" cy="407.38" r="1.75"/>
<circle cx="316.98" cy="409.47" r="1.75"/>
<circle cx="316.09" cy="400.09" r="1.75"/>
<circle cx="318.76" cy="418.67" r="1.75"/>
<circle cx="313.36" cy="410.76" r="1.75"/>
<circle cx="317.88" cy="402.52" r="1.75"/>
<circle cx="313.35" cy="404.98" r="1.75"/>
<circle cx="317.14" cy="416.27" r="1.75"/>
<circle cx="316.29" cy="402.93" r="1.75"/>
<circle cx="314.66" cy="421.62" r="1.75"/>
<circle cx="317.26" cy="396.78" r="1.75"/>
<circle cx="316.38" cy="411.8" r="1.75"/>
<circle cx="317.25" cy="414.24" r="1.75"/>
<circle cx="319.47" cy="410.74" r="1.75"/>
<circle cx="314.79" cy="405.48" r="1.75"/>
<circle cx="314.19" cy="397.35" r="1.75"/>
<circle cx="314.93" cy="414.5" r="1.75"/>
<circle cx="317.69" cy="416.56" r="1.75"/>
<circle cx="314.32" cy="407.87" r="1.75"/>
<circle cx="314.24" cy="421.15" r="1.75"/>
<circle cx="318.28" cy="428.66" r="1.75"/>
<circle cx="317.46" cy="405.6" r="1.75"/>
<circle cx="315.98" cy="416.67" r="1.75"/>
<circle cx="318.76" cy="402.95" r="1.75"/>
<circle cx="315.32" cy="422.56" r="1.75"/>
<circle cx="317.61" cy="410.63" r="1.75"/>
<circle cx="314.18" cy="411.8" r="1.75"/>
<circle cx="316.06" cy="398.63" r="1.75"/>
<circle cx="318.56" cy="408.42" r="1.75"/>
<circle cx="319.42" cy="410.39" r="1.75"/>
<circle cx="319.06" cy="407.87" r="1.75"/>
<circle cx="315.56" cy="416.55" r="1.75"/>
<circle cx="317.01" cy="412.5" r="1.75"/>
<circle cx="315.39" cy="425.52" r="1.75"/>
<circle cx="313.82" cy="408.48" r="1.75"/>
<circle cx="316.38" cy="420.55" r="1.75"/>
<circle cx="318.81" cy="417.27" r="1.75"/>
<circle cx="318.78" cy="406.84" r="1.75"/>
<circle cx="317.76" cy="404.87" r="1.75"/>
<circle cx="319.22" cy="422.38" r="1.75"/>
<circle cx="315.54" cy="394.96" r="1.75"/>
<circle cx="314.09" cy="418.6" r="1.75"/>
<circle cx="316.07" cy="405.6" r="1.75"/>
<circle cx="314.96" cy="404.54" r="1.75"/>
<circle cx="314.3" cy="411.17" r="1.75"/>
<circle cx="315.77" cy="411.64" r="1.75"/>
<circle cx="316.95" cy="396.84" r="1.75"/>
<circle cx="316.36" cy="405.1" r="1.75"/>
<circle cx="315.08" cy="409.15" r="1.75"/>
<circle cx="317.86" cy="429.83" r="1.75"/>
<circle cx="319.66" cy="420.02" r="1.75"/>
<circle cx="316.12" cy="402.62" r="1.75"/>
<circle cx="313.27" cy="411.44" r="1.75"/>
<circle cx="313.41" cy="421.91" r="1.75"/>
<circle cx="318.98" cy="419.06" r="1.75"/>
<circle cx="313.06" cy="416" r="1.75"/>
<circle cx="317.83" cy="406.96" r="1.75"/>
<circle cx="316.91" cy="409.68" r="1.75"/>
<circle cx="315.2" cy="404.13" r="1.75"/>
<circle cx="318.33" cy="420.65" r="1.75"/>
<circle cx="313.36" cy="404.23" r="1.75"/>
<circle cx="313.81" cy="417.78" r="1.75"/>
<circle cx="316.07" cy="415.93" r="1.75"/>
<circle cx="314.25" cy="397.42" r="1.75"/>
<circle cx="318.84" cy="412.54" r="1.75"/>
<circle cx="314.46" cy="414.48" r="1.75"/>
<circle cx="313.76" cy="415.13" r="1.75"/>
<circle cx="313.13" cy="416.72" r="1.75"/>
<circle cx="317.04" cy="399.01" r="1.75"/>
<circle cx="316.11" cy="400.67" r="1.75"/>
<circle cx="317.28" cy="406.68" r="1.75"/>
<circle cx="317.54" cy="411.53" r="1.75"/>
<circle cx="318.31" cy="403.71" r="1.75"/>
<circle cx="319.79" cy="413.92" r="1.75"/>
<circle cx="317.72" cy="409.09" r="1.75"/>
<circle cx="314.23" cy="409.55" r="1.75"/>
<circle cx="316.22" cy="412.4" r="1.75"/>
<circle cx="314.87" cy="398.19" r="1.75"/>
<circle cx="314.21" cy="397.22" r="1.75"/>
<circle cx="316.25" cy="401.15" r="1.75"/>
<circle cx="317.27" cy="430.64" r="1.75"/>
<circle cx="315.03" cy="396.49" r="1.75"/>
<circle cx="314.85" cy="406.81" r="1.75"/>
<circle cx="315.3" cy="417.31" r="1.75"/>
<circle cx="317.86" cy="413.43" r="1.75"/>
<circle cx="316.52" cy="402.84" r="1.75"/>
<circle cx="317.08" cy="402.51" r="1.75"/>
<circle cx="318.08" cy="405.42" r="1.75"/>
<circle cx="315.61" cy="411.93" r="1.75"/>
<circle cx="318.56" cy="412.88" r="1.75"/>
<circle cx="319.09" cy="405.63" r="1.75"/>
<circle cx="313.35" cy="414.04" r="1.75"/>
<circle cx="319.21" cy="421.39" r="1.75"/>
<circle cx="317.94" cy="418.89" r="1.75"/>
<circle cx="313.67" cy="414.48" r="1.75"/>
<circle cx="316.06" cy="410.18" r="1.75"/>
<circle cx="316.85" cy="392.59" r="1.75"/>
<circle cx="318.63" cy="425.69" r="1.75"/>
<circle cx="315.52" cy="408.86" r="1.75"/>
<circle cx="316.91" cy="414.04" r="1.75"/>
<circle cx="319.17" cy="410.47" r="1.75"/>
<circle cx="318.03" cy="400.88" r="1.75"/>
<circle cx="318.96" cy="401.9" r="1.75"/>
<circle cx="316.13" cy="414.64" r="1.75"/>
<circle cx="317.46" cy="418.29" r="1.75"/>
<circle cx="314.79" cy="425.62" r="1.75"/>
<circle cx="318.04" cy="413.86" r="1.75"/>
<circle cx="318.23" cy="401.85" r="1.75"/>
<circle cx="317.44" cy="415.62" r="1.75"/>
<circle cx="317.89" cy="406.8" r="1.75"/>
<circle cx="314.44" cy="406.76" r="1.75"/>
<circle cx="319.28" cy="409.59" r="1.75"/>
<circle cx="319.34" cy="403.34" r="1.75"/>
<circle cx="319.93" cy="414.25" r="1.75"/>
<circle cx="316.64" cy="420.77" r="1.75"/>
<circle cx="318.12" cy="423.89" r="1.75"/>
<circle cx="315.24" cy="404.77" r="1.75"/>
<circle cx="319.37" cy="416.51" r="1.75"/>
<circle cx="318.99" cy="416.04" r="1.75"/>
<circle cx="315.4" cy="405.61" r="1.75"/>
<circle cx="313.61" cy="420.4" r="1.75"/>
<circle cx="316.14" cy="397.09" r="1.75"/>
<circle cx="316.75" cy="407.14" r="1.75"/>
<circle cx="318.3" cy="418.01" r="1.75"/>
<circle cx="316.31" cy="418.98" r="1.75"/>
<circle cx="313.52" cy="403.36" r="1.75"/>
<circle cx="318.22" cy="423.99" r="1.75"/>
<circle cx="313.38" cy="419.05" r="1.75"/>
<circle cx="318.62" cy="413.15" r="1.75"/>
<circle cx="314" cy="411.36" r="1.75"/>
</g>
<g fill="none" stroke="#7aa1c7" stroke-width="0.7" stroke-opacity="1">
<circle cx="316.4" cy="349.01" r="1.75"/>
<circle cx="320.4" cy="363.76" r="1.75"/>
<circle cx="313.9" cy="365.06" r="1.75"/>
<circle cx="316.7" cy="365.5" r="1.75"/>
<circle cx="319.4" cy="369.83" r="1.75"/>
<circle cx="313.4" cy="370.7" r="1.75"/>
<circle cx="317.9" cy="372" r="1.75"/>
<circle cx="313.6" cy="374.17" r="1.75"/>
<circle cx="318.4" cy="375.47" r="1.75"/>
<circle cx="315.4" cy="377.64" r="1.75"/>
<circle cx="319.9" cy="378.51" r="1.75"/>
<circle cx="317.19" cy="379.52" r="1.75"/>
<circle cx="318.29" cy="376.04" r="1.75"/>
<circle cx="317.94" cy="376.39" r="1.75"/>
<circle cx="313.39" cy="384.31" r="1.75"/>
<circle cx="319.24" cy="381.13" r="1.75"/>
<circle cx="318.97" cy="390.43" r="1.75"/>
<circle cx="316.2" cy="388.11" r="1.75"/>
<circle cx="316.68" cy="382.43" r="1.75"/>
<circle cx="313.28" cy="388.63" r="1.75"/>
<circle cx="314.99" cy="376.49" r="1.75"/>
<circle cx="318.1" cy="389.62" r="1.75"/>
<circle cx="318.3" cy="389.98" r="1.75"/>
<circle cx="317.15" cy="390.19" r="1.75"/>
<circle cx="313.21" cy="377.27" r="1.75"/>
<circle cx="314.54" cy="388.65" r="1.75"/>
<circle cx="319.49" cy="377.25" r="1.75"/>
<circle cx="315.05" cy="375.71" r="1.75"/>
<circle cx="316.65" cy="380.63" r="1.75"/>
<circle cx="314.51" cy="376.06" r="1.75"/>
<circle cx="317.62" cy="375.62" r="1.75"/>
<circle cx="318.92" cy="387.21" r="1.75"/>
<circle cx="315.51" cy="389.51" r="1.75"/>
</g>
<g fill="none" stroke="#17508a" stroke-width="0.7" stroke-opacity="1">
<circle cx="352.51" cy="387.43" r="1.75"/>
<circle cx="353.72" cy="416.07" r="1.75"/>
<circle cx="353.86" cy="405.97" r="1.75"/>
<circle cx="349.82" cy="408.34" r="1.75"/>
<circle cx="349.3" cy="401.77" r="1.75"/>
<circle cx="351.95" cy="423.12" r="1.75"/>
<circle cx="350.9" cy="413.7" r="1.75"/>
<circle cx="354.75" cy="416.91" r="1.75"/>
<circle cx="353.77" cy="419.99" r="1.75"/>
<circle cx="353.28" cy="417.79" r="1.75"/>
<circle cx="353.03" cy="414.63" r="1.75"/>
<circle cx="353.84" cy="412.48" r="1.75"/>
<circle cx="350.27" cy="418.39" r="1.75"/>
<circle cx="352.15" cy="405.71" r="1.75"/>
<circle cx="350.13" cy="414.96" r="1.75"/>
<circle cx="354.95" cy="398.38" r="1.75"/>
<circle cx="349.27" cy="413.48" r="1.75"/>
<circle cx="354.81" cy="416.83" r="1.75"/>
<circle cx="349.33" cy="407.18" r="1.75"/>
<circle cx="354.04" cy="407.55" r="1.75"/>
<circle cx="351.33" cy="409.24" r="1.75"/>
<circle cx="351.96" cy="417.89" r="1.75"/>
<circle cx="355.25" cy="407.91" r="1.75"/>
<circle cx="350.31" cy="424.41" r="1.75"/>
<circle cx="350.39" cy="395.97" r="1.75"/>
<circle cx="354.91" cy="421.82" r="1.75"/>
<circle cx="352.67" cy="411.71" r="1.75"/>
<circle cx="349.41" cy="409.56" r="1.75"/>
<circle cx="356.36" cy="407.65" r="1.75"/>
<circle cx="356.04" cy="412.09" r="1.75"/>
<circle cx="349.72" cy="405.13" r="1.75"/>
<circle cx="352.01" cy="411.97" r="1.75"/>
<circle cx="349.8" cy="412.5" r="1.75"/>
<circle cx="351.23" cy="415.12" r="1.75"/>
<circle cx="353.23" cy="396.37" r="1.75"/>
<circle cx="350.57" cy="420.3" r="1.75"/>
<circle cx="354.12" cy="411.77" r="1.75"/>
<circle cx="350.98" cy="430.42" r="1.75"/>
<circle cx="350.05" cy="408.38" r="1.75"/>
<circle cx="353.88" cy="426.54" r="1.75"/>
<circle cx="352.18" cy="426.04" r="1.75"/>
<circle cx="352.31" cy="388.39" r="1.75"/>
<circle cx="353.3" cy="404.24" r="1.75"/>
<circle cx="352.42" cy="411.08" r="1.75"/>
<circle cx="351.7" cy="409.36" r="1.75"/>
<circle cx="350.44" cy="424.86" r="1.75"/>
<circle cx="353.91" cy="421.13" r="1.75"/>
<circle cx="356.18" cy="406.92" r="1.75"/>
<circle cx="354.31" cy="431.41" r="1.75"/>
<circle cx="353.87" cy="408.38" r="1.75"/>
<circle cx="352.07" cy="427.75" r="1.75"/>
<circle cx="351.53" cy="409.84" r="1.75"/>
<circle cx="353.66" cy="421.75" r="1.75"/>
<circle cx="353.37" cy="394.04" r="1.75"/>
<circle cx="350.06" cy="401.17" r="1.75"/>
<circle cx="350.71" cy="415.99" r="1.75"/>
<circle cx="352.11" cy="429.29" r="1.75"/>
<circle cx="352.67" cy="418.6" r="1.75"/>
<circle cx="355" cy="411.55" r="1.75"/>
<circle cx="352.6" cy="420.61" r="1.75"/>
<circle cx="348.94" cy="408.25" r="1.75"/>
<circle cx="354.74" cy="401.42" r="1.75"/>
<circle cx="352.06" cy="411.53" r="1.75"/>
<circle cx="352.74" cy="415.2" r="1.75"/>
<circle cx="350.62" cy="403.43" r="1.75"/>
<circle cx="352.05" cy="413.86" r="1.75"/>
<circle cx="351.82" cy="402.77" r="1.75"/>
<circle cx="354.63" cy="414.08" r="1.75"/>
<circle cx="350.68" cy="395.34" r="1.75"/>
<circle cx="352.98" cy="413.69" r="1.75"/>
<circle cx="350.75" cy="421.26" r="1.75"/>
<circle cx="354.13" cy="410.05" r="1.75"/>
<circle cx="349.41" cy="417.12" r="1.75"/>
<circle cx="351.24" cy="420.09" r="1.75"/>
<circle cx="351.4" cy="412.21" r="1.75"/>
<circle cx="353.58" cy="403.71" r="1.75"/>
<circle cx="350.99" cy="431.94" r="1.75"/>
<circle cx="352.28" cy="411.4" r="1.75"/>
<circle cx="350.37" cy="412.44" r="1.75"/>
<circle cx="350.93" cy="412.38" r="1.75"/>
<circle cx="352.43" cy="403.17" r="1.75"/>
<circle cx="354.89" cy="423.62" r="1.75"/>
<circle cx="352.46" cy="404.54" r="1.75"/>
<circle cx="356.06" cy="413.15" r="1.75"/>
<circle cx="350.01" cy="409.85" r="1.75"/>
<circle cx="355.83" cy="413.06" r="1.75"/>
<circle cx="351.59" cy="414.11" r="1.75"/>
<circle cx="350.38" cy="415.99" r="1.75"/>
<circle cx="354.5" cy="406.89" r="1.75"/>
<circle cx="354.08" cy="390.47" r="1.75"/>
<circle cx="349.42" cy="400.63" r="1.75"/>
<circle cx="351" cy="402.56" r="1.75"/>
<circle cx="354.62" cy="405.39" r="1.75"/>
<circle cx="351.45" cy="415.42" r="1.75"/>
<circle cx="350.69" cy="404.9" r="1.75"/>
<circle cx="350.83" cy="390.67" r="1.75"/>
<circle cx="350.23" cy="423.16" r="1.75"/>
<circle cx="353.43" cy="402.68" r="1.75"/>
<circle cx="355.75" cy="400.87" r="1.75"/>
<circle cx="356.46" cy="407.94" r="1.75"/>
<circle cx="352.63" cy="403.02" r="1.75"/>
<circle cx="350.02" cy="397.16" r="1.75"/>
<circle cx="351.96" cy="389.16" r="1.75"/>
<circle cx="354.23" cy="397.93" r="1.75"/>
<circle cx="354.12" cy="394.51" r="1.75"/>
<circle cx="353.67" cy="407.29" r="1.75"/>
<circle cx="350.73" cy="402.47" r="1.75"/>
<circle cx="352.81" cy="408.77" r="1.75"/>
<circle cx="352.43" cy="407.58" r="1.75"/>
<circle cx="353.53" cy="414.88" r="1.75"/>
<circle cx="350.89" cy="403.82" r="1.75"/>
<circle cx="354.9" cy="396.36" r="1.75"/>
<circle cx="355.64" cy="411.87" r="1.75"/>
<circle cx="349.99" cy="407.87" r="1.75"/>
<circle cx="351.08" cy="404.28" r="1.75"/>
<circle cx="355.51" cy="410.08" r="1.75"/>
<circle cx="351.14" cy="401.2" r="1.75"/>
<circle cx="356.03" cy="407.76" r="1.75"/>
<circle cx="352.69" cy="421.51" r="1.75"/>
<circle cx="353.79" cy="420.15" r="1.75"/>
<circle cx="354.05" cy="403.18" r="1.75"/>
<circle cx="350.53" cy="404.09" r="1.75"/>
<circle cx="351.28" cy="399.52" r="1.75"/>
<circle cx="350.71" cy="407.74" r="1.75"/>
<circle cx="354.02" cy="408.17" r="1.75"/>
<circle cx="353.46" cy="425.32" r="1.75"/>
<circle cx="350.66" cy="396.66" r="1.75"/>
<circle cx="355.07" cy="418.99" r="1.75"/>
<circle cx="352.1" cy="400.06" r="1.75"/>
<circle cx="351.1" cy="421.09" r="1.75"/>
<circle cx="352.15" cy="416.46" r="1.75"/>
<circle cx="356.33" cy="408.58" r="1.75"/>
<circle cx="353.05" cy="414.16" r="1.75"/>
<circle cx="353.47" cy="416.79" r="1.75"/>
<circle cx="355.39" cy="401.41" r="1.75"/>
<circle cx="355.9" cy="403.52" r="1.75"/>
<circle cx="354.57" cy="406.22" r="1.75"/>
<circle cx="351.98" cy="413.27" r="1.75"/>
<circle cx="353.19" cy="417.95" r="1.75"/>
<circle cx="355.56" cy="414.59" r="1.75"/>
<circle cx="354.71" cy="415.03" r="1.75"/>
<circle cx="353.22" cy="410.23" r="1.75"/>
<circle cx="351.54" cy="402.59" r="1.75"/>
<circle cx="351.58" cy="411.59" r="1.75"/>
<circle cx="354.2" cy="417.57" r="1.75"/>
<circle cx="353.05" cy="415.9" r="1.75"/>
<circle cx="349.92" cy="397.63" r="1.75"/>
<circle cx="354.23" cy="408.36" r="1.75"/>
<circle cx="355.72" cy="407.67" r="1.75"/>
<circle cx="354.89" cy="407.22" r="1.75"/>
<circle cx="355.49" cy="404.21" r="1.75"/>
<circle cx="355.79" cy="408.56" r="1.75"/>
<circle cx="352.8" cy="398.58" r="1.75"/>
<circle cx="354.57" cy="402.06" r="1.75"/>
<circle cx="351.66" cy="411.16" r="1.75"/>
<circle cx="350.4" cy="422.12" r="1.75"/>
<circle cx="351.46" cy="408.6" r="1.75"/>
<circle cx="351.45" cy="399.45" r="1.75"/>
<circle cx="355.99" cy="409.8" r="1.75"/>
<circle cx="353.61" cy="396.98" r="1.75"/>
<circle cx="352.83" cy="421.91" r="1.75"/>
<circle cx="353.28" cy="421.79" r="1.75"/>
<circle cx="349.7" cy="411.59" r="1.75"/>
<circle cx="352.84" cy="416.85" r="1.75"/>
<circle cx="353.82" cy="420.07" r="1.75"/>
<circle cx="351.83" cy="404.32" r="1.75"/>
<circle cx="350.65" cy="407.18" r="1.75"/>
<circle cx="351.87" cy="409.66" r="1.75"/>
<circle cx="351.27" cy="413.63" r="1.75"/>
<circle cx="354.02" cy="407.23" r="1.75"/>
<circle cx="349.81" cy="410.9" r="1.75"/>
<circle cx="349.75" cy="416.73" r="1.75"/>
<circle cx="351.22" cy="404.85" r="1.75"/>
<circle cx="354.08" cy="406.19" r="1.75"/>
<circle cx="354.62" cy="408.97" r="1.75"/>
<circle cx="353.72" cy="403.1" r="1.75"/>
<circle cx="355.22" cy="420.31" r="1.75"/>
<circle cx="351.56" cy="411.13" r="1.75"/>
<circle cx="349.14" cy="414.75" r="1.75"/>
<circle cx="352.53" cy="397.02" r="1.75"/>
<circle cx="352.18" cy="404.88" r="1.75"/>
<circle cx="351.45" cy="389.54" r="1.75"/>
<circle cx="353.38" cy="394.73" r="1.75"/>
<circle cx="351.4" cy="413.28" r="1.75"/>
<circle cx="351.01" cy="420.19" r="1.75"/>
<circle cx="351.32" cy="405.12" r="1.75"/>
<circle cx="356" cy="412.44" r="1.75"/>
<circle cx="348.78" cy="411.25" r="1.75"/>
<circle cx="351.74" cy="419.87" r="1.75"/>
<circle cx="351.01" cy="404" r="1.75"/>
</g>
<g fill="none" stroke="#17508a" stroke-width="0.7" stroke-opacity="1">
<circle cx="353.1" cy="372.44" r="1.75"/>
<circle cx="355.1" cy="376.77" r="1.75"/>
<circle cx="351.1" cy="378.51" r="1.75"/>
<circle cx="355.6" cy="379.38" r="1.75"/>
<circle cx="350.1" cy="380.25" r="1.75"/>
<circle cx="353.6" cy="381.11" r="1.75"/>
<circle cx="350.47" cy="391.6" r="1.75"/>
<circle cx="351.41" cy="385.07" r="1.75"/>
<circle cx="349.62" cy="384.16" r="1.75"/>
<circle cx="351.63" cy="388.63" r="1.75"/>
<circle cx="354.51" cy="386.55" r="1.75"/>
<circle cx="351.49" cy="386.55" r="1.75"/>
<circle cx="353.83" cy="391.7" r="1.75"/>
<circle cx="355.45" cy="392.11" r="1.75"/>
<circle cx="354.1" cy="382.13" r="1.75"/>
<circle cx="349.71" cy="382.82" r="1.75"/>
<circle cx="351.8" cy="385.36" r="1.75"/>
<circle cx="349.65" cy="391.82" r="1.75"/>
</g>
<line x1="294.3" y1="312.4" x2="294.3" y2="446.3" stroke="#231f20" stroke-width="1"/>
<line x1="293.8" y1="445.8" x2="374.6" y2="445.8" stroke="#231f20" stroke-width="1"/>
<line x1="291.5" y1="437.5" x2="294.3" y2="437.5" stroke="#231f20" stroke-width="0.9"/>
<text x="0" y="0" font-size="8" text-anchor="end" fill="#231f20" transform="translate(288.7 440.1) scale(0.93 1)">0.2</text>
<line x1="291.5" y1="420.15" x2="294.3" y2="420.15" stroke="#231f20" stroke-width="0.9"/>
<text x="0" y="0" font-size="8" text-anchor="end" fill="#231f20" transform="translate(288.7 422.75) scale(0.93 1)">0.4</text>
<line x1="291.5" y1="402.8" x2="294.3" y2="402.8" stroke="#231f20" stroke-width="0.9"/>
<text x="0" y="0" font-size="8" text-anchor="end" fill="#231f20" transform="translate(288.7 405.4) scale(0.93 1)">0.6</text>
<line x1="291.5" y1="385.45" x2="294.3" y2="385.45" stroke="#231f20" stroke-width="0.9"/>
<text x="0" y="0" font-size="8" text-anchor="end" fill="#231f20" transform="translate(288.7 388.05) scale(0.93 1)">0.8</text>
<line x1="291.5" y1="368.1" x2="294.3" y2="368.1" stroke="#231f20" stroke-width="0.9"/>
<text x="0" y="0" font-size="8" text-anchor="end" fill="#231f20" transform="translate(288.7 370.7) scale(0.93 1)">1.0</text>
<line x1="291.5" y1="350.75" x2="294.3" y2="350.75" stroke="#231f20" stroke-width="0.9"/>
<text x="0" y="0" font-size="8" text-anchor="end" fill="#231f20" transform="translate(288.7 353.35) scale(0.93 1)">1.2</text>
<line x1="291.5" y1="333.4" x2="294.3" y2="333.4" stroke="#231f20" stroke-width="0.9"/>
<text x="0" y="0" font-size="8" text-anchor="end" fill="#231f20" transform="translate(288.7 336) scale(0.93 1)">1.4</text>
<line x1="291.5" y1="316.05" x2="294.3" y2="316.05" stroke="#231f20" stroke-width="0.9"/>
<text x="0" y="0" font-size="8" text-anchor="end" fill="#231f20" transform="translate(288.7 318.65) scale(0.93 1)">1.6</text>
<text x="316.5" y="455" font-size="7.5" text-anchor="middle" fill="#231f20">No CH</text>
<text x="352.6" y="455" font-size="7.5" text-anchor="middle" fill="#231f20">CH</text>
<text x="0" y="0" font-size="8.2" text-anchor="middle" fill="#231f20" stroke="#231f20" stroke-width="0.22" transform="translate(337.5 467.6) scale(0.7435 1)">Controls</text>
<text x="0" y="0" font-size="8.2" text-anchor="middle" fill="#231f20" stroke="#231f20" stroke-width="0.22" transform="translate(271.8 375.6) rotate(-90) scale(0.7999 1)">Absolute monocyte count (&#215;10<tspan font-size="5.33" dy="-3">9</tspan><tspan dy="3">/L)</tspan></text>
<text x="393" y="311.5" font-size="11" text-anchor="start" fill="#000" font-weight="bold">F</text>
<rect x="437.2" y="354.4" width="13.2" height="15.2" rx="4" fill="#e07b92"/>
<rect x="472.7" y="350.6" width="14.6" height="19" fill="#c8102e"/>
<line x1="443.8" y1="345.5" x2="443.8" y2="354.5" stroke="#555" stroke-width="0.8"/>
<line x1="479.8" y1="332" x2="479.8" y2="350.6" stroke="#555" stroke-width="0.8"/>
<line x1="436.6" y1="363" x2="439.5" y2="363" stroke="#222" stroke-width="1"/>
<line x1="448.1" y1="363" x2="451" y2="363" stroke="#222" stroke-width="1"/>
<line x1="472" y1="358.5" x2="475" y2="358.5" stroke="#222" stroke-width="1"/>
<line x1="485" y1="358.5" x2="488" y2="358.5" stroke="#222" stroke-width="1"/>
<g fill="none" stroke="#e07890" stroke-width="0.75" stroke-opacity="1">
<circle cx="441.3" cy="361.62" r="1.75"/>
<circle cx="445.55" cy="356.61" r="1.75"/>
<circle cx="445.61" cy="366.07" r="1.75"/>
<circle cx="447.22" cy="357.72" r="1.75"/>
<circle cx="440.55" cy="363.15" r="1.75"/>
<circle cx="441.01" cy="363.16" r="1.75"/>
<circle cx="440.87" cy="353.79" r="1.75"/>
<circle cx="440.95" cy="361.34" r="1.75"/>
<circle cx="446.23" cy="362.21" r="1.75"/>
<circle cx="440.08" cy="358.86" r="1.75"/>
<circle cx="444.1" cy="357.14" r="1.75"/>
<circle cx="440.82" cy="362.16" r="1.75"/>
<circle cx="441.71" cy="359.48" r="1.75"/>
<circle cx="443.13" cy="366.25" r="1.75"/>
<circle cx="447.28" cy="363.62" r="1.75"/>
<circle cx="444.91" cy="363.93" r="1.75"/>
<circle cx="439.28" cy="367.81" r="1.75"/>
<circle cx="441.48" cy="363.06" r="1.75"/>
<circle cx="440.13" cy="362.78" r="1.75"/>
<circle cx="447.64" cy="363.42" r="1.75"/>
<circle cx="447.02" cy="361.73" r="1.75"/>
<circle cx="446.65" cy="367.82" r="1.75"/>
<circle cx="447.19" cy="362.37" r="1.75"/>
<circle cx="446.34" cy="360.99" r="1.75"/>
<circle cx="448.31" cy="358.77" r="1.75"/>
<circle cx="446.72" cy="365.7" r="1.75"/>
<circle cx="441.29" cy="363.76" r="1.75"/>
<circle cx="447.38" cy="364.21" r="1.75"/>
<circle cx="443.67" cy="357.25" r="1.75"/>
<circle cx="446.35" cy="358.56" r="1.75"/>
<circle cx="444.46" cy="360.61" r="1.75"/>
<circle cx="443.07" cy="363.38" r="1.75"/>
<circle cx="442.41" cy="360.04" r="1.75"/>
<circle cx="443.08" cy="359.74" r="1.75"/>
<circle cx="441.99" cy="357.49" r="1.75"/>
<circle cx="439.83" cy="363.03" r="1.75"/>
<circle cx="447.05" cy="364.6" r="1.75"/>
<circle cx="446.83" cy="364.65" r="1.75"/>
<circle cx="448.55" cy="366.31" r="1.75"/>
<circle cx="445.79" cy="362.22" r="1.75"/>
<circle cx="444.34" cy="365.44" r="1.75"/>
<circle cx="446.21" cy="357.39" r="1.75"/>
<circle cx="440.28" cy="366.77" r="1.75"/>
<circle cx="445.54" cy="366.16" r="1.75"/>
<circle cx="443.33" cy="353.78" r="1.75"/>
</g>
<g fill="none" stroke="#e07890" stroke-width="0.75" stroke-opacity="1">
<circle cx="441.8" cy="330.8" r="1.75"/>
<circle cx="444.6" cy="327.33" r="1.75"/>
<circle cx="446.3" cy="330.8" r="1.75"/>
<circle cx="442.8" cy="329.5" r="1.75"/>
<circle cx="445.6" cy="331.66" r="1.75"/>
<circle cx="441.3" cy="343.81" r="1.75"/>
<circle cx="446.6" cy="347.28" r="1.75"/>
<circle cx="442.3" cy="349.01" r="1.75"/>
<circle cx="445.3" cy="349.88" r="1.75"/>
<circle cx="443.3" cy="350.75" r="1.75"/>
</g>
<g fill="none" stroke="#c8102e" stroke-width="0.75" stroke-opacity="1">
<circle cx="475.34" cy="359.18" r="1.75"/>
<circle cx="482.21" cy="356.6" r="1.75"/>
<circle cx="481.63" cy="362.22" r="1.75"/>
<circle cx="484.95" cy="357.28" r="1.75"/>
<circle cx="477.43" cy="353.8" r="1.75"/>
<circle cx="477.11" cy="356.93" r="1.75"/>
<circle cx="482.11" cy="349.94" r="1.75"/>
<circle cx="481.62" cy="364.8" r="1.75"/>
<circle cx="477.62" cy="359.02" r="1.75"/>
<circle cx="481.95" cy="363.71" r="1.75"/>
<circle cx="478.76" cy="364.18" r="1.75"/>
<circle cx="483.11" cy="360.54" r="1.75"/>
<circle cx="475.49" cy="358.08" r="1.75"/>
<circle cx="476.74" cy="356.88" r="1.75"/>
<circle cx="484.46" cy="356.34" r="1.75"/>
<circle cx="478.35" cy="354.19" r="1.75"/>
<circle cx="477.13" cy="358.18" r="1.75"/>
<circle cx="483.32" cy="363.21" r="1.75"/>
<circle cx="481.39" cy="362.56" r="1.75"/>
<circle cx="476.39" cy="351.49" r="1.75"/>
<circle cx="480.49" cy="360.78" r="1.75"/>
<circle cx="481.79" cy="357.54" r="1.75"/>
<circle cx="476.04" cy="361.19" r="1.75"/>
<circle cx="481.46" cy="366.56" r="1.75"/>
<circle cx="475.83" cy="365.02" r="1.75"/>
<circle cx="478.07" cy="363.22" r="1.75"/>
<circle cx="475.07" cy="359.57" r="1.75"/>
<circle cx="476.52" cy="362.02" r="1.75"/>
<circle cx="485.44" cy="358.99" r="1.75"/>
<circle cx="479.06" cy="348.27" r="1.75"/>
<circle cx="485.29" cy="364.28" r="1.75"/>
<circle cx="479.23" cy="364.33" r="1.75"/>
<circle cx="481.14" cy="360.94" r="1.75"/>
<circle cx="483.8" cy="352.77" r="1.75"/>
<circle cx="481.98" cy="363.71" r="1.75"/>
<circle cx="476.12" cy="350.72" r="1.75"/>
<circle cx="480.79" cy="367.37" r="1.75"/>
<circle cx="481.32" cy="365.69" r="1.75"/>
<circle cx="476.2" cy="359.76" r="1.75"/>
<circle cx="475.49" cy="364.67" r="1.75"/>
<circle cx="484.11" cy="363.18" r="1.75"/>
<circle cx="480.06" cy="356.69" r="1.75"/>
<circle cx="476.5" cy="355.03" r="1.75"/>
<circle cx="479.35" cy="358.73" r="1.75"/>
<circle cx="476.65" cy="361.09" r="1.75"/>
<circle cx="482.87" cy="351.26" r="1.75"/>
<circle cx="479.91" cy="356.98" r="1.75"/>
<circle cx="475.31" cy="360.85" r="1.75"/>
<circle cx="483.16" cy="352.05" r="1.75"/>
<circle cx="475.46" cy="364.9" r="1.75"/>
<circle cx="477.36" cy="358.42" r="1.75"/>
<circle cx="474.62" cy="355.42" r="1.75"/>
<circle cx="482.69" cy="359.49" r="1.75"/>
<circle cx="475.54" cy="362.91" r="1.75"/>
<circle cx="480.2" cy="357.3" r="1.75"/>
<circle cx="475.29" cy="362.71" r="1.75"/>
<circle cx="479.68" cy="363.04" r="1.75"/>
<circle cx="481.87" cy="365.64" r="1.75"/>
<circle cx="480.25" cy="351.5" r="1.75"/>
<circle cx="479.39" cy="362.76" r="1.75"/>
<circle cx="479.74" cy="352.41" r="1.75"/>
<circle cx="479.18" cy="357.11" r="1.75"/>
<circle cx="481" cy="361.01" r="1.75"/>
<circle cx="475.38" cy="355.37" r="1.75"/>
<circle cx="479.61" cy="357.77" r="1.75"/>
<circle cx="476.85" cy="358.63" r="1.75"/>
<circle cx="483.51" cy="367.78" r="1.75"/>
<circle cx="484.99" cy="358.99" r="1.75"/>
<circle cx="475.2" cy="354" r="1.75"/>
<circle cx="475.85" cy="356.47" r="1.75"/>
<circle cx="482.07" cy="353.38" r="1.75"/>
<circle cx="480.59" cy="350.37" r="1.75"/>
<circle cx="474.4" cy="356.93" r="1.75"/>
<circle cx="481.61" cy="347.43" r="1.75"/>
<circle cx="485.02" cy="360.89" r="1.75"/>
<circle cx="479.06" cy="354.44" r="1.75"/>
<circle cx="478.13" cy="358.85" r="1.75"/>
<circle cx="480.53" cy="349.17" r="1.75"/>
<circle cx="484.94" cy="361.65" r="1.75"/>
<circle cx="477.51" cy="351.66" r="1.75"/>
</g>
<g fill="none" stroke="#c8102e" stroke-width="0.75" stroke-opacity="1">
<circle cx="478.4" cy="324.73" r="1.75"/>
<circle cx="480.9" cy="326.46" r="1.75"/>
<circle cx="477.9" cy="328.19" r="1.75"/>
<circle cx="480.4" cy="330.8" r="1.75"/>
<circle cx="477.7" cy="332.53" r="1.75"/>
<circle cx="481.9" cy="332.53" r="1.75"/>
<circle cx="478.9" cy="334.7" r="1.75"/>
<circle cx="482.7" cy="336" r="1.75"/>
<circle cx="479.9" cy="337.74" r="1.75"/>
<circle cx="477.4" cy="338.61" r="1.75"/>
<circle cx="482.9" cy="340.34" r="1.75"/>
<circle cx="478.4" cy="342.07" r="1.75"/>
<circle cx="481.4" cy="342.94" r="1.75"/>
<circle cx="476.9" cy="343.81" r="1.75"/>
<circle cx="482.4" cy="344.68" r="1.75"/>
<circle cx="480.4" cy="345.55" r="1.75"/>
</g>
<line x1="421.7" y1="312.2" x2="421.7" y2="446.3" stroke="#231f20" stroke-width="1"/>
<line x1="421.2" y1="445.8" x2="501.8" y2="445.8" stroke="#231f20" stroke-width="1"/>
<line x1="418.9" y1="437.5" x2="421.7" y2="437.5" stroke="#231f20" stroke-width="0.9"/>
<text x="0" y="0" font-size="8" text-anchor="end" fill="#231f20" transform="translate(416.1 440.1) scale(0.93 1)">0.2</text>
<line x1="418.9" y1="420.15" x2="421.7" y2="420.15" stroke="#231f20" stroke-width="0.9"/>
<text x="0" y="0" font-size="8" text-anchor="end" fill="#231f20" transform="translate(416.1 422.75) scale(0.93 1)">0.4</text>
<line x1="418.9" y1="402.8" x2="421.7" y2="402.8" stroke="#231f20" stroke-width="0.9"/>
<text x="0" y="0" font-size="8" text-anchor="end" fill="#231f20" transform="translate(416.1 405.4) scale(0.93 1)">0.6</text>
<line x1="418.9" y1="385.45" x2="421.7" y2="385.45" stroke="#231f20" stroke-width="0.9"/>
<text x="0" y="0" font-size="8" text-anchor="end" fill="#231f20" transform="translate(416.1 388.05) scale(0.93 1)">0.8</text>
<line x1="418.9" y1="368.1" x2="421.7" y2="368.1" stroke="#231f20" stroke-width="0.9"/>
<text x="0" y="0" font-size="8" text-anchor="end" fill="#231f20" transform="translate(416.1 370.7) scale(0.93 1)">1.0</text>
<line x1="418.9" y1="350.75" x2="421.7" y2="350.75" stroke="#231f20" stroke-width="0.9"/>
<text x="0" y="0" font-size="8" text-anchor="end" fill="#231f20" transform="translate(416.1 353.35) scale(0.93 1)">1.2</text>
<line x1="418.9" y1="333.4" x2="421.7" y2="333.4" stroke="#231f20" stroke-width="0.9"/>
<text x="0" y="0" font-size="8" text-anchor="end" fill="#231f20" transform="translate(416.1 336) scale(0.93 1)">1.4</text>
<line x1="418.9" y1="316.05" x2="421.7" y2="316.05" stroke="#231f20" stroke-width="0.9"/>
<text x="0" y="0" font-size="8" text-anchor="end" fill="#231f20" transform="translate(416.1 318.65) scale(0.93 1)">1.6</text>
<text x="443.8" y="455" font-size="7.5" text-anchor="middle" fill="#231f20">No CH</text>
<text x="480" y="455" font-size="7.5" text-anchor="middle" fill="#231f20">CH</text>
<text x="0" y="0" font-size="8.2" text-anchor="middle" fill="#231f20" stroke="#231f20" stroke-width="0.22" transform="translate(464.6 467.6) scale(0.7242 1)">Monocytosis</text>
<text x="0" y="0" font-size="8.2" text-anchor="middle" fill="#231f20" stroke="#231f20" stroke-width="0.22" transform="translate(399.5 372.4) rotate(-90) scale(0.8007 1)">Absolute monocyte count (&#215;10<tspan font-size="5.33" dy="-3">9</tspan><tspan dy="3">/L)</tspan></text>
<text x="5.6" y="510.8" font-size="11" text-anchor="start" fill="#000" font-weight="bold">G</text>
<rect x="60" y="506.55" width="26.9" height="32.25" fill="#e6e6e6"/>
<rect x="60" y="538.8" width="26.9" height="87.4" fill="#98d59c"/>
<rect x="60" y="626.2" width="26.9" height="1.8" fill="#3aae4a"/>
<rect x="107.2" y="506.55" width="26.8" height="47.15" fill="#e6e6e6"/>
<rect x="107.2" y="553.7" width="26.8" height="52.3" fill="#98d59c"/>
<rect x="107.2" y="606" width="26.8" height="22" fill="#3aae4a"/>
<text x="73.5" y="515" font-size="7.5" text-anchor="middle" fill="#231f20">134</text>
<text x="73.5" y="548.7" font-size="7.5" text-anchor="middle" fill="#231f20">358</text>
<text x="120.6" y="515" font-size="7.5" text-anchor="middle" fill="#231f20">65</text>
<text x="120.6" y="564.1" font-size="7.5" text-anchor="middle" fill="#231f20">72</text>
<text x="120.6" y="617.7" font-size="7.5" text-anchor="middle" fill="#231f20">30</text>
<line x1="49.6" y1="502.7" x2="49.6" y2="628.5" stroke="#231f20" stroke-width="1"/>
<line x1="49.1" y1="628" x2="143.8" y2="628" stroke="#231f20" stroke-width="1"/>
<line x1="46.8" y1="603.71" x2="49.6" y2="603.71" stroke="#231f20" stroke-width="0.9"/>
<text x="0" y="0" font-size="8" text-anchor="end" fill="#231f20" transform="translate(43.5 606.31) scale(0.93 1)">20</text>
<line x1="46.8" y1="579.42" x2="49.6" y2="579.42" stroke="#231f20" stroke-width="0.9"/>
<text x="0" y="0" font-size="8" text-anchor="end" fill="#231f20" transform="translate(43.5 582.02) scale(0.93 1)">40</text>
<line x1="46.8" y1="555.13" x2="49.6" y2="555.13" stroke="#231f20" stroke-width="0.9"/>
<text x="0" y="0" font-size="8" text-anchor="end" fill="#231f20" transform="translate(43.5 557.73) scale(0.93 1)">60</text>
<line x1="46.8" y1="530.84" x2="49.6" y2="530.84" stroke="#231f20" stroke-width="0.9"/>
<text x="0" y="0" font-size="8" text-anchor="end" fill="#231f20" transform="translate(43.5 533.44) scale(0.93 1)">80</text>
<line x1="46.8" y1="506.55" x2="49.6" y2="506.55" stroke="#231f20" stroke-width="0.9"/>
<text x="0" y="0" font-size="8" text-anchor="end" fill="#231f20" transform="translate(43.5 509.15) scale(0.93 1)">100</text>
<text x="71.3" y="637" font-size="7.5" text-anchor="middle" fill="#231f20">Controls</text>
<text x="115" y="637" font-size="7.5" text-anchor="middle" fill="#231f20">Monocytosis</text>
<text x="0" y="0" font-size="8.2" text-anchor="middle" fill="#231f20" stroke="#231f20" stroke-width="0.22" transform="translate(27.4 565.8) rotate(-90) scale(0.7928 1)">Proportion of individuals (%)</text>
<rect x="53" y="643" width="6.8" height="7.2" fill="#3aae4a"/>
<text x="63.7" y="649.2" font-size="7.1" text-anchor="start" fill="#231f20">Monocytosis at FU</text>
<rect x="53" y="653.5" width="6.8" height="7.1" fill="#98d59c"/>
<text x="63.7" y="659.6" font-size="7.1" text-anchor="start" fill="#231f20">No monocytosis at FU</text>
<rect x="53" y="664" width="6.8" height="6.8" fill="#e6e6e6"/>
<text x="63.7" y="670" font-size="7.1" text-anchor="start" fill="#231f20">Lost to FU</text>
<text x="154.5" y="510.6" font-size="11" text-anchor="start" fill="#000" font-weight="bold">H</text>
<rect x="191.5" y="520.6" width="78.81" height="11" fill="#c8102e"/>
<rect x="191.5" y="531.6" width="63.7" height="11" fill="#17508a"/>
<rect x="191.5" y="557.7" width="98.7" height="11" fill="#c8102e"/>
<rect x="191.5" y="568.7" width="73.28" height="11" fill="#17508a"/>
<rect x="191.5" y="594.9" width="116.57" height="11" fill="#c8102e"/>
<rect x="191.5" y="605.9" width="50.62" height="11" fill="#17508a"/>
<line x1="191.1" y1="509.4" x2="191.1" y2="628.4" stroke="#231f20" stroke-width="1"/>
<line x1="190.6" y1="627.9" x2="330" y2="627.9" stroke="#231f20" stroke-width="1"/>
<line x1="209.52" y1="627.9" x2="209.52" y2="630.8" stroke="#231f20" stroke-width="0.9"/>
<text x="209.52" y="639.7" font-size="7.5" text-anchor="middle" fill="#231f20">10</text>
<line x1="227.94" y1="627.9" x2="227.94" y2="630.8" stroke="#231f20" stroke-width="0.9"/>
<text x="227.94" y="639.7" font-size="7.5" text-anchor="middle" fill="#231f20">20</text>
<line x1="246.36" y1="627.9" x2="246.36" y2="630.8" stroke="#231f20" stroke-width="0.9"/>
<text x="246.36" y="639.7" font-size="7.5" text-anchor="middle" fill="#231f20">30</text>
<line x1="264.78" y1="627.9" x2="264.78" y2="630.8" stroke="#231f20" stroke-width="0.9"/>
<text x="264.78" y="639.7" font-size="7.5" text-anchor="middle" fill="#231f20">40</text>
<line x1="283.2" y1="627.9" x2="283.2" y2="630.8" stroke="#231f20" stroke-width="0.9"/>
<text x="283.2" y="639.7" font-size="7.5" text-anchor="middle" fill="#231f20">50</text>
<line x1="301.62" y1="627.9" x2="301.62" y2="630.8" stroke="#231f20" stroke-width="0.9"/>
<text x="301.62" y="639.7" font-size="7.5" text-anchor="middle" fill="#231f20">60</text>
<line x1="320.04" y1="627.9" x2="320.04" y2="630.8" stroke="#231f20" stroke-width="0.9"/>
<text x="320.04" y="639.7" font-size="7.5" text-anchor="middle" fill="#231f20">70</text>
<text x="0" y="0" font-size="8.2" text-anchor="middle" fill="#231f20" stroke="#231f20" stroke-width="0.22" transform="translate(260 652.8) scale(0.7760 1)">Clonal hematopoiesis (%)</text>
<text x="188" y="533" font-size="7.5" text-anchor="end" fill="#231f20">Corrected</text>
<text x="188" y="569.4" font-size="7.5" text-anchor="end" fill="#231f20">Lost to FU</text>
<text x="188" y="607" font-size="7.5" text-anchor="end" fill="#231f20">Stable</text>
<rect x="197.2" y="506.5" width="7" height="7.1" fill="#17508a"/>
<text x="207.5" y="512.9" font-size="7.3" text-anchor="start" fill="#231f20">Controls</text>
<rect x="240" y="506.5" width="6.9" height="7.1" fill="#c8102e"/>
<text x="250.4" y="512.9" font-size="7.3" text-anchor="start" fill="#231f20">Monocytosis</text>
<text x="342.4" y="510.4" font-size="11" text-anchor="start" fill="#000" font-weight="bold">I</text>
<g stroke="#3aae4a" stroke-width="0.55" stroke-opacity="0.4">
<line x1="395.2" y1="532.11" x2="421.46" y2="570.94"/>
<line x1="393.62" y1="533.55" x2="419.96" y2="561.06"/>
<line x1="393.93" y1="535.47" x2="419.46" y2="548.45"/>
<line x1="394.86" y1="544.6" x2="419.16" y2="572.61"/>
<line x1="394.07" y1="546.53" x2="419.29" y2="551.33"/>
<line x1="396.11" y1="547.97" x2="420.4" y2="552.71"/>
<line x1="395.78" y1="549.41" x2="421.61" y2="572.11"/>
<line x1="392.7" y1="566.9" x2="419.7" y2="556.64"/>
<line x1="396.12" y1="570.4" x2="421.1" y2="559.05"/>
<line x1="392.09" y1="560.3" x2="417.51" y2="562.33"/>
<line x1="393.61" y1="571.98" x2="417.26" y2="563.86"/>
<line x1="392.6" y1="562.62" x2="417.27" y2="554.93"/>
<line x1="394.75" y1="566.06" x2="420.82" y2="550.37"/>
<line x1="395.89" y1="572.27" x2="417.67" y2="559.93"/>
<line x1="394.98" y1="563.2" x2="420.2" y2="546.53"/>
<line x1="392.11" y1="572.68" x2="421.31" y2="572.18"/>
<line x1="396.24" y1="564.69" x2="418" y2="569.08"/>
<line x1="396.16" y1="572.03" x2="418.89" y2="558.01"/>
<line x1="393.84" y1="571.61" x2="421.85" y2="564.4"/>
<line x1="395.56" y1="564.87" x2="417.71" y2="567.1"/>
<line x1="393.56" y1="556.75" x2="419.48" y2="561.32"/>
<line x1="393.1" y1="570.94" x2="417.88" y2="561.86"/>
<line x1="392.99" y1="568.93" x2="420.51" y2="557.43"/>
<line x1="391.5" y1="560.78" x2="419.67" y2="547.01"/>
<line x1="393.6" y1="554.31" x2="416.99" y2="563.1"/>
<line x1="393.06" y1="561.79" x2="420.02" y2="557.27"/>
<line x1="393.96" y1="565.43" x2="417.22" y2="559.31"/>
<line x1="396.33" y1="553.73" x2="420.84" y2="566.8"/>
<line x1="396.26" y1="572.5" x2="417.42" y2="565.57"/>
<line x1="392.73" y1="556.11" x2="417.1" y2="547.97"/>
<line x1="395.29" y1="567.59" x2="418.25" y2="567.35"/>
<line x1="392.05" y1="570.53" x2="419.01" y2="549.41"/>
<line x1="395.96" y1="571.06" x2="420.99" y2="564.6"/>
<line x1="392.69" y1="567.21" x2="417.65" y2="570.23"/>
<line x1="396" y1="556.97" x2="419.75" y2="561.29"/>
<line x1="394.9" y1="569.79" x2="417.35" y2="568.28"/>
<line x1="391.69" y1="561.7" x2="420.34" y2="558.66"/>
</g>
<g stroke="#90d494" stroke-width="0.55" stroke-opacity="0.5">
<line x1="445.03" y1="528.26" x2="469.16" y2="574.47"/>
<line x1="447.59" y1="530.19" x2="471.97" y2="582.13"/>
<line x1="446.91" y1="533.07" x2="469.22" y2="579.98"/>
<line x1="447.18" y1="535.95" x2="469.13" y2="611.89"/>
<line x1="447.21" y1="537.88" x2="471.07" y2="575.36"/>
<line x1="444.6" y1="541.72" x2="471.57" y2="609"/>
<line x1="447.53" y1="545.57" x2="470.14" y2="585.38"/>
<line x1="443.55" y1="547.49" x2="471.43" y2="585.23"/>
<line x1="444.09" y1="549.41" x2="469.35" y2="599.04"/>
<line x1="443.71" y1="551.33" x2="469.05" y2="599.26"/>
<line x1="443.91" y1="553.25" x2="470.36" y2="599.15"/>
<line x1="444.43" y1="555.18" x2="472.6" y2="592.01"/>
<line x1="444.35" y1="561.1" x2="471.3" y2="582.75"/>
<line x1="443.79" y1="566.76" x2="470.54" y2="608.48"/>
<line x1="442.99" y1="571.2" x2="470.05" y2="577.46"/>
<line x1="442.98" y1="568.04" x2="472.47" y2="604.11"/>
<line x1="445.66" y1="569.7" x2="469.75" y2="581"/>
<line x1="445.27" y1="571.6" x2="473.47" y2="597.27"/>
<line x1="443.43" y1="567.65" x2="472.89" y2="594.23"/>
<line x1="445.06" y1="566.04" x2="471.28" y2="580.29"/>
<line x1="447.07" y1="563.93" x2="470.77" y2="594.18"/>
<line x1="445.43" y1="560.17" x2="472.24" y2="579.57"/>
<line x1="447.81" y1="564.25" x2="470.51" y2="593.68"/>
<line x1="447.06" y1="568.32" x2="472.33" y2="600.59"/>
<line x1="446.08" y1="570.33" x2="470.82" y2="587.44"/>
<line x1="444.64" y1="572.32" x2="469.07" y2="563.83"/>
<line x1="443.55" y1="571.4" x2="469.15" y2="559.02"/>
<line x1="446.6" y1="564.58" x2="470.08" y2="585.05"/>
<line x1="443.72" y1="573.28" x2="469.22" y2="599.71"/>
<line x1="447.11" y1="562.26" x2="473.15" y2="621.5"/>
<line x1="446.25" y1="570.99" x2="470.21" y2="588.16"/>
<line x1="444.11" y1="569.65" x2="470.27" y2="579.55"/>
<line x1="445.2" y1="571.48" x2="469.59" y2="587.8"/>
<line x1="445.13" y1="566.25" x2="470.12" y2="586.06"/>
<line x1="447.71" y1="565.23" x2="473.66" y2="598.21"/>
<line x1="445.64" y1="569.15" x2="470.02" y2="591.28"/>
<line x1="447.73" y1="571.75" x2="470.35" y2="597.81"/>
<line x1="444.68" y1="561.88" x2="468.81" y2="590.53"/>
<line x1="444.81" y1="560.65" x2="471.17" y2="591.78"/>
<line x1="445.41" y1="564.63" x2="469.8" y2="580.5"/>
<line x1="445.42" y1="563.48" x2="468.82" y2="594.3"/>
<line x1="444.22" y1="567.3" x2="469.25" y2="599.69"/>
<line x1="444.9" y1="561.72" x2="469.01" y2="592.35"/>
<line x1="443.01" y1="560.63" x2="470.32" y2="583.37"/>
<line x1="444.06" y1="564.28" x2="471.73" y2="581.69"/>
<line x1="445.55" y1="565.91" x2="472.55" y2="587.45"/>
<line x1="446.19" y1="568.08" x2="472.38" y2="611.89"/>
<line x1="447.3" y1="568.14" x2="470.75" y2="578.93"/>
<line x1="444.53" y1="566.96" x2="473.72" y2="602.7"/>
<line x1="443.65" y1="568.05" x2="472.42" y2="586.88"/>
<line x1="446.12" y1="570.88" x2="469.02" y2="601.37"/>
<line x1="447.08" y1="560.19" x2="473.26" y2="598.11"/>
<line x1="446.04" y1="567.51" x2="472.47" y2="578.42"/>
<line x1="446.96" y1="571.96" x2="469.5" y2="574.4"/>
<line x1="445.52" y1="565.36" x2="471.32" y2="592.8"/>
<line x1="447.07" y1="572.06" x2="472.82" y2="588.44"/>
<line x1="447.03" y1="565.81" x2="471.72" y2="600.07"/>
<line x1="447.36" y1="566.22" x2="472.21" y2="597.84"/>
<line x1="446.37" y1="560.67" x2="469.95" y2="588.86"/>
<line x1="443.06" y1="565.18" x2="469.47" y2="574.4"/>
<line x1="444.7" y1="572.49" x2="469.32" y2="576.77"/>
<line x1="447.08" y1="570.64" x2="471.59" y2="590.89"/>
<line x1="446.04" y1="568.38" x2="471.93" y2="588.65"/>
<line x1="446.3" y1="564.9" x2="471.25" y2="588.7"/>
<line x1="442.92" y1="560.58" x2="472.79" y2="582.44"/>
<line x1="446.64" y1="565.34" x2="471.31" y2="586.17"/>
<line x1="445.58" y1="567.06" x2="472.1" y2="582.2"/>
<line x1="443.23" y1="571.89" x2="472.48" y2="618.62"/>
<line x1="444.16" y1="566.87" x2="469.17" y2="615.73"/>
<line x1="444.23" y1="560.28" x2="472.45" y2="594.32"/>
<line x1="443.93" y1="566.98" x2="472.5" y2="602.39"/>
<line x1="447.78" y1="569.24" x2="471.27" y2="593.24"/>
<line x1="444.81" y1="571.5" x2="471.2" y2="595.65"/>
<line x1="446.32" y1="563.35" x2="472.63" y2="574.4"/>
</g>
<rect x="388.7" y="553.8" width="10.1" height="14.5" fill="#8fd098" fill-opacity="0.75"/>
<rect x="416" y="552.9" width="8.7" height="13.4" fill="#8fd098" fill-opacity="0.75"/>
<rect x="440.4" y="561.2" width="10.6" height="13.4" fill="#b6e2b8"/>
<rect x="467.5" y="575" width="8" height="27" fill="#c5e8c6"/>
<rect x="492.1" y="557.2" width="9.7" height="18.2" rx="3" fill="#c3c3c7"/>
<line x1="393.9" y1="532" x2="393.9" y2="553.8" stroke="#111" stroke-width="1"/>
<line x1="419.4" y1="545.5" x2="419.4" y2="552.9" stroke="#111" stroke-width="1"/>
<line x1="445.4" y1="545" x2="445.4" y2="561.2" stroke="#888" stroke-width="0.8" stroke-dasharray="1 0.8"/>
<line x1="471.5" y1="558.1" x2="471.5" y2="573.5" stroke="#111" stroke-width="1"/>
<line x1="497.2" y1="545.7" x2="497.2" y2="558.1" stroke="#111" stroke-width="1"/>
<g fill="none" stroke="#3aae4a" stroke-width="0.75" stroke-opacity="1">
<circle cx="391.36" cy="532.11" r="1.6"/>
<circle cx="391.88" cy="533.55" r="1.6"/>
<circle cx="393.34" cy="535.47" r="1.6"/>
<circle cx="394.89" cy="544.6" r="1.6"/>
<circle cx="391.92" cy="546.53" r="1.6"/>
<circle cx="391.74" cy="547.97" r="1.6"/>
<circle cx="392.39" cy="549.41" r="1.6"/>
<circle cx="395.44" cy="566.9" r="1.6"/>
<circle cx="391.81" cy="570.4" r="1.6"/>
<circle cx="395.34" cy="560.3" r="1.6"/>
<circle cx="394.85" cy="571.98" r="1.6"/>
<circle cx="391.72" cy="562.62" r="1.6"/>
<circle cx="394.11" cy="566.06" r="1.6"/>
<circle cx="393.59" cy="572.27" r="1.6"/>
<circle cx="393.38" cy="563.2" r="1.6"/>
<circle cx="396.81" cy="572.68" r="1.6"/>
<circle cx="391.46" cy="564.69" r="1.6"/>
<circle cx="391.08" cy="572.03" r="1.6"/>
<circle cx="396.49" cy="571.61" r="1.6"/>
<circle cx="393.32" cy="564.87" r="1.6"/>
<circle cx="392.12" cy="556.75" r="1.6"/>
<circle cx="392.9" cy="570.94" r="1.6"/>
<circle cx="393.1" cy="568.93" r="1.6"/>
<circle cx="396.62" cy="560.78" r="1.6"/>
<circle cx="392.21" cy="554.31" r="1.6"/>
<circle cx="392.2" cy="561.79" r="1.6"/>
<circle cx="394.41" cy="565.43" r="1.6"/>
<circle cx="394.18" cy="553.73" r="1.6"/>
<circle cx="396.56" cy="572.5" r="1.6"/>
<circle cx="395.9" cy="556.11" r="1.6"/>
<circle cx="393.04" cy="567.59" r="1.6"/>
<circle cx="392.15" cy="570.53" r="1.6"/>
<circle cx="395.89" cy="571.06" r="1.6"/>
<circle cx="396.82" cy="567.21" r="1.6"/>
<circle cx="391.12" cy="556.97" r="1.6"/>
<circle cx="395.3" cy="569.79" r="1.6"/>
<circle cx="396.11" cy="561.7" r="1.6"/>
</g>
<g fill="none" stroke="#3aae4a" stroke-width="0.75" stroke-opacity="1">
<circle cx="416.9" cy="570.94" r="1.6"/>
<circle cx="417.69" cy="561.06" r="1.6"/>
<circle cx="418.3" cy="548.45" r="1.6"/>
<circle cx="421.75" cy="572.61" r="1.6"/>
<circle cx="419.38" cy="551.33" r="1.6"/>
<circle cx="420.67" cy="552.71" r="1.6"/>
<circle cx="417.05" cy="572.11" r="1.6"/>
<circle cx="419.45" cy="556.64" r="1.6"/>
<circle cx="421.44" cy="559.05" r="1.6"/>
<circle cx="419.54" cy="562.33" r="1.6"/>
<circle cx="422.07" cy="563.86" r="1.6"/>
<circle cx="421.64" cy="554.93" r="1.6"/>
<circle cx="418.67" cy="550.37" r="1.6"/>
<circle cx="416.42" cy="559.93" r="1.6"/>
<circle cx="420.8" cy="546.53" r="1.6"/>
<circle cx="417.2" cy="572.18" r="1.6"/>
<circle cx="416.48" cy="569.08" r="1.6"/>
<circle cx="420.77" cy="558.01" r="1.6"/>
<circle cx="421.46" cy="564.4" r="1.6"/>
<circle cx="421.41" cy="567.1" r="1.6"/>
<circle cx="422.12" cy="561.32" r="1.6"/>
<circle cx="417.61" cy="561.86" r="1.6"/>
<circle cx="416.92" cy="557.43" r="1.6"/>
<circle cx="417.31" cy="547.01" r="1.6"/>
<circle cx="422.27" cy="563.1" r="1.6"/>
<circle cx="417.1" cy="557.27" r="1.6"/>
<circle cx="417.37" cy="559.31" r="1.6"/>
<circle cx="416.53" cy="566.8" r="1.6"/>
<circle cx="416.7" cy="565.57" r="1.6"/>
<circle cx="416.83" cy="547.97" r="1.6"/>
<circle cx="418.52" cy="567.35" r="1.6"/>
<circle cx="417.5" cy="549.41" r="1.6"/>
<circle cx="418.26" cy="564.6" r="1.6"/>
<circle cx="421.94" cy="570.23" r="1.6"/>
<circle cx="417.41" cy="561.29" r="1.6"/>
<circle cx="421.27" cy="568.28" r="1.6"/>
<circle cx="420.82" cy="558.66" r="1.6"/>
</g>
<g fill="none" stroke="#98d59c" stroke-width="0.75" stroke-opacity="1">
<circle cx="445.77" cy="528.26" r="1.6"/>
<circle cx="446.09" cy="530.19" r="1.6"/>
<circle cx="447.05" cy="533.07" r="1.6"/>
<circle cx="444.24" cy="535.95" r="1.6"/>
<circle cx="446.19" cy="537.88" r="1.6"/>
<circle cx="447.47" cy="541.72" r="1.6"/>
<circle cx="447.69" cy="545.57" r="1.6"/>
<circle cx="443.6" cy="547.49" r="1.6"/>
<circle cx="446.29" cy="549.41" r="1.6"/>
<circle cx="446.1" cy="551.33" r="1.6"/>
<circle cx="445.42" cy="553.25" r="1.6"/>
<circle cx="448.27" cy="555.18" r="1.6"/>
<circle cx="445.58" cy="561.1" r="1.6"/>
<circle cx="445.05" cy="566.76" r="1.6"/>
<circle cx="448.22" cy="571.2" r="1.6"/>
<circle cx="446.27" cy="568.04" r="1.6"/>
<circle cx="444.13" cy="569.7" r="1.6"/>
<circle cx="444.19" cy="571.6" r="1.6"/>
<circle cx="445.38" cy="567.65" r="1.6"/>
<circle cx="442.54" cy="566.04" r="1.6"/>
<circle cx="446.09" cy="563.93" r="1.6"/>
<circle cx="446.89" cy="560.17" r="1.6"/>
<circle cx="444.93" cy="564.25" r="1.6"/>
<circle cx="447.62" cy="568.32" r="1.6"/>
<circle cx="448.13" cy="570.33" r="1.6"/>
<circle cx="445.75" cy="572.32" r="1.6"/>
<circle cx="446.55" cy="571.4" r="1.6"/>
<circle cx="442.95" cy="564.58" r="1.6"/>
<circle cx="442.6" cy="573.28" r="1.6"/>
<circle cx="448.45" cy="562.26" r="1.6"/>
<circle cx="444.03" cy="570.99" r="1.6"/>
<circle cx="443.57" cy="569.65" r="1.6"/>
<circle cx="447.92" cy="571.48" r="1.6"/>
<circle cx="447" cy="566.25" r="1.6"/>
<circle cx="442.99" cy="565.23" r="1.6"/>
<circle cx="444.26" cy="569.15" r="1.6"/>
<circle cx="443.77" cy="571.75" r="1.6"/>
<circle cx="443.96" cy="561.88" r="1.6"/>
<circle cx="442.28" cy="560.65" r="1.6"/>
<circle cx="445.56" cy="564.63" r="1.6"/>
<circle cx="444.15" cy="563.48" r="1.6"/>
<circle cx="444.72" cy="567.3" r="1.6"/>
<circle cx="443.4" cy="561.72" r="1.6"/>
<circle cx="442.93" cy="560.63" r="1.6"/>
<circle cx="442.42" cy="564.28" r="1.6"/>
<circle cx="447.79" cy="565.91" r="1.6"/>
<circle cx="446.98" cy="568.08" r="1.6"/>
<circle cx="445.78" cy="568.14" r="1.6"/>
<circle cx="442.99" cy="566.96" r="1.6"/>
<circle cx="443.15" cy="568.05" r="1.6"/>
<circle cx="442.98" cy="570.88" r="1.6"/>
<circle cx="444.24" cy="560.19" r="1.6"/>
<circle cx="442.57" cy="567.51" r="1.6"/>
<circle cx="443.97" cy="571.96" r="1.6"/>
<circle cx="443.5" cy="565.36" r="1.6"/>
<circle cx="443.45" cy="572.06" r="1.6"/>
<circle cx="446.38" cy="565.81" r="1.6"/>
<circle cx="445.13" cy="566.22" r="1.6"/>
<circle cx="445.23" cy="560.67" r="1.6"/>
<circle cx="444.49" cy="565.18" r="1.6"/>
<circle cx="445.65" cy="572.49" r="1.6"/>
<circle cx="447.22" cy="570.64" r="1.6"/>
<circle cx="444.17" cy="568.38" r="1.6"/>
<circle cx="442.65" cy="564.9" r="1.6"/>
<circle cx="445.28" cy="560.58" r="1.6"/>
<circle cx="444.63" cy="565.34" r="1.6"/>
<circle cx="447.2" cy="567.06" r="1.6"/>
<circle cx="442.93" cy="571.89" r="1.6"/>
<circle cx="447.79" cy="566.87" r="1.6"/>
<circle cx="442.33" cy="560.28" r="1.6"/>
<circle cx="445.67" cy="566.98" r="1.6"/>
<circle cx="445.04" cy="569.24" r="1.6"/>
<circle cx="444.23" cy="571.5" r="1.6"/>
<circle cx="447.88" cy="563.35" r="1.6"/>
</g>
<g fill="none" stroke="#98d59c" stroke-width="0.75" stroke-opacity="1">
<circle cx="471.56" cy="574.47" r="1.6"/>
<circle cx="471.9" cy="582.13" r="1.6"/>
<circle cx="473.36" cy="579.98" r="1.6"/>
<circle cx="473.54" cy="611.89" r="1.6"/>
<circle cx="473.5" cy="575.36" r="1.6"/>
<circle cx="470.65" cy="609" r="1.6"/>
<circle cx="474.05" cy="585.38" r="1.6"/>
<circle cx="470.95" cy="585.23" r="1.6"/>
<circle cx="470.25" cy="599.04" r="1.6"/>
<circle cx="469" cy="599.26" r="1.6"/>
<circle cx="471.47" cy="599.15" r="1.6"/>
<circle cx="469.33" cy="592.01" r="1.6"/>
<circle cx="470.08" cy="582.75" r="1.6"/>
<circle cx="472.02" cy="608.48" r="1.6"/>
<circle cx="472.95" cy="577.46" r="1.6"/>
<circle cx="472.86" cy="604.11" r="1.6"/>
<circle cx="469.02" cy="581" r="1.6"/>
<circle cx="468.78" cy="597.27" r="1.6"/>
<circle cx="469.93" cy="594.23" r="1.6"/>
<circle cx="471.7" cy="580.29" r="1.6"/>
<circle cx="473.43" cy="594.18" r="1.6"/>
<circle cx="473.11" cy="579.57" r="1.6"/>
<circle cx="474" cy="593.68" r="1.6"/>
<circle cx="471.92" cy="600.59" r="1.6"/>
<circle cx="472.21" cy="587.44" r="1.6"/>
<circle cx="470.4" cy="563.83" r="1.6"/>
<circle cx="470.51" cy="559.02" r="1.6"/>
<circle cx="469.67" cy="585.05" r="1.6"/>
<circle cx="471.61" cy="599.71" r="1.6"/>
<circle cx="471.91" cy="621.5" r="1.6"/>
<circle cx="471.84" cy="588.16" r="1.6"/>
<circle cx="470.78" cy="579.55" r="1.6"/>
<circle cx="470.95" cy="587.8" r="1.6"/>
<circle cx="469.91" cy="586.06" r="1.6"/>
<circle cx="473.27" cy="598.21" r="1.6"/>
<circle cx="471.89" cy="591.28" r="1.6"/>
<circle cx="472.88" cy="597.81" r="1.6"/>
<circle cx="473.27" cy="590.53" r="1.6"/>
<circle cx="470.09" cy="591.78" r="1.6"/>
<circle cx="469.2" cy="580.5" r="1.6"/>
<circle cx="470.1" cy="594.3" r="1.6"/>
<circle cx="473.81" cy="599.69" r="1.6"/>
<circle cx="473.15" cy="592.35" r="1.6"/>
<circle cx="470.85" cy="583.37" r="1.6"/>
<circle cx="473" cy="581.69" r="1.6"/>
<circle cx="470.46" cy="587.45" r="1.6"/>
<circle cx="473.36" cy="611.89" r="1.6"/>
<circle cx="469.08" cy="578.93" r="1.6"/>
<circle cx="472.8" cy="602.7" r="1.6"/>
<circle cx="474.25" cy="586.88" r="1.6"/>
<circle cx="470.93" cy="601.37" r="1.6"/>
<circle cx="471.17" cy="598.11" r="1.6"/>
<circle cx="469.32" cy="578.42" r="1.6"/>
<circle cx="470.18" cy="574.4" r="1.6"/>
<circle cx="469.8" cy="592.8" r="1.6"/>
<circle cx="470.18" cy="588.44" r="1.6"/>
<circle cx="468.85" cy="600.07" r="1.6"/>
<circle cx="470.21" cy="597.84" r="1.6"/>
<circle cx="469.04" cy="588.86" r="1.6"/>
<circle cx="471.53" cy="574.4" r="1.6"/>
<circle cx="470.88" cy="576.77" r="1.6"/>
<circle cx="469.77" cy="590.89" r="1.6"/>
<circle cx="474.05" cy="588.65" r="1.6"/>
<circle cx="470.26" cy="588.7" r="1.6"/>
<circle cx="471.58" cy="582.44" r="1.6"/>
<circle cx="473.74" cy="586.17" r="1.6"/>
<circle cx="472.9" cy="582.2" r="1.6"/>
<circle cx="473.68" cy="618.62" r="1.6"/>
<circle cx="471.96" cy="615.73" r="1.6"/>
<circle cx="473.62" cy="594.32" r="1.6"/>
<circle cx="468.86" cy="602.39" r="1.6"/>
<circle cx="472.8" cy="593.24" r="1.6"/>
<circle cx="470.42" cy="595.65" r="1.6"/>
<circle cx="470.43" cy="574.4" r="1.6"/>
</g>
<g fill="none" stroke="#bdbdc1" stroke-width="0.75" stroke-opacity="1">
<circle cx="497.51" cy="563.36" r="1.6"/>
<circle cx="498.8" cy="562.94" r="1.6"/>
<circle cx="498.77" cy="572.17" r="1.6"/>
<circle cx="499.52" cy="571.03" r="1.6"/>
<circle cx="495.83" cy="569.29" r="1.6"/>
<circle cx="500.15" cy="561.3" r="1.6"/>
<circle cx="497.63" cy="568.47" r="1.6"/>
<circle cx="498.78" cy="564.16" r="1.6"/>
<circle cx="498.81" cy="573.24" r="1.6"/>
<circle cx="499.92" cy="572.45" r="1.6"/>
<circle cx="495.76" cy="569.05" r="1.6"/>
<circle cx="496.35" cy="562.46" r="1.6"/>
<circle cx="498.58" cy="562.13" r="1.6"/>
<circle cx="497.74" cy="562.4" r="1.6"/>
<circle cx="498.8" cy="568.69" r="1.6"/>
<circle cx="496.33" cy="565" r="1.6"/>
<circle cx="500.11" cy="565.85" r="1.6"/>
<circle cx="494.07" cy="565.82" r="1.6"/>
<circle cx="498.61" cy="571.5" r="1.6"/>
<circle cx="496.41" cy="558.84" r="1.6"/>
<circle cx="494.17" cy="570.18" r="1.6"/>
<circle cx="498.29" cy="557.46" r="1.6"/>
<circle cx="494.39" cy="558.14" r="1.6"/>
<circle cx="495.52" cy="573.15" r="1.6"/>
<circle cx="496.08" cy="565.94" r="1.6"/>
<circle cx="495.03" cy="560.04" r="1.6"/>
<circle cx="495.1" cy="557.62" r="1.6"/>
<circle cx="494.47" cy="566.1" r="1.6"/>
<circle cx="499.41" cy="569.05" r="1.6"/>
<circle cx="494.54" cy="570.01" r="1.6"/>
<circle cx="495.08" cy="557.99" r="1.6"/>
<circle cx="494.5" cy="570" r="1.6"/>
<circle cx="499.81" cy="563.94" r="1.6"/>
<circle cx="497.49" cy="571.12" r="1.6"/>
<circle cx="499.26" cy="564.88" r="1.6"/>
<circle cx="500.15" cy="557.87" r="1.6"/>
<circle cx="497.17" cy="571.27" r="1.6"/>
<circle cx="496.54" cy="560.04" r="1.6"/>
<circle cx="496.49" cy="565.13" r="1.6"/>
<circle cx="495.72" cy="558.95" r="1.6"/>
</g>
<g fill="#fff" stroke="#a5a5a9" stroke-width="0.7">
<circle cx="495.8" cy="524.4" r="1.65"/>
<circle cx="495.8" cy="526.6" r="1.65"/>
<circle cx="497" cy="529.3" r="1.65"/>
<circle cx="494.8" cy="532.4" r="1.65"/>
<circle cx="498.7" cy="532.4" r="1.65"/>
<circle cx="497" cy="535.1" r="1.65"/>
<circle cx="497.5" cy="541.6" r="1.65"/>
<circle cx="495.7" cy="546" r="1.65"/>
<circle cx="499.8" cy="546" r="1.65"/>
<circle cx="494.9" cy="549.3" r="1.65"/>
<circle cx="500" cy="549.3" r="1.65"/>
<circle cx="497.2" cy="551.5" r="1.65"/>
<circle cx="496.2" cy="553.6" r="1.65"/>
<circle cx="500.2" cy="553.8" r="1.65"/>
</g>
<line x1="497.2" y1="545.7" x2="497.2" y2="558.1" stroke="#111" stroke-width="1"/>
<circle cx="388.9" cy="561.5" r="1.1" fill="#111"/>
<circle cx="398.6" cy="561.5" r="1.1" fill="#111"/>
<circle cx="416.2" cy="559.6" r="1.1" fill="#111"/>
<circle cx="424.6" cy="559.6" r="1.1" fill="#111"/>
<circle cx="440.7" cy="567.6" r="1.1" fill="#111"/>
<circle cx="450.1" cy="567.6" r="1.1" fill="#111"/>
<circle cx="466.7" cy="590.3" r="1.1" fill="#111"/>
<circle cx="475.9" cy="590.3" r="1.1" fill="#111"/>
<circle cx="492.8" cy="563.7" r="1.1" fill="#111"/>
<circle cx="501.4" cy="563.7" r="1.1" fill="#111"/>
<line x1="378" y1="521" x2="378" y2="627.5" stroke="#231f20" stroke-width="1"/>
<line x1="377.5" y1="627" x2="512" y2="627" stroke="#231f20" stroke-width="1"/>
<line x1="375.2" y1="621.5" x2="378" y2="621.5" stroke="#231f20" stroke-width="0.9"/>
<text x="0" y="0" font-size="8" text-anchor="end" fill="#231f20" transform="translate(372.6 624.1) scale(0.93 1)">0.50</text>
<line x1="375.2" y1="597.47" x2="378" y2="597.47" stroke="#231f20" stroke-width="0.9"/>
<text x="0" y="0" font-size="8" text-anchor="end" fill="#231f20" transform="translate(372.6 600.07) scale(0.93 1)">0.75</text>
<line x1="375.2" y1="573.44" x2="378" y2="573.44" stroke="#231f20" stroke-width="0.9"/>
<text x="0" y="0" font-size="8" text-anchor="end" fill="#231f20" transform="translate(372.6 576.04) scale(0.93 1)">1.00</text>
<line x1="375.2" y1="549.41" x2="378" y2="549.41" stroke="#231f20" stroke-width="0.9"/>
<text x="0" y="0" font-size="8" text-anchor="end" fill="#231f20" transform="translate(372.6 552.01) scale(0.93 1)">1.25</text>
<line x1="375.2" y1="525.38" x2="378" y2="525.38" stroke="#231f20" stroke-width="0.9"/>
<text x="0" y="0" font-size="8" text-anchor="end" fill="#231f20" transform="translate(372.6 527.98) scale(0.93 1)">1.50</text>
<text x="406.7" y="636.6" font-size="7.5" text-anchor="middle" fill="#231f20">Stable</text>
<text x="458.5" y="636.6" font-size="7.5" text-anchor="middle" fill="#231f20">Corrected</text>
<text x="497.2" y="636.6" font-size="7.5" text-anchor="middle" fill="#231f20">Lost to FU</text>
<text x="0" y="0" font-size="8.2" text-anchor="middle" fill="#231f20" stroke="#231f20" stroke-width="0.22" transform="translate(350.8 572.3) rotate(-90) scale(0.8015 1)">Absolute monocyte count (&#215;10<tspan font-size="5.33" dy="-3">9</tspan><tspan dy="3">/L)</tspan></text>
<rect x="0.5" y="0.5" width="519" height="677" fill="none" stroke="#000" stroke-width="1.1"/>
</svg>
</body></html>
